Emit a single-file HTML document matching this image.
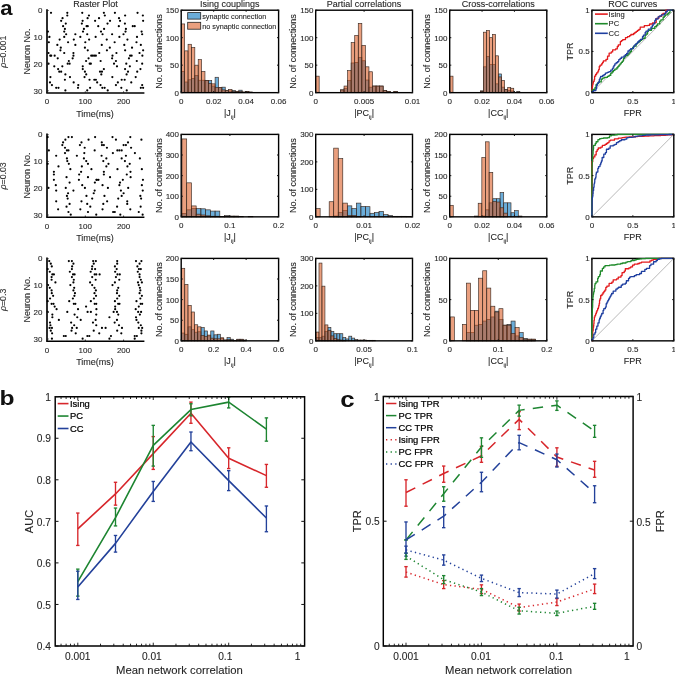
<!DOCTYPE html>
<html><head><meta charset="utf-8"><style>
html,body{margin:0;padding:0;background:#fff;width:675px;height:675px;overflow:hidden}
svg{display:block;filter:blur(0.3px)}
text{font-family:"Liberation Sans",sans-serif}
</style></head><body>
<svg width="675" height="675" viewBox="0 0 675 675">
<rect width="675" height="675" fill="#fff"/>
<text x="0" y="0" font-size="20.5" font-weight="bold" fill="#111" text-anchor="middle" transform="translate(6.5 14.9) scale(1.08 1)">a</text>
<text x="0" y="0" font-size="20.5" font-weight="bold" fill="#111" text-anchor="middle" transform="translate(7.0 405.3) scale(1.2 1)">b</text>
<text x="0" y="0" font-size="21.5" font-weight="bold" fill="#111" text-anchor="middle" transform="translate(347.3 406.6) scale(1.2 1)">c</text>
<text x="95.5" y="7" font-size="9.0" text-anchor="middle" fill="#262626" stroke="#262626" stroke-width="0.1">Raster Plot</text>
<text x="229.7" y="7" font-size="9.0" text-anchor="middle" fill="#262626" stroke="#262626" stroke-width="0.1">Ising couplings</text>
<text x="364" y="7" font-size="9.0" text-anchor="middle" fill="#262626" stroke="#262626" stroke-width="0.1">Partial correlations</text>
<text x="498.3" y="7" font-size="9.0" text-anchor="middle" fill="#262626" stroke="#262626" stroke-width="0.1">Cross-correlations</text>
<text x="632.8" y="7" font-size="9.0" text-anchor="middle" fill="#262626" stroke="#262626" stroke-width="0.1">ROC curves</text>
<circle cx="51.02" cy="12.83" r="1.1" fill="#000"/>
<circle cx="67.3" cy="12.83" r="1.1" fill="#000"/>
<circle cx="82.24" cy="12.83" r="1.1" fill="#000"/>
<circle cx="103.88" cy="12.83" r="1.1" fill="#000"/>
<circle cx="114.91" cy="12.83" r="1.1" fill="#000"/>
<circle cx="137.54" cy="12.83" r="1.1" fill="#000"/>
<circle cx="67.3" cy="15.5" r="1.1" fill="#000"/>
<circle cx="88.94" cy="15.5" r="1.1" fill="#000"/>
<circle cx="104.83" cy="15.5" r="1.1" fill="#000"/>
<circle cx="125.13" cy="15.5" r="1.1" fill="#000"/>
<circle cx="142.86" cy="15.5" r="1.1" fill="#000"/>
<circle cx="62.55" cy="18.18" r="1.1" fill="#000"/>
<circle cx="87.6" cy="18.18" r="1.1" fill="#000"/>
<circle cx="99.01" cy="18.18" r="1.1" fill="#000"/>
<circle cx="119" cy="18.18" r="1.1" fill="#000"/>
<circle cx="61.17" cy="20.86" r="1.1" fill="#000"/>
<circle cx="82.62" cy="20.86" r="1.1" fill="#000"/>
<circle cx="95.1" cy="20.86" r="1.1" fill="#000"/>
<circle cx="110.04" cy="20.86" r="1.1" fill="#000"/>
<circle cx="120.04" cy="20.86" r="1.1" fill="#000"/>
<circle cx="143.13" cy="20.86" r="1.1" fill="#000"/>
<circle cx="65.77" cy="23.53" r="1.1" fill="#000"/>
<circle cx="81.85" cy="23.53" r="1.1" fill="#000"/>
<circle cx="107.51" cy="23.53" r="1.1" fill="#000"/>
<circle cx="124.9" cy="23.53" r="1.1" fill="#000"/>
<circle cx="63.09" cy="26.21" r="1.1" fill="#000"/>
<circle cx="86.6" cy="26.21" r="1.1" fill="#000"/>
<circle cx="87.75" cy="26.21" r="1.1" fill="#000"/>
<circle cx="98.25" cy="26.21" r="1.1" fill="#000"/>
<circle cx="118.81" cy="26.21" r="1.1" fill="#000"/>
<circle cx="132.79" cy="26.21" r="1.1" fill="#000"/>
<circle cx="134.71" cy="26.21" r="1.1" fill="#000"/>
<circle cx="64.89" cy="28.89" r="1.1" fill="#000"/>
<circle cx="83.92" cy="28.89" r="1.1" fill="#000"/>
<circle cx="104.07" cy="28.89" r="1.1" fill="#000"/>
<circle cx="125.9" cy="28.89" r="1.1" fill="#000"/>
<circle cx="47.92" cy="31.57" r="1.1" fill="#000"/>
<circle cx="64.23" cy="31.57" r="1.1" fill="#000"/>
<circle cx="83" cy="31.57" r="1.1" fill="#000"/>
<circle cx="101" cy="31.57" r="1.1" fill="#000"/>
<circle cx="125.51" cy="31.57" r="1.1" fill="#000"/>
<circle cx="141.6" cy="31.57" r="1.1" fill="#000"/>
<circle cx="66.15" cy="34.24" r="1.1" fill="#000"/>
<circle cx="75.34" cy="34.24" r="1.1" fill="#000"/>
<circle cx="87.22" cy="34.24" r="1.1" fill="#000"/>
<circle cx="102.53" cy="34.24" r="1.1" fill="#000"/>
<circle cx="112.11" cy="34.24" r="1.1" fill="#000"/>
<circle cx="123.52" cy="34.24" r="1.1" fill="#000"/>
<circle cx="142.18" cy="34.24" r="1.1" fill="#000"/>
<circle cx="49.45" cy="36.92" r="1.1" fill="#000"/>
<circle cx="64.23" cy="36.92" r="1.1" fill="#000"/>
<circle cx="80.32" cy="36.92" r="1.1" fill="#000"/>
<circle cx="95.64" cy="36.92" r="1.1" fill="#000"/>
<circle cx="119.39" cy="36.92" r="1.1" fill="#000"/>
<circle cx="137" cy="36.92" r="1.1" fill="#000"/>
<circle cx="59.64" cy="39.6" r="1.1" fill="#000"/>
<circle cx="73.81" cy="39.6" r="1.1" fill="#000"/>
<circle cx="89.13" cy="39.6" r="1.1" fill="#000"/>
<circle cx="106.75" cy="39.6" r="1.1" fill="#000"/>
<circle cx="127.43" cy="39.6" r="1.1" fill="#000"/>
<circle cx="48.84" cy="42.27" r="1.1" fill="#000"/>
<circle cx="68.06" cy="42.27" r="1.1" fill="#000"/>
<circle cx="85.3" cy="42.27" r="1.1" fill="#000"/>
<circle cx="114.64" cy="42.27" r="1.1" fill="#000"/>
<circle cx="136.47" cy="42.27" r="1.1" fill="#000"/>
<circle cx="57.34" cy="44.95" r="1.1" fill="#000"/>
<circle cx="75.34" cy="44.95" r="1.1" fill="#000"/>
<circle cx="101.77" cy="44.95" r="1.1" fill="#000"/>
<circle cx="124.29" cy="44.95" r="1.1" fill="#000"/>
<circle cx="140.83" cy="44.95" r="1.1" fill="#000"/>
<circle cx="60.79" cy="47.63" r="1.1" fill="#000"/>
<circle cx="84.92" cy="47.63" r="1.1" fill="#000"/>
<circle cx="109.81" cy="47.63" r="1.1" fill="#000"/>
<circle cx="132.03" cy="47.63" r="1.1" fill="#000"/>
<circle cx="60.41" cy="50.3" r="1.1" fill="#000"/>
<circle cx="87.75" cy="50.3" r="1.1" fill="#000"/>
<circle cx="106.94" cy="50.3" r="1.1" fill="#000"/>
<circle cx="125.13" cy="50.3" r="1.1" fill="#000"/>
<circle cx="143.13" cy="50.3" r="1.1" fill="#000"/>
<circle cx="48.46" cy="52.98" r="1.1" fill="#000"/>
<circle cx="64.23" cy="52.98" r="1.1" fill="#000"/>
<circle cx="73.43" cy="52.98" r="1.1" fill="#000"/>
<circle cx="99.24" cy="52.98" r="1.1" fill="#000"/>
<circle cx="116.44" cy="52.98" r="1.1" fill="#000"/>
<circle cx="139.53" cy="52.98" r="1.1" fill="#000"/>
<circle cx="50.26" cy="55.66" r="1.1" fill="#000"/>
<circle cx="51.21" cy="55.66" r="1.1" fill="#000"/>
<circle cx="54.66" cy="55.66" r="1.1" fill="#000"/>
<circle cx="73.43" cy="55.66" r="1.1" fill="#000"/>
<circle cx="91.24" cy="55.66" r="1.1" fill="#000"/>
<circle cx="92.77" cy="55.66" r="1.1" fill="#000"/>
<circle cx="94.3" cy="55.66" r="1.1" fill="#000"/>
<circle cx="95.87" cy="55.66" r="1.1" fill="#000"/>
<circle cx="112.49" cy="55.66" r="1.1" fill="#000"/>
<circle cx="130.11" cy="55.66" r="1.1" fill="#000"/>
<circle cx="131.64" cy="55.66" r="1.1" fill="#000"/>
<circle cx="142.37" cy="55.66" r="1.1" fill="#000"/>
<circle cx="57.72" cy="58.34" r="1.1" fill="#000"/>
<circle cx="72.66" cy="58.34" r="1.1" fill="#000"/>
<circle cx="88.56" cy="58.34" r="1.1" fill="#000"/>
<circle cx="112.11" cy="58.34" r="1.1" fill="#000"/>
<circle cx="128.96" cy="58.34" r="1.1" fill="#000"/>
<circle cx="68.83" cy="61.01" r="1.1" fill="#000"/>
<circle cx="86.07" cy="61.01" r="1.1" fill="#000"/>
<circle cx="100.62" cy="61.01" r="1.1" fill="#000"/>
<circle cx="115.94" cy="61.01" r="1.1" fill="#000"/>
<circle cx="136.78" cy="61.01" r="1.1" fill="#000"/>
<circle cx="48.53" cy="63.69" r="1.1" fill="#000"/>
<circle cx="67.68" cy="63.69" r="1.1" fill="#000"/>
<circle cx="69.6" cy="63.69" r="1.1" fill="#000"/>
<circle cx="89.7" cy="63.69" r="1.1" fill="#000"/>
<circle cx="90.85" cy="63.69" r="1.1" fill="#000"/>
<circle cx="114.02" cy="63.69" r="1.1" fill="#000"/>
<circle cx="126.28" cy="63.69" r="1.1" fill="#000"/>
<circle cx="142.18" cy="63.69" r="1.1" fill="#000"/>
<circle cx="54.28" cy="66.37" r="1.1" fill="#000"/>
<circle cx="62.32" cy="66.37" r="1.1" fill="#000"/>
<circle cx="82.77" cy="66.37" r="1.1" fill="#000"/>
<circle cx="116.97" cy="66.37" r="1.1" fill="#000"/>
<circle cx="129.84" cy="66.37" r="1.1" fill="#000"/>
<circle cx="58.11" cy="69.04" r="1.1" fill="#000"/>
<circle cx="82.77" cy="69.04" r="1.1" fill="#000"/>
<circle cx="103.88" cy="69.04" r="1.1" fill="#000"/>
<circle cx="125.06" cy="69.04" r="1.1" fill="#000"/>
<circle cx="140.45" cy="69.04" r="1.1" fill="#000"/>
<circle cx="59.26" cy="71.72" r="1.1" fill="#000"/>
<circle cx="61.17" cy="71.72" r="1.1" fill="#000"/>
<circle cx="84.92" cy="71.72" r="1.1" fill="#000"/>
<circle cx="100.01" cy="71.72" r="1.1" fill="#000"/>
<circle cx="101.96" cy="71.72" r="1.1" fill="#000"/>
<circle cx="128" cy="71.72" r="1.1" fill="#000"/>
<circle cx="137.23" cy="71.72" r="1.1" fill="#000"/>
<circle cx="65.38" cy="74.4" r="1.1" fill="#000"/>
<circle cx="86.22" cy="74.4" r="1.1" fill="#000"/>
<circle cx="101.31" cy="74.4" r="1.1" fill="#000"/>
<circle cx="126.59" cy="74.4" r="1.1" fill="#000"/>
<circle cx="50.41" cy="77.08" r="1.1" fill="#000"/>
<circle cx="69.98" cy="77.08" r="1.1" fill="#000"/>
<circle cx="84.53" cy="77.08" r="1.1" fill="#000"/>
<circle cx="112.34" cy="77.08" r="1.1" fill="#000"/>
<circle cx="135.7" cy="77.08" r="1.1" fill="#000"/>
<circle cx="64.89" cy="79.75" r="1.1" fill="#000"/>
<circle cx="89.51" cy="79.75" r="1.1" fill="#000"/>
<circle cx="94.3" cy="79.75" r="1.1" fill="#000"/>
<circle cx="95.87" cy="79.75" r="1.1" fill="#000"/>
<circle cx="121.68" cy="79.75" r="1.1" fill="#000"/>
<circle cx="124.67" cy="79.75" r="1.1" fill="#000"/>
<circle cx="49.99" cy="82.43" r="1.1" fill="#000"/>
<circle cx="73.66" cy="82.43" r="1.1" fill="#000"/>
<circle cx="97.17" cy="82.43" r="1.1" fill="#000"/>
<circle cx="117.85" cy="82.43" r="1.1" fill="#000"/>
<circle cx="131.26" cy="82.43" r="1.1" fill="#000"/>
<circle cx="51.94" cy="85.11" r="1.1" fill="#000"/>
<circle cx="78.29" cy="85.11" r="1.1" fill="#000"/>
<circle cx="100.54" cy="85.11" r="1.1" fill="#000"/>
<circle cx="115.94" cy="85.11" r="1.1" fill="#000"/>
<circle cx="142.18" cy="85.11" r="1.1" fill="#000"/>
<circle cx="56.19" cy="87.78" r="1.1" fill="#000"/>
<circle cx="58.49" cy="87.78" r="1.1" fill="#000"/>
<circle cx="78.02" cy="87.78" r="1.1" fill="#000"/>
<circle cx="90.09" cy="87.78" r="1.1" fill="#000"/>
<circle cx="102.34" cy="87.78" r="1.1" fill="#000"/>
<circle cx="104.64" cy="87.78" r="1.1" fill="#000"/>
<circle cx="121.3" cy="87.78" r="1.1" fill="#000"/>
<circle cx="140.83" cy="87.78" r="1.1" fill="#000"/>
<circle cx="143.13" cy="87.78" r="1.1" fill="#000"/>
<circle cx="65.38" cy="90.46" r="1.1" fill="#000"/>
<circle cx="87.22" cy="90.46" r="1.1" fill="#000"/>
<circle cx="107.71" cy="90.46" r="1.1" fill="#000"/>
<circle cx="126.74" cy="90.46" r="1.1" fill="#000"/>
<line x1="47" y1="9.3" x2="47" y2="93" stroke="#000" stroke-width="1.65"/>
<line x1="46.2" y1="93" x2="144.4" y2="93" stroke="#000" stroke-width="1.65"/>
<line x1="47" y1="10.5" x2="48.6" y2="10.5" stroke="#222" stroke-width="1"/>
<text x="42.5" y="13.2" font-size="8.0" text-anchor="end" fill="#262626" stroke="#262626" stroke-width="0.1">0</text>
<line x1="47" y1="37.27" x2="48.6" y2="37.27" stroke="#222" stroke-width="1"/>
<text x="42.5" y="39.97" font-size="8.0" text-anchor="end" fill="#262626" stroke="#262626" stroke-width="0.1">10</text>
<line x1="47" y1="64.04" x2="48.6" y2="64.04" stroke="#222" stroke-width="1"/>
<text x="42.5" y="66.74" font-size="8.0" text-anchor="end" fill="#262626" stroke="#262626" stroke-width="0.1">20</text>
<line x1="47" y1="90.81" x2="48.6" y2="90.81" stroke="#222" stroke-width="1"/>
<text x="42.5" y="93.51" font-size="8.0" text-anchor="end" fill="#262626" stroke="#262626" stroke-width="0.1">30</text>
<line x1="47" y1="93" x2="47" y2="91.4" stroke="#222" stroke-width="1"/>
<text x="47" y="104.3" font-size="8.0" text-anchor="middle" fill="#262626" stroke="#262626" stroke-width="0.1">0</text>
<line x1="85.3" y1="93" x2="85.3" y2="91.4" stroke="#222" stroke-width="1"/>
<text x="85.3" y="104.3" font-size="8.0" text-anchor="middle" fill="#262626" stroke="#262626" stroke-width="0.1">100</text>
<line x1="123.6" y1="93" x2="123.6" y2="91.4" stroke="#222" stroke-width="1"/>
<text x="123.6" y="104.3" font-size="8.0" text-anchor="middle" fill="#262626" stroke="#262626" stroke-width="0.1">200</text>
<text x="95" y="117" font-size="9.0" text-anchor="middle" fill="#262626" stroke="#262626" stroke-width="0.1">Time(ms)</text>
<text x="30.5" y="51.4" font-size="9.0" text-anchor="middle" fill="#262626" stroke="#262626" stroke-width="0.1" transform="rotate(-90 30.5 51.4)">Neuron No.</text>
<circle cx="47.69" cy="137.03" r="1.1" fill="#000"/>
<circle cx="68.45" cy="137.03" r="1.1" fill="#000"/>
<circle cx="71.89" cy="137.03" r="1.1" fill="#000"/>
<circle cx="95.1" cy="137.03" r="1.1" fill="#000"/>
<circle cx="112.49" cy="137.03" r="1.1" fill="#000"/>
<circle cx="130.3" cy="137.03" r="1.1" fill="#000"/>
<circle cx="65.38" cy="139.7" r="1.1" fill="#000"/>
<circle cx="88.56" cy="139.7" r="1.1" fill="#000"/>
<circle cx="115.94" cy="139.7" r="1.1" fill="#000"/>
<circle cx="141.41" cy="139.7" r="1.1" fill="#000"/>
<circle cx="63.09" cy="142.38" r="1.1" fill="#000"/>
<circle cx="81.47" cy="142.38" r="1.1" fill="#000"/>
<circle cx="101.77" cy="142.38" r="1.1" fill="#000"/>
<circle cx="128" cy="142.38" r="1.1" fill="#000"/>
<circle cx="62.32" cy="145.06" r="1.1" fill="#000"/>
<circle cx="79.94" cy="145.06" r="1.1" fill="#000"/>
<circle cx="101.96" cy="145.06" r="1.1" fill="#000"/>
<circle cx="103.88" cy="145.06" r="1.1" fill="#000"/>
<circle cx="123.6" cy="145.06" r="1.1" fill="#000"/>
<circle cx="125.9" cy="145.06" r="1.1" fill="#000"/>
<circle cx="65" cy="147.74" r="1.1" fill="#000"/>
<circle cx="84.69" cy="147.74" r="1.1" fill="#000"/>
<circle cx="106.94" cy="147.74" r="1.1" fill="#000"/>
<circle cx="131.07" cy="147.74" r="1.1" fill="#000"/>
<circle cx="48.84" cy="150.41" r="1.1" fill="#000"/>
<circle cx="66.92" cy="150.41" r="1.1" fill="#000"/>
<circle cx="68.45" cy="150.41" r="1.1" fill="#000"/>
<circle cx="94.68" cy="150.41" r="1.1" fill="#000"/>
<circle cx="117.36" cy="150.41" r="1.1" fill="#000"/>
<circle cx="119.39" cy="150.41" r="1.1" fill="#000"/>
<circle cx="121.68" cy="150.41" r="1.1" fill="#000"/>
<circle cx="65" cy="153.09" r="1.1" fill="#000"/>
<circle cx="84.3" cy="153.09" r="1.1" fill="#000"/>
<circle cx="112.88" cy="153.09" r="1.1" fill="#000"/>
<circle cx="134.9" cy="153.09" r="1.1" fill="#000"/>
<circle cx="56.19" cy="155.77" r="1.1" fill="#000"/>
<circle cx="76.87" cy="155.77" r="1.1" fill="#000"/>
<circle cx="101.58" cy="155.77" r="1.1" fill="#000"/>
<circle cx="125.9" cy="155.77" r="1.1" fill="#000"/>
<circle cx="66.92" cy="158.44" r="1.1" fill="#000"/>
<circle cx="83.92" cy="158.44" r="1.1" fill="#000"/>
<circle cx="106.36" cy="158.44" r="1.1" fill="#000"/>
<circle cx="121.68" cy="158.44" r="1.1" fill="#000"/>
<circle cx="139.88" cy="158.44" r="1.1" fill="#000"/>
<circle cx="67.3" cy="161.12" r="1.1" fill="#000"/>
<circle cx="86.22" cy="161.12" r="1.1" fill="#000"/>
<circle cx="103.3" cy="161.12" r="1.1" fill="#000"/>
<circle cx="124.9" cy="161.12" r="1.1" fill="#000"/>
<circle cx="47.69" cy="163.8" r="1.1" fill="#000"/>
<circle cx="68.83" cy="163.8" r="1.1" fill="#000"/>
<circle cx="87.98" cy="163.8" r="1.1" fill="#000"/>
<circle cx="108.47" cy="163.8" r="1.1" fill="#000"/>
<circle cx="129.73" cy="163.8" r="1.1" fill="#000"/>
<circle cx="58.49" cy="166.47" r="1.1" fill="#000"/>
<circle cx="81.85" cy="166.47" r="1.1" fill="#000"/>
<circle cx="106.36" cy="166.47" r="1.1" fill="#000"/>
<circle cx="127.43" cy="166.47" r="1.1" fill="#000"/>
<circle cx="70.36" cy="169.15" r="1.1" fill="#000"/>
<circle cx="91.43" cy="169.15" r="1.1" fill="#000"/>
<circle cx="117.47" cy="169.15" r="1.1" fill="#000"/>
<circle cx="141.87" cy="169.15" r="1.1" fill="#000"/>
<circle cx="53.89" cy="171.83" r="1.1" fill="#000"/>
<circle cx="81.09" cy="171.83" r="1.1" fill="#000"/>
<circle cx="103.88" cy="171.83" r="1.1" fill="#000"/>
<circle cx="130.49" cy="171.83" r="1.1" fill="#000"/>
<circle cx="53.89" cy="174.51" r="1.1" fill="#000"/>
<circle cx="79.17" cy="174.51" r="1.1" fill="#000"/>
<circle cx="103.88" cy="174.51" r="1.1" fill="#000"/>
<circle cx="126.78" cy="174.51" r="1.1" fill="#000"/>
<circle cx="66.53" cy="177.18" r="1.1" fill="#000"/>
<circle cx="87.98" cy="177.18" r="1.1" fill="#000"/>
<circle cx="110.04" cy="177.18" r="1.1" fill="#000"/>
<circle cx="130.61" cy="177.18" r="1.1" fill="#000"/>
<circle cx="53.89" cy="179.86" r="1.1" fill="#000"/>
<circle cx="78.9" cy="179.86" r="1.1" fill="#000"/>
<circle cx="96.41" cy="179.86" r="1.1" fill="#000"/>
<circle cx="96.94" cy="179.86" r="1.1" fill="#000"/>
<circle cx="98.48" cy="179.86" r="1.1" fill="#000"/>
<circle cx="122.83" cy="179.86" r="1.1" fill="#000"/>
<circle cx="142.94" cy="179.86" r="1.1" fill="#000"/>
<circle cx="69.6" cy="182.54" r="1.1" fill="#000"/>
<circle cx="94.88" cy="182.54" r="1.1" fill="#000"/>
<circle cx="120.04" cy="182.54" r="1.1" fill="#000"/>
<circle cx="55.81" cy="185.21" r="1.1" fill="#000"/>
<circle cx="82.24" cy="185.21" r="1.1" fill="#000"/>
<circle cx="102.53" cy="185.21" r="1.1" fill="#000"/>
<circle cx="119.39" cy="185.21" r="1.1" fill="#000"/>
<circle cx="141.87" cy="185.21" r="1.1" fill="#000"/>
<circle cx="48.46" cy="187.89" r="1.1" fill="#000"/>
<circle cx="65.77" cy="187.89" r="1.1" fill="#000"/>
<circle cx="84.92" cy="187.89" r="1.1" fill="#000"/>
<circle cx="107.9" cy="187.89" r="1.1" fill="#000"/>
<circle cx="128.2" cy="187.89" r="1.1" fill="#000"/>
<circle cx="56.19" cy="190.57" r="1.1" fill="#000"/>
<circle cx="73.43" cy="190.57" r="1.1" fill="#000"/>
<circle cx="94.68" cy="190.57" r="1.1" fill="#000"/>
<circle cx="120.92" cy="190.57" r="1.1" fill="#000"/>
<circle cx="142.75" cy="190.57" r="1.1" fill="#000"/>
<circle cx="68.06" cy="193.24" r="1.1" fill="#000"/>
<circle cx="93.73" cy="193.24" r="1.1" fill="#000"/>
<circle cx="123.6" cy="193.24" r="1.1" fill="#000"/>
<circle cx="66.92" cy="195.92" r="1.1" fill="#000"/>
<circle cx="86.45" cy="195.92" r="1.1" fill="#000"/>
<circle cx="104.45" cy="195.92" r="1.1" fill="#000"/>
<circle cx="121.68" cy="195.92" r="1.1" fill="#000"/>
<circle cx="140.34" cy="195.92" r="1.1" fill="#000"/>
<circle cx="67.68" cy="198.6" r="1.1" fill="#000"/>
<circle cx="92.19" cy="198.6" r="1.1" fill="#000"/>
<circle cx="118.24" cy="198.6" r="1.1" fill="#000"/>
<circle cx="141.1" cy="198.6" r="1.1" fill="#000"/>
<circle cx="56.19" cy="201.28" r="1.1" fill="#000"/>
<circle cx="81.47" cy="201.28" r="1.1" fill="#000"/>
<circle cx="107.13" cy="201.28" r="1.1" fill="#000"/>
<circle cx="127.24" cy="201.28" r="1.1" fill="#000"/>
<circle cx="69.6" cy="203.95" r="1.1" fill="#000"/>
<circle cx="87.22" cy="203.95" r="1.1" fill="#000"/>
<circle cx="103.3" cy="203.95" r="1.1" fill="#000"/>
<circle cx="127.24" cy="203.95" r="1.1" fill="#000"/>
<circle cx="66.53" cy="206.63" r="1.1" fill="#000"/>
<circle cx="90.28" cy="206.63" r="1.1" fill="#000"/>
<circle cx="117.09" cy="206.63" r="1.1" fill="#000"/>
<circle cx="140.64" cy="206.63" r="1.1" fill="#000"/>
<circle cx="58.11" cy="209.31" r="1.1" fill="#000"/>
<circle cx="80.32" cy="209.31" r="1.1" fill="#000"/>
<circle cx="102.53" cy="209.31" r="1.1" fill="#000"/>
<circle cx="130.3" cy="209.31" r="1.1" fill="#000"/>
<circle cx="68.45" cy="211.98" r="1.1" fill="#000"/>
<circle cx="87.98" cy="211.98" r="1.1" fill="#000"/>
<circle cx="113.11" cy="211.98" r="1.1" fill="#000"/>
<circle cx="114.79" cy="211.98" r="1.1" fill="#000"/>
<circle cx="138.77" cy="211.98" r="1.1" fill="#000"/>
<circle cx="70.75" cy="214.66" r="1.1" fill="#000"/>
<circle cx="96.25" cy="214.66" r="1.1" fill="#000"/>
<circle cx="120.31" cy="214.66" r="1.1" fill="#000"/>
<circle cx="142.64" cy="214.66" r="1.1" fill="#000"/>
<line x1="47" y1="133.5" x2="47" y2="217.2" stroke="#000" stroke-width="1.65"/>
<line x1="46.2" y1="217.2" x2="144.4" y2="217.2" stroke="#000" stroke-width="1.65"/>
<line x1="47" y1="134.7" x2="48.6" y2="134.7" stroke="#222" stroke-width="1"/>
<text x="42.5" y="137.4" font-size="8.0" text-anchor="end" fill="#262626" stroke="#262626" stroke-width="0.1">0</text>
<line x1="47" y1="161.47" x2="48.6" y2="161.47" stroke="#222" stroke-width="1"/>
<text x="42.5" y="164.17" font-size="8.0" text-anchor="end" fill="#262626" stroke="#262626" stroke-width="0.1">10</text>
<line x1="47" y1="188.24" x2="48.6" y2="188.24" stroke="#222" stroke-width="1"/>
<text x="42.5" y="190.94" font-size="8.0" text-anchor="end" fill="#262626" stroke="#262626" stroke-width="0.1">20</text>
<line x1="47" y1="215.01" x2="48.6" y2="215.01" stroke="#222" stroke-width="1"/>
<text x="42.5" y="217.71" font-size="8.0" text-anchor="end" fill="#262626" stroke="#262626" stroke-width="0.1">30</text>
<line x1="47" y1="217.2" x2="47" y2="215.6" stroke="#222" stroke-width="1"/>
<text x="47" y="228.5" font-size="8.0" text-anchor="middle" fill="#262626" stroke="#262626" stroke-width="0.1">0</text>
<line x1="85.3" y1="217.2" x2="85.3" y2="215.6" stroke="#222" stroke-width="1"/>
<text x="85.3" y="228.5" font-size="8.0" text-anchor="middle" fill="#262626" stroke="#262626" stroke-width="0.1">100</text>
<line x1="123.6" y1="217.2" x2="123.6" y2="215.6" stroke="#222" stroke-width="1"/>
<text x="123.6" y="228.5" font-size="8.0" text-anchor="middle" fill="#262626" stroke="#262626" stroke-width="0.1">200</text>
<text x="95" y="241.2" font-size="9.0" text-anchor="middle" fill="#262626" stroke="#262626" stroke-width="0.1">Time(ms)</text>
<text x="30.5" y="175.6" font-size="9.0" text-anchor="middle" fill="#262626" stroke="#262626" stroke-width="0.1" transform="rotate(-90 30.5 175.6)">Neuron No.</text>
<circle cx="49.22" cy="261.03" r="1.1" fill="#000"/>
<circle cx="68.83" cy="261.03" r="1.1" fill="#000"/>
<circle cx="71.89" cy="261.03" r="1.1" fill="#000"/>
<circle cx="93.15" cy="261.03" r="1.1" fill="#000"/>
<circle cx="95.87" cy="261.03" r="1.1" fill="#000"/>
<circle cx="117.2" cy="261.03" r="1.1" fill="#000"/>
<circle cx="136.01" cy="261.03" r="1.1" fill="#000"/>
<circle cx="141.41" cy="261.03" r="1.1" fill="#000"/>
<circle cx="50.79" cy="263.7" r="1.1" fill="#000"/>
<circle cx="73.43" cy="263.7" r="1.1" fill="#000"/>
<circle cx="93.73" cy="263.7" r="1.1" fill="#000"/>
<circle cx="117.2" cy="263.7" r="1.1" fill="#000"/>
<circle cx="139.57" cy="263.7" r="1.1" fill="#000"/>
<circle cx="51.79" cy="266.38" r="1.1" fill="#000"/>
<circle cx="72.12" cy="266.38" r="1.1" fill="#000"/>
<circle cx="92.19" cy="266.38" r="1.1" fill="#000"/>
<circle cx="114.91" cy="266.38" r="1.1" fill="#000"/>
<circle cx="137.39" cy="266.38" r="1.1" fill="#000"/>
<circle cx="47.69" cy="269.06" r="1.1" fill="#000"/>
<circle cx="71.89" cy="269.06" r="1.1" fill="#000"/>
<circle cx="92" cy="269.06" r="1.1" fill="#000"/>
<circle cx="95.1" cy="269.06" r="1.1" fill="#000"/>
<circle cx="116.71" cy="269.06" r="1.1" fill="#000"/>
<circle cx="138.92" cy="269.06" r="1.1" fill="#000"/>
<circle cx="140.83" cy="269.06" r="1.1" fill="#000"/>
<circle cx="49.76" cy="271.73" r="1.1" fill="#000"/>
<circle cx="69.83" cy="271.73" r="1.1" fill="#000"/>
<circle cx="90.66" cy="271.73" r="1.1" fill="#000"/>
<circle cx="115.17" cy="271.73" r="1.1" fill="#000"/>
<circle cx="137.77" cy="271.73" r="1.1" fill="#000"/>
<circle cx="52.32" cy="274.41" r="1.1" fill="#000"/>
<circle cx="53.89" cy="274.41" r="1.1" fill="#000"/>
<circle cx="73.04" cy="274.41" r="1.1" fill="#000"/>
<circle cx="74.58" cy="274.41" r="1.1" fill="#000"/>
<circle cx="94.68" cy="274.41" r="1.1" fill="#000"/>
<circle cx="96.25" cy="274.41" r="1.1" fill="#000"/>
<circle cx="99.62" cy="274.41" r="1.1" fill="#000"/>
<circle cx="117.47" cy="274.41" r="1.1" fill="#000"/>
<circle cx="119.77" cy="274.41" r="1.1" fill="#000"/>
<circle cx="139.57" cy="274.41" r="1.1" fill="#000"/>
<circle cx="51.6" cy="277.09" r="1.1" fill="#000"/>
<circle cx="71.89" cy="277.09" r="1.1" fill="#000"/>
<circle cx="92.19" cy="277.09" r="1.1" fill="#000"/>
<circle cx="115.94" cy="277.09" r="1.1" fill="#000"/>
<circle cx="139.57" cy="277.09" r="1.1" fill="#000"/>
<circle cx="51.6" cy="279.77" r="1.1" fill="#000"/>
<circle cx="73.81" cy="279.77" r="1.1" fill="#000"/>
<circle cx="95.64" cy="279.77" r="1.1" fill="#000"/>
<circle cx="119.27" cy="279.77" r="1.1" fill="#000"/>
<circle cx="140.83" cy="279.77" r="1.1" fill="#000"/>
<circle cx="55.43" cy="282.44" r="1.1" fill="#000"/>
<circle cx="73.43" cy="282.44" r="1.1" fill="#000"/>
<circle cx="90.09" cy="282.44" r="1.1" fill="#000"/>
<circle cx="114.91" cy="282.44" r="1.1" fill="#000"/>
<circle cx="138" cy="282.44" r="1.1" fill="#000"/>
<circle cx="141.87" cy="282.44" r="1.1" fill="#000"/>
<circle cx="48.07" cy="285.12" r="1.1" fill="#000"/>
<circle cx="70.36" cy="285.12" r="1.1" fill="#000"/>
<circle cx="92.19" cy="285.12" r="1.1" fill="#000"/>
<circle cx="112.49" cy="285.12" r="1.1" fill="#000"/>
<circle cx="138.77" cy="285.12" r="1.1" fill="#000"/>
<circle cx="49.76" cy="287.8" r="1.1" fill="#000"/>
<circle cx="74.19" cy="287.8" r="1.1" fill="#000"/>
<circle cx="94.49" cy="287.8" r="1.1" fill="#000"/>
<circle cx="118.24" cy="287.8" r="1.1" fill="#000"/>
<circle cx="139.88" cy="287.8" r="1.1" fill="#000"/>
<circle cx="51.6" cy="290.47" r="1.1" fill="#000"/>
<circle cx="73.43" cy="290.47" r="1.1" fill="#000"/>
<circle cx="95.87" cy="290.47" r="1.1" fill="#000"/>
<circle cx="117.2" cy="290.47" r="1.1" fill="#000"/>
<circle cx="140.34" cy="290.47" r="1.1" fill="#000"/>
<circle cx="51.79" cy="293.15" r="1.1" fill="#000"/>
<circle cx="74.96" cy="293.15" r="1.1" fill="#000"/>
<circle cx="94.49" cy="293.15" r="1.1" fill="#000"/>
<circle cx="116.97" cy="293.15" r="1.1" fill="#000"/>
<circle cx="139.57" cy="293.15" r="1.1" fill="#000"/>
<circle cx="53.13" cy="295.83" r="1.1" fill="#000"/>
<circle cx="74.42" cy="295.83" r="1.1" fill="#000"/>
<circle cx="96.02" cy="295.83" r="1.1" fill="#000"/>
<circle cx="119.27" cy="295.83" r="1.1" fill="#000"/>
<circle cx="141.87" cy="295.83" r="1.1" fill="#000"/>
<circle cx="50.06" cy="298.5" r="1.1" fill="#000"/>
<circle cx="72.89" cy="298.5" r="1.1" fill="#000"/>
<circle cx="93.92" cy="298.5" r="1.1" fill="#000"/>
<circle cx="117.2" cy="298.5" r="1.1" fill="#000"/>
<circle cx="140.34" cy="298.5" r="1.1" fill="#000"/>
<circle cx="47.69" cy="301.18" r="1.1" fill="#000"/>
<circle cx="69.21" cy="301.18" r="1.1" fill="#000"/>
<circle cx="90.85" cy="301.18" r="1.1" fill="#000"/>
<circle cx="114.91" cy="301.18" r="1.1" fill="#000"/>
<circle cx="136.47" cy="301.18" r="1.1" fill="#000"/>
<circle cx="51.6" cy="303.86" r="1.1" fill="#000"/>
<circle cx="53.51" cy="303.86" r="1.1" fill="#000"/>
<circle cx="73.81" cy="303.86" r="1.1" fill="#000"/>
<circle cx="75.34" cy="303.86" r="1.1" fill="#000"/>
<circle cx="94.68" cy="303.86" r="1.1" fill="#000"/>
<circle cx="96.25" cy="303.86" r="1.1" fill="#000"/>
<circle cx="118.12" cy="303.86" r="1.1" fill="#000"/>
<circle cx="119.5" cy="303.86" r="1.1" fill="#000"/>
<circle cx="140.64" cy="303.86" r="1.1" fill="#000"/>
<circle cx="142.18" cy="303.86" r="1.1" fill="#000"/>
<circle cx="54.66" cy="306.54" r="1.1" fill="#000"/>
<circle cx="86.07" cy="306.54" r="1.1" fill="#000"/>
<circle cx="115.17" cy="306.54" r="1.1" fill="#000"/>
<circle cx="138.77" cy="306.54" r="1.1" fill="#000"/>
<circle cx="56.58" cy="309.21" r="1.1" fill="#000"/>
<circle cx="78.02" cy="309.21" r="1.1" fill="#000"/>
<circle cx="96.41" cy="309.21" r="1.1" fill="#000"/>
<circle cx="115.17" cy="309.21" r="1.1" fill="#000"/>
<circle cx="135.7" cy="309.21" r="1.1" fill="#000"/>
<circle cx="47.69" cy="311.89" r="1.1" fill="#000"/>
<circle cx="67.3" cy="311.89" r="1.1" fill="#000"/>
<circle cx="87.6" cy="311.89" r="1.1" fill="#000"/>
<circle cx="90.85" cy="311.89" r="1.1" fill="#000"/>
<circle cx="113.64" cy="311.89" r="1.1" fill="#000"/>
<circle cx="116.97" cy="311.89" r="1.1" fill="#000"/>
<circle cx="138.15" cy="311.89" r="1.1" fill="#000"/>
<circle cx="141.1" cy="311.89" r="1.1" fill="#000"/>
<circle cx="52.36" cy="314.57" r="1.1" fill="#000"/>
<circle cx="74.58" cy="314.57" r="1.1" fill="#000"/>
<circle cx="96.25" cy="314.57" r="1.1" fill="#000"/>
<circle cx="118.24" cy="314.57" r="1.1" fill="#000"/>
<circle cx="139.88" cy="314.57" r="1.1" fill="#000"/>
<circle cx="52.36" cy="317.24" r="1.1" fill="#000"/>
<circle cx="77.26" cy="317.24" r="1.1" fill="#000"/>
<circle cx="109.43" cy="317.24" r="1.1" fill="#000"/>
<circle cx="136.01" cy="317.24" r="1.1" fill="#000"/>
<circle cx="58.87" cy="319.92" r="1.1" fill="#000"/>
<circle cx="80.7" cy="319.92" r="1.1" fill="#000"/>
<circle cx="95.64" cy="319.92" r="1.1" fill="#000"/>
<circle cx="116.97" cy="319.92" r="1.1" fill="#000"/>
<circle cx="136.47" cy="319.92" r="1.1" fill="#000"/>
<circle cx="49.99" cy="322.6" r="1.1" fill="#000"/>
<circle cx="71.13" cy="322.6" r="1.1" fill="#000"/>
<circle cx="92.96" cy="322.6" r="1.1" fill="#000"/>
<circle cx="114.68" cy="322.6" r="1.1" fill="#000"/>
<circle cx="138.31" cy="322.6" r="1.1" fill="#000"/>
<circle cx="50.41" cy="325.27" r="1.1" fill="#000"/>
<circle cx="74.19" cy="325.27" r="1.1" fill="#000"/>
<circle cx="96.25" cy="325.27" r="1.1" fill="#000"/>
<circle cx="119" cy="325.27" r="1.1" fill="#000"/>
<circle cx="140.83" cy="325.27" r="1.1" fill="#000"/>
<circle cx="49.6" cy="327.95" r="1.1" fill="#000"/>
<circle cx="51.94" cy="327.95" r="1.1" fill="#000"/>
<circle cx="72.12" cy="327.95" r="1.1" fill="#000"/>
<circle cx="76.76" cy="327.95" r="1.1" fill="#000"/>
<circle cx="101.96" cy="327.95" r="1.1" fill="#000"/>
<circle cx="105.6" cy="327.95" r="1.1" fill="#000"/>
<circle cx="121.99" cy="327.95" r="1.1" fill="#000"/>
<circle cx="138.77" cy="327.95" r="1.1" fill="#000"/>
<circle cx="142.18" cy="327.95" r="1.1" fill="#000"/>
<circle cx="50.79" cy="330.63" r="1.1" fill="#000"/>
<circle cx="71.51" cy="330.63" r="1.1" fill="#000"/>
<circle cx="93.73" cy="330.63" r="1.1" fill="#000"/>
<circle cx="117.2" cy="330.63" r="1.1" fill="#000"/>
<circle cx="141.41" cy="330.63" r="1.1" fill="#000"/>
<circle cx="52.09" cy="333.31" r="1.1" fill="#000"/>
<circle cx="75.72" cy="333.31" r="1.1" fill="#000"/>
<circle cx="99.24" cy="333.31" r="1.1" fill="#000"/>
<circle cx="121.3" cy="333.31" r="1.1" fill="#000"/>
<circle cx="141.41" cy="333.31" r="1.1" fill="#000"/>
<circle cx="63.85" cy="335.98" r="1.1" fill="#000"/>
<circle cx="65.77" cy="335.98" r="1.1" fill="#000"/>
<circle cx="87.37" cy="335.98" r="1.1" fill="#000"/>
<circle cx="89.32" cy="335.98" r="1.1" fill="#000"/>
<circle cx="110.96" cy="335.98" r="1.1" fill="#000"/>
<circle cx="134.71" cy="335.98" r="1.1" fill="#000"/>
<circle cx="136.85" cy="335.98" r="1.1" fill="#000"/>
<circle cx="51.94" cy="338.66" r="1.1" fill="#000"/>
<circle cx="82.62" cy="338.66" r="1.1" fill="#000"/>
<circle cx="109.43" cy="338.66" r="1.1" fill="#000"/>
<circle cx="134.71" cy="338.66" r="1.1" fill="#000"/>
<line x1="47" y1="257.5" x2="47" y2="341.2" stroke="#000" stroke-width="1.65"/>
<line x1="46.2" y1="341.2" x2="144.4" y2="341.2" stroke="#000" stroke-width="1.65"/>
<line x1="47" y1="258.7" x2="48.6" y2="258.7" stroke="#222" stroke-width="1"/>
<text x="42.5" y="261.4" font-size="8.0" text-anchor="end" fill="#262626" stroke="#262626" stroke-width="0.1">0</text>
<line x1="47" y1="285.47" x2="48.6" y2="285.47" stroke="#222" stroke-width="1"/>
<text x="42.5" y="288.17" font-size="8.0" text-anchor="end" fill="#262626" stroke="#262626" stroke-width="0.1">10</text>
<line x1="47" y1="312.24" x2="48.6" y2="312.24" stroke="#222" stroke-width="1"/>
<text x="42.5" y="314.94" font-size="8.0" text-anchor="end" fill="#262626" stroke="#262626" stroke-width="0.1">20</text>
<line x1="47" y1="339.01" x2="48.6" y2="339.01" stroke="#222" stroke-width="1"/>
<text x="42.5" y="341.71" font-size="8.0" text-anchor="end" fill="#262626" stroke="#262626" stroke-width="0.1">30</text>
<line x1="47" y1="341.2" x2="47" y2="339.6" stroke="#222" stroke-width="1"/>
<text x="47" y="352.5" font-size="8.0" text-anchor="middle" fill="#262626" stroke="#262626" stroke-width="0.1">0</text>
<line x1="85.3" y1="341.2" x2="85.3" y2="339.6" stroke="#222" stroke-width="1"/>
<text x="85.3" y="352.5" font-size="8.0" text-anchor="middle" fill="#262626" stroke="#262626" stroke-width="0.1">100</text>
<line x1="123.6" y1="341.2" x2="123.6" y2="339.6" stroke="#222" stroke-width="1"/>
<text x="123.6" y="352.5" font-size="8.0" text-anchor="middle" fill="#262626" stroke="#262626" stroke-width="0.1">200</text>
<text x="95" y="365.2" font-size="9.0" text-anchor="middle" fill="#262626" stroke="#262626" stroke-width="0.1">Time(ms)</text>
<text x="30.5" y="299.6" font-size="9.0" text-anchor="middle" fill="#262626" stroke="#262626" stroke-width="0.1" transform="rotate(-90 30.5 299.6)">Neuron No.</text>
<text x="6.5" y="51.7" font-size="8.8" text-anchor="middle" fill="#333" stroke="#333" stroke-width="0.1" transform="rotate(-90 6.5 51.7)"><tspan font-style="italic">ρ</tspan>=0.001</text>
<text x="6.5" y="175.9" font-size="8.8" text-anchor="middle" fill="#333" stroke="#333" stroke-width="0.1" transform="rotate(-90 6.5 175.9)"><tspan font-style="italic">ρ</tspan>=0.03</text>
<text x="6.5" y="299.9" font-size="8.8" text-anchor="middle" fill="#333" stroke="#333" stroke-width="0.1" transform="rotate(-90 6.5 299.9)"><tspan font-style="italic">ρ</tspan>=0.3</text>
<rect x="181.3" y="71.32" width="3.38" height="21.33" fill="rgba(0,114,189,0.58)" stroke="#3a2a22" stroke-width="0.65"/>
<rect x="184.68" y="81.99" width="3.38" height="10.66" fill="rgba(0,114,189,0.58)" stroke="#3a2a22" stroke-width="0.65"/>
<rect x="188.06" y="79.79" width="3.38" height="12.86" fill="rgba(0,114,189,0.58)" stroke="#3a2a22" stroke-width="0.65"/>
<rect x="191.44" y="78.36" width="3.38" height="14.29" fill="rgba(0,114,189,0.58)" stroke="#3a2a22" stroke-width="0.65"/>
<rect x="194.82" y="75.61" width="3.38" height="17.04" fill="rgba(0,114,189,0.58)" stroke="#3a2a22" stroke-width="0.65"/>
<rect x="198.2" y="80.23" width="3.38" height="12.42" fill="rgba(0,114,189,0.58)" stroke="#3a2a22" stroke-width="0.65"/>
<rect x="201.58" y="80.23" width="3.38" height="12.42" fill="rgba(0,114,189,0.58)" stroke="#3a2a22" stroke-width="0.65"/>
<rect x="204.96" y="80.56" width="3.38" height="12.09" fill="rgba(0,114,189,0.58)" stroke="#3a2a22" stroke-width="0.65"/>
<rect x="208.34" y="80.56" width="3.38" height="12.09" fill="rgba(0,114,189,0.58)" stroke="#3a2a22" stroke-width="0.65"/>
<rect x="211.72" y="86.05" width="3.38" height="6.6" fill="rgba(0,114,189,0.58)" stroke="#3a2a22" stroke-width="0.65"/>
<rect x="215.1" y="77.26" width="3.38" height="15.39" fill="rgba(0,114,189,0.58)" stroke="#3a2a22" stroke-width="0.65"/>
<rect x="218.48" y="87.7" width="3.38" height="4.95" fill="rgba(0,114,189,0.58)" stroke="#3a2a22" stroke-width="0.65"/>
<rect x="221.86" y="87.15" width="3.38" height="5.5" fill="rgba(0,114,189,0.58)" stroke="#3a2a22" stroke-width="0.65"/>
<rect x="225.24" y="90.45" width="3.38" height="2.2" fill="rgba(0,114,189,0.58)" stroke="#3a2a22" stroke-width="0.65"/>
<rect x="228.62" y="91" width="3.38" height="1.65" fill="rgba(0,114,189,0.58)" stroke="#3a2a22" stroke-width="0.65"/>
<rect x="232" y="90.45" width="3.38" height="2.2" fill="rgba(0,114,189,0.58)" stroke="#3a2a22" stroke-width="0.65"/>
<rect x="235.38" y="91.55" width="3.38" height="1.1" fill="rgba(0,114,189,0.58)" stroke="#3a2a22" stroke-width="0.65"/>
<rect x="238.76" y="90.18" width="3.38" height="2.47" fill="rgba(0,114,189,0.58)" stroke="#3a2a22" stroke-width="0.65"/>
<rect x="242.14" y="92.1" width="3.38" height="0.55" fill="rgba(0,114,189,0.58)" stroke="#3a2a22" stroke-width="0.65"/>
<rect x="245.52" y="91.55" width="3.38" height="1.1" fill="rgba(0,114,189,0.58)" stroke="#3a2a22" stroke-width="0.65"/>
<rect x="248.9" y="92.1" width="3.38" height="0.55" fill="rgba(0,114,189,0.58)" stroke="#3a2a22" stroke-width="0.65"/>
<rect x="181.3" y="23.94" width="3.38" height="68.71" fill="rgba(217,83,25,0.56)" stroke="#3a2a22" stroke-width="0.65"/>
<rect x="184.68" y="50.88" width="3.38" height="41.77" fill="rgba(217,83,25,0.56)" stroke="#3a2a22" stroke-width="0.65"/>
<rect x="188.06" y="44.28" width="3.38" height="48.37" fill="rgba(217,83,25,0.56)" stroke="#3a2a22" stroke-width="0.65"/>
<rect x="191.44" y="47.58" width="3.38" height="45.07" fill="rgba(217,83,25,0.56)" stroke="#3a2a22" stroke-width="0.65"/>
<rect x="194.82" y="65.17" width="3.38" height="27.48" fill="rgba(217,83,25,0.56)" stroke="#3a2a22" stroke-width="0.65"/>
<rect x="198.2" y="59.67" width="3.38" height="32.98" fill="rgba(217,83,25,0.56)" stroke="#3a2a22" stroke-width="0.65"/>
<rect x="201.58" y="71.49" width="3.38" height="21.16" fill="rgba(217,83,25,0.56)" stroke="#3a2a22" stroke-width="0.65"/>
<rect x="204.96" y="80.56" width="3.38" height="12.09" fill="rgba(217,83,25,0.56)" stroke="#3a2a22" stroke-width="0.65"/>
<rect x="208.34" y="83.53" width="3.38" height="9.12" fill="rgba(217,83,25,0.56)" stroke="#3a2a22" stroke-width="0.65"/>
<rect x="211.72" y="83.86" width="3.38" height="8.79" fill="rgba(217,83,25,0.56)" stroke="#3a2a22" stroke-width="0.65"/>
<rect x="215.1" y="87.43" width="3.38" height="5.22" fill="rgba(217,83,25,0.56)" stroke="#3a2a22" stroke-width="0.65"/>
<rect x="218.48" y="87.43" width="3.38" height="5.22" fill="rgba(217,83,25,0.56)" stroke="#3a2a22" stroke-width="0.65"/>
<rect x="221.86" y="89.9" width="3.38" height="2.75" fill="rgba(217,83,25,0.56)" stroke="#3a2a22" stroke-width="0.65"/>
<rect x="225.24" y="90.45" width="3.38" height="2.2" fill="rgba(217,83,25,0.56)" stroke="#3a2a22" stroke-width="0.65"/>
<rect x="228.62" y="89.35" width="3.38" height="3.3" fill="rgba(217,83,25,0.56)" stroke="#3a2a22" stroke-width="0.65"/>
<rect x="232" y="91.55" width="3.38" height="1.1" fill="rgba(217,83,25,0.56)" stroke="#3a2a22" stroke-width="0.65"/>
<rect x="235.38" y="91.55" width="3.38" height="1.1" fill="rgba(217,83,25,0.56)" stroke="#3a2a22" stroke-width="0.65"/>
<rect x="238.76" y="91.55" width="3.38" height="1.1" fill="rgba(217,83,25,0.56)" stroke="#3a2a22" stroke-width="0.65"/>
<rect x="242.14" y="92.1" width="3.38" height="0.55" fill="rgba(217,83,25,0.56)" stroke="#3a2a22" stroke-width="0.65"/>
<rect x="245.52" y="91.55" width="3.38" height="1.1" fill="rgba(217,83,25,0.56)" stroke="#3a2a22" stroke-width="0.65"/>
<rect x="248.9" y="92.1" width="3.38" height="0.55" fill="rgba(217,83,25,0.56)" stroke="#3a2a22" stroke-width="0.65"/>
<rect x="181.2" y="10.2" width="97.4" height="82.45" fill="none" stroke="#000" stroke-width="1.4"/>
<line x1="181.2" y1="92.65" x2="182.8" y2="92.65" stroke="#111" stroke-width="1"/>
<line x1="278.6" y1="92.65" x2="277" y2="92.65" stroke="#111" stroke-width="1"/>
<text x="179" y="95.55" font-size="8.0" text-anchor="end" fill="#262626" stroke="#262626" stroke-width="0.1">0</text>
<line x1="181.2" y1="65.17" x2="182.8" y2="65.17" stroke="#111" stroke-width="1"/>
<line x1="278.6" y1="65.17" x2="277" y2="65.17" stroke="#111" stroke-width="1"/>
<text x="179" y="68.07" font-size="8.0" text-anchor="end" fill="#262626" stroke="#262626" stroke-width="0.1">50</text>
<line x1="181.2" y1="37.68" x2="182.8" y2="37.68" stroke="#111" stroke-width="1"/>
<line x1="278.6" y1="37.68" x2="277" y2="37.68" stroke="#111" stroke-width="1"/>
<text x="179" y="40.58" font-size="8.0" text-anchor="end" fill="#262626" stroke="#262626" stroke-width="0.1">100</text>
<line x1="181.2" y1="10.2" x2="182.8" y2="10.2" stroke="#111" stroke-width="1"/>
<line x1="278.6" y1="10.2" x2="277" y2="10.2" stroke="#111" stroke-width="1"/>
<text x="179" y="13.1" font-size="8.0" text-anchor="end" fill="#262626" stroke="#262626" stroke-width="0.1">150</text>
<line x1="181.2" y1="92.65" x2="181.2" y2="91.05" stroke="#111" stroke-width="1"/>
<line x1="181.2" y1="10.2" x2="181.2" y2="11.8" stroke="#111" stroke-width="1"/>
<text x="181.2" y="103.55" font-size="8.0" text-anchor="middle" fill="#262626" stroke="#262626" stroke-width="0.1">0</text>
<line x1="213.67" y1="92.65" x2="213.67" y2="91.05" stroke="#111" stroke-width="1"/>
<line x1="213.67" y1="10.2" x2="213.67" y2="11.8" stroke="#111" stroke-width="1"/>
<text x="213.67" y="103.55" font-size="8.0" text-anchor="middle" fill="#262626" stroke="#262626" stroke-width="0.1">0.02</text>
<line x1="246.13" y1="92.65" x2="246.13" y2="91.05" stroke="#111" stroke-width="1"/>
<line x1="246.13" y1="10.2" x2="246.13" y2="11.8" stroke="#111" stroke-width="1"/>
<text x="246.13" y="103.55" font-size="8.0" text-anchor="middle" fill="#262626" stroke="#262626" stroke-width="0.1">0.04</text>
<line x1="278.6" y1="92.65" x2="278.6" y2="91.05" stroke="#111" stroke-width="1"/>
<line x1="278.6" y1="10.2" x2="278.6" y2="11.8" stroke="#111" stroke-width="1"/>
<text x="278.6" y="103.55" font-size="8.0" text-anchor="middle" fill="#262626" stroke="#262626" stroke-width="0.1">0.06</text>
<text x="229.9" y="115.85" font-size="9.0" text-anchor="middle" fill="#262626" stroke="#262626" stroke-width="0.1">|J<tspan baseline-shift="sub" font-size="6">ij</tspan>|</text>
<text x="161.6" y="51.42" font-size="9.0" text-anchor="middle" fill="#262626" stroke="#262626" stroke-width="0.1" transform="rotate(-90 161.6 51.42)">No. of connections</text>
<rect x="340.49" y="89.9" width="3.56" height="2.75" fill="rgba(0,114,189,0.58)" stroke="#3a2a22" stroke-width="0.65"/>
<rect x="344.05" y="88.25" width="3.56" height="4.4" fill="rgba(0,114,189,0.58)" stroke="#3a2a22" stroke-width="0.65"/>
<rect x="347.6" y="80.56" width="3.56" height="12.09" fill="rgba(0,114,189,0.58)" stroke="#3a2a22" stroke-width="0.65"/>
<rect x="351.16" y="62.97" width="3.56" height="29.68" fill="rgba(0,114,189,0.58)" stroke="#3a2a22" stroke-width="0.65"/>
<rect x="354.72" y="62.42" width="3.56" height="30.23" fill="rgba(0,114,189,0.58)" stroke="#3a2a22" stroke-width="0.65"/>
<rect x="358.27" y="57.47" width="3.56" height="35.18" fill="rgba(0,114,189,0.58)" stroke="#3a2a22" stroke-width="0.65"/>
<rect x="361.83" y="60.77" width="3.56" height="31.88" fill="rgba(0,114,189,0.58)" stroke="#3a2a22" stroke-width="0.65"/>
<rect x="365.38" y="80.01" width="3.56" height="12.64" fill="rgba(0,114,189,0.58)" stroke="#3a2a22" stroke-width="0.65"/>
<rect x="368.94" y="87.15" width="3.56" height="5.5" fill="rgba(0,114,189,0.58)" stroke="#3a2a22" stroke-width="0.65"/>
<rect x="372.5" y="86.05" width="3.56" height="6.6" fill="rgba(0,114,189,0.58)" stroke="#3a2a22" stroke-width="0.65"/>
<rect x="376.05" y="86.05" width="3.56" height="6.6" fill="rgba(0,114,189,0.58)" stroke="#3a2a22" stroke-width="0.65"/>
<rect x="379.61" y="86.05" width="3.56" height="6.6" fill="rgba(0,114,189,0.58)" stroke="#3a2a22" stroke-width="0.65"/>
<rect x="383.16" y="90.45" width="3.56" height="2.2" fill="rgba(0,114,189,0.58)" stroke="#3a2a22" stroke-width="0.65"/>
<rect x="386.72" y="91.55" width="3.56" height="1.1" fill="rgba(0,114,189,0.58)" stroke="#3a2a22" stroke-width="0.65"/>
<rect x="393.83" y="91.55" width="3.56" height="1.1" fill="rgba(0,114,189,0.58)" stroke="#3a2a22" stroke-width="0.65"/>
<rect x="315.6" y="76.16" width="3.56" height="16.49" fill="rgba(217,83,25,0.56)" stroke="#3a2a22" stroke-width="0.65"/>
<rect x="340.49" y="89.9" width="3.56" height="2.75" fill="rgba(217,83,25,0.56)" stroke="#3a2a22" stroke-width="0.65"/>
<rect x="344.05" y="86.05" width="3.56" height="6.6" fill="rgba(217,83,25,0.56)" stroke="#3a2a22" stroke-width="0.65"/>
<rect x="347.6" y="70.66" width="3.56" height="21.99" fill="rgba(217,83,25,0.56)" stroke="#3a2a22" stroke-width="0.65"/>
<rect x="351.16" y="42.63" width="3.56" height="50.02" fill="rgba(217,83,25,0.56)" stroke="#3a2a22" stroke-width="0.65"/>
<rect x="354.72" y="35.48" width="3.56" height="57.17" fill="rgba(217,83,25,0.56)" stroke="#3a2a22" stroke-width="0.65"/>
<rect x="358.27" y="23.39" width="3.56" height="69.26" fill="rgba(217,83,25,0.56)" stroke="#3a2a22" stroke-width="0.65"/>
<rect x="361.83" y="45.38" width="3.56" height="47.27" fill="rgba(217,83,25,0.56)" stroke="#3a2a22" stroke-width="0.65"/>
<rect x="365.38" y="66.82" width="3.56" height="25.83" fill="rgba(217,83,25,0.56)" stroke="#3a2a22" stroke-width="0.65"/>
<rect x="368.94" y="71.76" width="3.56" height="20.89" fill="rgba(217,83,25,0.56)" stroke="#3a2a22" stroke-width="0.65"/>
<rect x="372.5" y="86.05" width="3.56" height="6.6" fill="rgba(217,83,25,0.56)" stroke="#3a2a22" stroke-width="0.65"/>
<rect x="376.05" y="86.05" width="3.56" height="6.6" fill="rgba(217,83,25,0.56)" stroke="#3a2a22" stroke-width="0.65"/>
<rect x="379.61" y="86.05" width="3.56" height="6.6" fill="rgba(217,83,25,0.56)" stroke="#3a2a22" stroke-width="0.65"/>
<rect x="383.16" y="90.45" width="3.56" height="2.2" fill="rgba(217,83,25,0.56)" stroke="#3a2a22" stroke-width="0.65"/>
<rect x="386.72" y="91.55" width="3.56" height="1.1" fill="rgba(217,83,25,0.56)" stroke="#3a2a22" stroke-width="0.65"/>
<rect x="393.83" y="91.55" width="3.56" height="1.1" fill="rgba(217,83,25,0.56)" stroke="#3a2a22" stroke-width="0.65"/>
<rect x="315.7" y="10.2" width="96.8" height="82.45" fill="none" stroke="#000" stroke-width="1.4"/>
<line x1="315.7" y1="92.65" x2="317.3" y2="92.65" stroke="#111" stroke-width="1"/>
<line x1="412.5" y1="92.65" x2="410.9" y2="92.65" stroke="#111" stroke-width="1"/>
<text x="313.5" y="95.55" font-size="8.0" text-anchor="end" fill="#262626" stroke="#262626" stroke-width="0.1">0</text>
<line x1="315.7" y1="65.17" x2="317.3" y2="65.17" stroke="#111" stroke-width="1"/>
<line x1="412.5" y1="65.17" x2="410.9" y2="65.17" stroke="#111" stroke-width="1"/>
<text x="313.5" y="68.07" font-size="8.0" text-anchor="end" fill="#262626" stroke="#262626" stroke-width="0.1">50</text>
<line x1="315.7" y1="37.68" x2="317.3" y2="37.68" stroke="#111" stroke-width="1"/>
<line x1="412.5" y1="37.68" x2="410.9" y2="37.68" stroke="#111" stroke-width="1"/>
<text x="313.5" y="40.58" font-size="8.0" text-anchor="end" fill="#262626" stroke="#262626" stroke-width="0.1">100</text>
<line x1="315.7" y1="10.2" x2="317.3" y2="10.2" stroke="#111" stroke-width="1"/>
<line x1="412.5" y1="10.2" x2="410.9" y2="10.2" stroke="#111" stroke-width="1"/>
<text x="313.5" y="13.1" font-size="8.0" text-anchor="end" fill="#262626" stroke="#262626" stroke-width="0.1">150</text>
<line x1="315.7" y1="92.65" x2="315.7" y2="91.05" stroke="#111" stroke-width="1"/>
<line x1="315.7" y1="10.2" x2="315.7" y2="11.8" stroke="#111" stroke-width="1"/>
<text x="315.7" y="103.55" font-size="8.0" text-anchor="middle" fill="#262626" stroke="#262626" stroke-width="0.1">0</text>
<line x1="364.1" y1="92.65" x2="364.1" y2="91.05" stroke="#111" stroke-width="1"/>
<line x1="364.1" y1="10.2" x2="364.1" y2="11.8" stroke="#111" stroke-width="1"/>
<text x="364.1" y="103.55" font-size="8.0" text-anchor="middle" fill="#262626" stroke="#262626" stroke-width="0.1">0.005</text>
<line x1="412.5" y1="92.65" x2="412.5" y2="91.05" stroke="#111" stroke-width="1"/>
<line x1="412.5" y1="10.2" x2="412.5" y2="11.8" stroke="#111" stroke-width="1"/>
<text x="412.5" y="103.55" font-size="8.0" text-anchor="middle" fill="#262626" stroke="#262626" stroke-width="0.1">0.01</text>
<text x="364.1" y="115.85" font-size="9.0" text-anchor="middle" fill="#262626" stroke="#262626" stroke-width="0.1">|PC<tspan baseline-shift="sub" font-size="6">ij</tspan>|</text>
<text x="296.1" y="51.42" font-size="9.0" text-anchor="middle" fill="#262626" stroke="#262626" stroke-width="0.1" transform="rotate(-90 296.1 51.42)">No. of connections</text>
<rect x="480.42" y="91" width="3.03" height="1.65" fill="rgba(0,114,189,0.58)" stroke="#3a2a22" stroke-width="0.65"/>
<rect x="483.45" y="66.82" width="3.03" height="25.83" fill="rgba(0,114,189,0.58)" stroke="#3a2a22" stroke-width="0.65"/>
<rect x="486.48" y="56.37" width="3.03" height="36.28" fill="rgba(0,114,189,0.58)" stroke="#3a2a22" stroke-width="0.65"/>
<rect x="489.51" y="64.62" width="3.03" height="28.03" fill="rgba(0,114,189,0.58)" stroke="#3a2a22" stroke-width="0.65"/>
<rect x="492.54" y="64.62" width="3.03" height="28.03" fill="rgba(0,114,189,0.58)" stroke="#3a2a22" stroke-width="0.65"/>
<rect x="495.57" y="83.86" width="3.03" height="8.79" fill="rgba(0,114,189,0.58)" stroke="#3a2a22" stroke-width="0.65"/>
<rect x="498.6" y="73.96" width="3.03" height="18.69" fill="rgba(0,114,189,0.58)" stroke="#3a2a22" stroke-width="0.65"/>
<rect x="501.63" y="87.15" width="3.03" height="5.5" fill="rgba(0,114,189,0.58)" stroke="#3a2a22" stroke-width="0.65"/>
<rect x="504.66" y="89.35" width="3.03" height="3.3" fill="rgba(0,114,189,0.58)" stroke="#3a2a22" stroke-width="0.65"/>
<rect x="507.69" y="90.45" width="3.03" height="2.2" fill="rgba(0,114,189,0.58)" stroke="#3a2a22" stroke-width="0.65"/>
<rect x="510.72" y="91" width="3.03" height="1.65" fill="rgba(0,114,189,0.58)" stroke="#3a2a22" stroke-width="0.65"/>
<rect x="516.78" y="91.55" width="3.03" height="1.1" fill="rgba(0,114,189,0.58)" stroke="#3a2a22" stroke-width="0.65"/>
<rect x="449.8" y="76.16" width="3.2" height="16.49" fill="rgba(217,83,25,0.56)" stroke="#3a2a22" stroke-width="0.65"/>
<rect x="480.42" y="91" width="3.03" height="1.65" fill="rgba(217,83,25,0.56)" stroke="#3a2a22" stroke-width="0.65"/>
<rect x="483.45" y="32.19" width="3.03" height="60.46" fill="rgba(217,83,25,0.56)" stroke="#3a2a22" stroke-width="0.65"/>
<rect x="486.48" y="30.54" width="3.03" height="62.11" fill="rgba(217,83,25,0.56)" stroke="#3a2a22" stroke-width="0.65"/>
<rect x="489.51" y="37.68" width="3.03" height="54.97" fill="rgba(217,83,25,0.56)" stroke="#3a2a22" stroke-width="0.65"/>
<rect x="492.54" y="34.39" width="3.03" height="58.26" fill="rgba(217,83,25,0.56)" stroke="#3a2a22" stroke-width="0.65"/>
<rect x="495.57" y="55.82" width="3.03" height="36.83" fill="rgba(217,83,25,0.56)" stroke="#3a2a22" stroke-width="0.65"/>
<rect x="498.6" y="76.93" width="3.03" height="15.72" fill="rgba(217,83,25,0.56)" stroke="#3a2a22" stroke-width="0.65"/>
<rect x="501.63" y="80.39" width="3.03" height="12.26" fill="rgba(217,83,25,0.56)" stroke="#3a2a22" stroke-width="0.65"/>
<rect x="504.66" y="89.35" width="3.03" height="3.3" fill="rgba(217,83,25,0.56)" stroke="#3a2a22" stroke-width="0.65"/>
<rect x="507.69" y="87.32" width="3.03" height="5.33" fill="rgba(217,83,25,0.56)" stroke="#3a2a22" stroke-width="0.65"/>
<rect x="510.72" y="88.25" width="3.03" height="4.4" fill="rgba(217,83,25,0.56)" stroke="#3a2a22" stroke-width="0.65"/>
<rect x="516.78" y="92.1" width="3.03" height="0.55" fill="rgba(217,83,25,0.56)" stroke="#3a2a22" stroke-width="0.65"/>
<rect x="449.7" y="10.2" width="97.1" height="82.45" fill="none" stroke="#000" stroke-width="1.4"/>
<line x1="449.7" y1="92.65" x2="451.3" y2="92.65" stroke="#111" stroke-width="1"/>
<line x1="546.8" y1="92.65" x2="545.2" y2="92.65" stroke="#111" stroke-width="1"/>
<text x="447.5" y="95.55" font-size="8.0" text-anchor="end" fill="#262626" stroke="#262626" stroke-width="0.1">0</text>
<line x1="449.7" y1="65.17" x2="451.3" y2="65.17" stroke="#111" stroke-width="1"/>
<line x1="546.8" y1="65.17" x2="545.2" y2="65.17" stroke="#111" stroke-width="1"/>
<text x="447.5" y="68.07" font-size="8.0" text-anchor="end" fill="#262626" stroke="#262626" stroke-width="0.1">50</text>
<line x1="449.7" y1="37.68" x2="451.3" y2="37.68" stroke="#111" stroke-width="1"/>
<line x1="546.8" y1="37.68" x2="545.2" y2="37.68" stroke="#111" stroke-width="1"/>
<text x="447.5" y="40.58" font-size="8.0" text-anchor="end" fill="#262626" stroke="#262626" stroke-width="0.1">100</text>
<line x1="449.7" y1="10.2" x2="451.3" y2="10.2" stroke="#111" stroke-width="1"/>
<line x1="546.8" y1="10.2" x2="545.2" y2="10.2" stroke="#111" stroke-width="1"/>
<text x="447.5" y="13.1" font-size="8.0" text-anchor="end" fill="#262626" stroke="#262626" stroke-width="0.1">150</text>
<line x1="449.7" y1="92.65" x2="449.7" y2="91.05" stroke="#111" stroke-width="1"/>
<line x1="449.7" y1="10.2" x2="449.7" y2="11.8" stroke="#111" stroke-width="1"/>
<text x="449.7" y="103.55" font-size="8.0" text-anchor="middle" fill="#262626" stroke="#262626" stroke-width="0.1">0</text>
<line x1="482.07" y1="92.65" x2="482.07" y2="91.05" stroke="#111" stroke-width="1"/>
<line x1="482.07" y1="10.2" x2="482.07" y2="11.8" stroke="#111" stroke-width="1"/>
<text x="482.07" y="103.55" font-size="8.0" text-anchor="middle" fill="#262626" stroke="#262626" stroke-width="0.1">0.02</text>
<line x1="514.43" y1="92.65" x2="514.43" y2="91.05" stroke="#111" stroke-width="1"/>
<line x1="514.43" y1="10.2" x2="514.43" y2="11.8" stroke="#111" stroke-width="1"/>
<text x="514.43" y="103.55" font-size="8.0" text-anchor="middle" fill="#262626" stroke="#262626" stroke-width="0.1">0.04</text>
<line x1="546.8" y1="92.65" x2="546.8" y2="91.05" stroke="#111" stroke-width="1"/>
<line x1="546.8" y1="10.2" x2="546.8" y2="11.8" stroke="#111" stroke-width="1"/>
<text x="546.8" y="103.55" font-size="8.0" text-anchor="middle" fill="#262626" stroke="#262626" stroke-width="0.1">0.06</text>
<text x="498.25" y="115.85" font-size="9.0" text-anchor="middle" fill="#262626" stroke="#262626" stroke-width="0.1">|CC<tspan baseline-shift="sub" font-size="6">ij</tspan>|</text>
<text x="430.1" y="51.42" font-size="9.0" text-anchor="middle" fill="#262626" stroke="#262626" stroke-width="0.1" transform="rotate(-90 430.1 51.42)">No. of connections</text>
<rect x="181.97" y="213.35" width="4.73" height="3.5" fill="rgba(0,114,189,0.58)" stroke="#3a2a22" stroke-width="0.65"/>
<rect x="186.7" y="209.84" width="4.73" height="7.01" fill="rgba(0,114,189,0.58)" stroke="#3a2a22" stroke-width="0.65"/>
<rect x="191.43" y="208.4" width="4.73" height="8.45" fill="rgba(0,114,189,0.58)" stroke="#3a2a22" stroke-width="0.65"/>
<rect x="196.16" y="208.61" width="4.73" height="8.25" fill="rgba(0,114,189,0.58)" stroke="#3a2a22" stroke-width="0.65"/>
<rect x="200.89" y="208.81" width="4.73" height="8.04" fill="rgba(0,114,189,0.58)" stroke="#3a2a22" stroke-width="0.65"/>
<rect x="205.62" y="209.84" width="4.73" height="7.01" fill="rgba(0,114,189,0.58)" stroke="#3a2a22" stroke-width="0.65"/>
<rect x="210.35" y="211.08" width="4.73" height="5.77" fill="rgba(0,114,189,0.58)" stroke="#3a2a22" stroke-width="0.65"/>
<rect x="215.08" y="211.08" width="4.73" height="5.77" fill="rgba(0,114,189,0.58)" stroke="#3a2a22" stroke-width="0.65"/>
<rect x="219.81" y="216.44" width="4.73" height="0.41" fill="rgba(0,114,189,0.58)" stroke="#3a2a22" stroke-width="0.65"/>
<rect x="224.54" y="215.61" width="4.73" height="1.24" fill="rgba(0,114,189,0.58)" stroke="#3a2a22" stroke-width="0.65"/>
<rect x="229.27" y="216.03" width="4.73" height="0.82" fill="rgba(0,114,189,0.58)" stroke="#3a2a22" stroke-width="0.65"/>
<rect x="234" y="216.03" width="4.73" height="0.82" fill="rgba(0,114,189,0.58)" stroke="#3a2a22" stroke-width="0.65"/>
<rect x="238.73" y="216.64" width="4.73" height="0.21" fill="rgba(0,114,189,0.58)" stroke="#3a2a22" stroke-width="0.65"/>
<rect x="248.19" y="216.44" width="4.73" height="0.41" fill="rgba(0,114,189,0.58)" stroke="#3a2a22" stroke-width="0.65"/>
<rect x="181.97" y="138.93" width="4.73" height="77.92" fill="rgba(217,83,25,0.56)" stroke="#3a2a22" stroke-width="0.65"/>
<rect x="186.7" y="182.84" width="4.73" height="34.01" fill="rgba(217,83,25,0.56)" stroke="#3a2a22" stroke-width="0.65"/>
<rect x="191.43" y="205.93" width="4.73" height="10.92" fill="rgba(217,83,25,0.56)" stroke="#3a2a22" stroke-width="0.65"/>
<rect x="196.16" y="214.17" width="4.73" height="2.68" fill="rgba(217,83,25,0.56)" stroke="#3a2a22" stroke-width="0.65"/>
<rect x="200.89" y="214.99" width="4.73" height="1.86" fill="rgba(217,83,25,0.56)" stroke="#3a2a22" stroke-width="0.65"/>
<rect x="205.62" y="215.82" width="4.73" height="1.03" fill="rgba(217,83,25,0.56)" stroke="#3a2a22" stroke-width="0.65"/>
<rect x="210.35" y="216.23" width="4.73" height="0.62" fill="rgba(217,83,25,0.56)" stroke="#3a2a22" stroke-width="0.65"/>
<rect x="215.08" y="216.23" width="4.73" height="0.62" fill="rgba(217,83,25,0.56)" stroke="#3a2a22" stroke-width="0.65"/>
<rect x="219.81" y="216.64" width="4.73" height="0.21" fill="rgba(217,83,25,0.56)" stroke="#3a2a22" stroke-width="0.65"/>
<rect x="224.54" y="216.64" width="4.73" height="0.21" fill="rgba(217,83,25,0.56)" stroke="#3a2a22" stroke-width="0.65"/>
<rect x="229.27" y="216.64" width="4.73" height="0.21" fill="rgba(217,83,25,0.56)" stroke="#3a2a22" stroke-width="0.65"/>
<rect x="234" y="216.64" width="4.73" height="0.21" fill="rgba(217,83,25,0.56)" stroke="#3a2a22" stroke-width="0.65"/>
<rect x="181.2" y="134.4" width="97.4" height="82.45" fill="none" stroke="#000" stroke-width="1.4"/>
<line x1="181.2" y1="216.85" x2="182.8" y2="216.85" stroke="#111" stroke-width="1"/>
<line x1="278.6" y1="216.85" x2="277" y2="216.85" stroke="#111" stroke-width="1"/>
<text x="179" y="219.75" font-size="8.0" text-anchor="end" fill="#262626" stroke="#262626" stroke-width="0.1">0</text>
<line x1="181.2" y1="196.24" x2="182.8" y2="196.24" stroke="#111" stroke-width="1"/>
<line x1="278.6" y1="196.24" x2="277" y2="196.24" stroke="#111" stroke-width="1"/>
<text x="179" y="199.14" font-size="8.0" text-anchor="end" fill="#262626" stroke="#262626" stroke-width="0.1">100</text>
<line x1="181.2" y1="175.63" x2="182.8" y2="175.63" stroke="#111" stroke-width="1"/>
<line x1="278.6" y1="175.63" x2="277" y2="175.63" stroke="#111" stroke-width="1"/>
<text x="179" y="178.53" font-size="8.0" text-anchor="end" fill="#262626" stroke="#262626" stroke-width="0.1">200</text>
<line x1="181.2" y1="155.01" x2="182.8" y2="155.01" stroke="#111" stroke-width="1"/>
<line x1="278.6" y1="155.01" x2="277" y2="155.01" stroke="#111" stroke-width="1"/>
<text x="179" y="157.91" font-size="8.0" text-anchor="end" fill="#262626" stroke="#262626" stroke-width="0.1">300</text>
<line x1="181.2" y1="134.4" x2="182.8" y2="134.4" stroke="#111" stroke-width="1"/>
<line x1="278.6" y1="134.4" x2="277" y2="134.4" stroke="#111" stroke-width="1"/>
<text x="179" y="137.3" font-size="8.0" text-anchor="end" fill="#262626" stroke="#262626" stroke-width="0.1">400</text>
<line x1="181.2" y1="216.85" x2="181.2" y2="215.25" stroke="#111" stroke-width="1"/>
<line x1="181.2" y1="134.4" x2="181.2" y2="136" stroke="#111" stroke-width="1"/>
<text x="181.2" y="227.75" font-size="8.0" text-anchor="middle" fill="#262626" stroke="#262626" stroke-width="0.1">0</text>
<line x1="229.9" y1="216.85" x2="229.9" y2="215.25" stroke="#111" stroke-width="1"/>
<line x1="229.9" y1="134.4" x2="229.9" y2="136" stroke="#111" stroke-width="1"/>
<text x="229.9" y="227.75" font-size="8.0" text-anchor="middle" fill="#262626" stroke="#262626" stroke-width="0.1">0.1</text>
<line x1="278.6" y1="216.85" x2="278.6" y2="215.25" stroke="#111" stroke-width="1"/>
<line x1="278.6" y1="134.4" x2="278.6" y2="136" stroke="#111" stroke-width="1"/>
<text x="278.6" y="227.75" font-size="8.0" text-anchor="middle" fill="#262626" stroke="#262626" stroke-width="0.1">0.2</text>
<text x="229.9" y="240.05" font-size="9.0" text-anchor="middle" fill="#262626" stroke="#262626" stroke-width="0.1">|J<tspan baseline-shift="sub" font-size="6">ij</tspan>|</text>
<text x="161.6" y="175.62" font-size="9.0" text-anchor="middle" fill="#262626" stroke="#262626" stroke-width="0.1" transform="rotate(-90 161.6 175.62)">No. of connections</text>
<rect x="333.72" y="216.03" width="4.53" height="0.82" fill="rgba(0,114,189,0.58)" stroke="#3a2a22" stroke-width="0.65"/>
<rect x="338.25" y="212.45" width="4.53" height="4.4" fill="rgba(0,114,189,0.58)" stroke="#3a2a22" stroke-width="0.65"/>
<rect x="342.78" y="210.53" width="4.53" height="6.32" fill="rgba(0,114,189,0.58)" stroke="#3a2a22" stroke-width="0.65"/>
<rect x="347.31" y="205.86" width="4.53" height="10.99" fill="rgba(0,114,189,0.58)" stroke="#3a2a22" stroke-width="0.65"/>
<rect x="351.84" y="208.61" width="4.53" height="8.24" fill="rgba(0,114,189,0.58)" stroke="#3a2a22" stroke-width="0.65"/>
<rect x="356.37" y="203.11" width="4.53" height="13.74" fill="rgba(0,114,189,0.58)" stroke="#3a2a22" stroke-width="0.65"/>
<rect x="360.9" y="206.41" width="4.53" height="10.44" fill="rgba(0,114,189,0.58)" stroke="#3a2a22" stroke-width="0.65"/>
<rect x="365.43" y="206.68" width="4.53" height="10.17" fill="rgba(0,114,189,0.58)" stroke="#3a2a22" stroke-width="0.65"/>
<rect x="369.96" y="213.28" width="4.53" height="3.57" fill="rgba(0,114,189,0.58)" stroke="#3a2a22" stroke-width="0.65"/>
<rect x="374.49" y="212.45" width="4.53" height="4.4" fill="rgba(0,114,189,0.58)" stroke="#3a2a22" stroke-width="0.65"/>
<rect x="379.02" y="211.35" width="4.53" height="5.5" fill="rgba(0,114,189,0.58)" stroke="#3a2a22" stroke-width="0.65"/>
<rect x="383.55" y="214.65" width="4.53" height="2.2" fill="rgba(0,114,189,0.58)" stroke="#3a2a22" stroke-width="0.65"/>
<rect x="388.08" y="215.48" width="4.53" height="1.37" fill="rgba(0,114,189,0.58)" stroke="#3a2a22" stroke-width="0.65"/>
<rect x="392.61" y="216.3" width="4.53" height="0.55" fill="rgba(0,114,189,0.58)" stroke="#3a2a22" stroke-width="0.65"/>
<rect x="397.14" y="216.3" width="4.53" height="0.55" fill="rgba(0,114,189,0.58)" stroke="#3a2a22" stroke-width="0.65"/>
<rect x="401.67" y="216.3" width="4.53" height="0.55" fill="rgba(0,114,189,0.58)" stroke="#3a2a22" stroke-width="0.65"/>
<rect x="406.2" y="216.58" width="4.53" height="0.27" fill="rgba(0,114,189,0.58)" stroke="#3a2a22" stroke-width="0.65"/>
<rect x="315.6" y="208.61" width="4.53" height="8.24" fill="rgba(217,83,25,0.56)" stroke="#3a2a22" stroke-width="0.65"/>
<rect x="329.19" y="201.73" width="4.53" height="15.12" fill="rgba(217,83,25,0.56)" stroke="#3a2a22" stroke-width="0.65"/>
<rect x="333.72" y="148.14" width="4.53" height="68.71" fill="rgba(217,83,25,0.56)" stroke="#3a2a22" stroke-width="0.65"/>
<rect x="338.25" y="158.59" width="4.53" height="58.26" fill="rgba(217,83,25,0.56)" stroke="#3a2a22" stroke-width="0.65"/>
<rect x="342.78" y="203.11" width="4.53" height="13.74" fill="rgba(217,83,25,0.56)" stroke="#3a2a22" stroke-width="0.65"/>
<rect x="347.31" y="215.48" width="4.53" height="1.37" fill="rgba(217,83,25,0.56)" stroke="#3a2a22" stroke-width="0.65"/>
<rect x="351.84" y="215.48" width="4.53" height="1.37" fill="rgba(217,83,25,0.56)" stroke="#3a2a22" stroke-width="0.65"/>
<rect x="356.37" y="216.3" width="4.53" height="0.55" fill="rgba(217,83,25,0.56)" stroke="#3a2a22" stroke-width="0.65"/>
<rect x="315.7" y="134.4" width="96.8" height="82.45" fill="none" stroke="#000" stroke-width="1.4"/>
<line x1="315.7" y1="216.85" x2="317.3" y2="216.85" stroke="#111" stroke-width="1"/>
<line x1="412.5" y1="216.85" x2="410.9" y2="216.85" stroke="#111" stroke-width="1"/>
<text x="313.5" y="219.75" font-size="8.0" text-anchor="end" fill="#262626" stroke="#262626" stroke-width="0.1">0</text>
<line x1="315.7" y1="189.37" x2="317.3" y2="189.37" stroke="#111" stroke-width="1"/>
<line x1="412.5" y1="189.37" x2="410.9" y2="189.37" stroke="#111" stroke-width="1"/>
<text x="313.5" y="192.27" font-size="8.0" text-anchor="end" fill="#262626" stroke="#262626" stroke-width="0.1">100</text>
<line x1="315.7" y1="161.88" x2="317.3" y2="161.88" stroke="#111" stroke-width="1"/>
<line x1="412.5" y1="161.88" x2="410.9" y2="161.88" stroke="#111" stroke-width="1"/>
<text x="313.5" y="164.78" font-size="8.0" text-anchor="end" fill="#262626" stroke="#262626" stroke-width="0.1">200</text>
<line x1="315.7" y1="134.4" x2="317.3" y2="134.4" stroke="#111" stroke-width="1"/>
<line x1="412.5" y1="134.4" x2="410.9" y2="134.4" stroke="#111" stroke-width="1"/>
<text x="313.5" y="137.3" font-size="8.0" text-anchor="end" fill="#262626" stroke="#262626" stroke-width="0.1">300</text>
<line x1="315.7" y1="216.85" x2="315.7" y2="215.25" stroke="#111" stroke-width="1"/>
<line x1="315.7" y1="134.4" x2="315.7" y2="136" stroke="#111" stroke-width="1"/>
<text x="315.7" y="227.75" font-size="8.0" text-anchor="middle" fill="#262626" stroke="#262626" stroke-width="0.1">0</text>
<line x1="364.1" y1="216.85" x2="364.1" y2="215.25" stroke="#111" stroke-width="1"/>
<line x1="364.1" y1="134.4" x2="364.1" y2="136" stroke="#111" stroke-width="1"/>
<text x="364.1" y="227.75" font-size="8.0" text-anchor="middle" fill="#262626" stroke="#262626" stroke-width="0.1">0.01</text>
<line x1="412.5" y1="216.85" x2="412.5" y2="215.25" stroke="#111" stroke-width="1"/>
<line x1="412.5" y1="134.4" x2="412.5" y2="136" stroke="#111" stroke-width="1"/>
<text x="412.5" y="227.75" font-size="8.0" text-anchor="middle" fill="#262626" stroke="#262626" stroke-width="0.1">0.02</text>
<text x="364.1" y="240.05" font-size="9.0" text-anchor="middle" fill="#262626" stroke="#262626" stroke-width="0.1">|PC<tspan baseline-shift="sub" font-size="6">ij</tspan>|</text>
<text x="296.1" y="175.62" font-size="9.0" text-anchor="middle" fill="#262626" stroke="#262626" stroke-width="0.1" transform="rotate(-90 296.1 175.62)">No. of connections</text>
<rect x="481.84" y="216.03" width="3.64" height="0.82" fill="rgba(0,114,189,0.58)" stroke="#3a2a22" stroke-width="0.65"/>
<rect x="485.49" y="209.84" width="3.64" height="7.01" fill="rgba(0,114,189,0.58)" stroke="#3a2a22" stroke-width="0.65"/>
<rect x="489.13" y="202.83" width="3.64" height="14.02" fill="rgba(0,114,189,0.58)" stroke="#3a2a22" stroke-width="0.65"/>
<rect x="492.78" y="198.71" width="3.64" height="18.14" fill="rgba(0,114,189,0.58)" stroke="#3a2a22" stroke-width="0.65"/>
<rect x="496.42" y="198.71" width="3.64" height="18.14" fill="rgba(0,114,189,0.58)" stroke="#3a2a22" stroke-width="0.65"/>
<rect x="500.06" y="192.53" width="3.64" height="24.32" fill="rgba(0,114,189,0.58)" stroke="#3a2a22" stroke-width="0.65"/>
<rect x="503.71" y="202.83" width="3.64" height="14.02" fill="rgba(0,114,189,0.58)" stroke="#3a2a22" stroke-width="0.65"/>
<rect x="507.35" y="202.83" width="3.64" height="14.02" fill="rgba(0,114,189,0.58)" stroke="#3a2a22" stroke-width="0.65"/>
<rect x="511" y="212.73" width="3.64" height="4.12" fill="rgba(0,114,189,0.58)" stroke="#3a2a22" stroke-width="0.65"/>
<rect x="514.64" y="210.67" width="3.64" height="6.18" fill="rgba(0,114,189,0.58)" stroke="#3a2a22" stroke-width="0.65"/>
<rect x="518.28" y="216.03" width="3.64" height="0.82" fill="rgba(0,114,189,0.58)" stroke="#3a2a22" stroke-width="0.65"/>
<rect x="474.56" y="216.03" width="3.64" height="0.82" fill="rgba(0,114,189,0.58)" stroke="#3a2a22" stroke-width="0.65"/>
<rect x="449.6" y="205.31" width="3.64" height="11.54" fill="rgba(217,83,25,0.56)" stroke="#3a2a22" stroke-width="0.65"/>
<rect x="478.2" y="203.25" width="3.64" height="13.6" fill="rgba(217,83,25,0.56)" stroke="#3a2a22" stroke-width="0.65"/>
<rect x="481.84" y="157.49" width="3.64" height="59.36" fill="rgba(217,83,25,0.56)" stroke="#3a2a22" stroke-width="0.65"/>
<rect x="485.49" y="141.82" width="3.64" height="75.03" fill="rgba(217,83,25,0.56)" stroke="#3a2a22" stroke-width="0.65"/>
<rect x="489.13" y="172.33" width="3.64" height="44.52" fill="rgba(217,83,25,0.56)" stroke="#3a2a22" stroke-width="0.65"/>
<rect x="492.78" y="201.6" width="3.64" height="15.25" fill="rgba(217,83,25,0.56)" stroke="#3a2a22" stroke-width="0.65"/>
<rect x="496.42" y="202.01" width="3.64" height="14.84" fill="rgba(217,83,25,0.56)" stroke="#3a2a22" stroke-width="0.65"/>
<rect x="500.06" y="207.78" width="3.64" height="9.07" fill="rgba(217,83,25,0.56)" stroke="#3a2a22" stroke-width="0.65"/>
<rect x="503.71" y="213.14" width="3.64" height="3.71" fill="rgba(217,83,25,0.56)" stroke="#3a2a22" stroke-width="0.65"/>
<rect x="449.7" y="134.4" width="97.1" height="82.45" fill="none" stroke="#000" stroke-width="1.4"/>
<line x1="449.7" y1="216.85" x2="451.3" y2="216.85" stroke="#111" stroke-width="1"/>
<line x1="546.8" y1="216.85" x2="545.2" y2="216.85" stroke="#111" stroke-width="1"/>
<text x="447.5" y="219.75" font-size="8.0" text-anchor="end" fill="#262626" stroke="#262626" stroke-width="0.1">0</text>
<line x1="449.7" y1="196.24" x2="451.3" y2="196.24" stroke="#111" stroke-width="1"/>
<line x1="546.8" y1="196.24" x2="545.2" y2="196.24" stroke="#111" stroke-width="1"/>
<text x="447.5" y="199.14" font-size="8.0" text-anchor="end" fill="#262626" stroke="#262626" stroke-width="0.1">50</text>
<line x1="449.7" y1="175.63" x2="451.3" y2="175.63" stroke="#111" stroke-width="1"/>
<line x1="546.8" y1="175.63" x2="545.2" y2="175.63" stroke="#111" stroke-width="1"/>
<text x="447.5" y="178.53" font-size="8.0" text-anchor="end" fill="#262626" stroke="#262626" stroke-width="0.1">100</text>
<line x1="449.7" y1="155.01" x2="451.3" y2="155.01" stroke="#111" stroke-width="1"/>
<line x1="546.8" y1="155.01" x2="545.2" y2="155.01" stroke="#111" stroke-width="1"/>
<text x="447.5" y="157.91" font-size="8.0" text-anchor="end" fill="#262626" stroke="#262626" stroke-width="0.1">150</text>
<line x1="449.7" y1="134.4" x2="451.3" y2="134.4" stroke="#111" stroke-width="1"/>
<line x1="546.8" y1="134.4" x2="545.2" y2="134.4" stroke="#111" stroke-width="1"/>
<text x="447.5" y="137.3" font-size="8.0" text-anchor="end" fill="#262626" stroke="#262626" stroke-width="0.1">200</text>
<line x1="449.7" y1="216.85" x2="449.7" y2="215.25" stroke="#111" stroke-width="1"/>
<line x1="449.7" y1="134.4" x2="449.7" y2="136" stroke="#111" stroke-width="1"/>
<text x="449.7" y="227.75" font-size="8.0" text-anchor="middle" fill="#262626" stroke="#262626" stroke-width="0.1">0</text>
<line x1="482.07" y1="216.85" x2="482.07" y2="215.25" stroke="#111" stroke-width="1"/>
<line x1="482.07" y1="134.4" x2="482.07" y2="136" stroke="#111" stroke-width="1"/>
<text x="482.07" y="227.75" font-size="8.0" text-anchor="middle" fill="#262626" stroke="#262626" stroke-width="0.1">0.02</text>
<line x1="514.43" y1="216.85" x2="514.43" y2="215.25" stroke="#111" stroke-width="1"/>
<line x1="514.43" y1="134.4" x2="514.43" y2="136" stroke="#111" stroke-width="1"/>
<text x="514.43" y="227.75" font-size="8.0" text-anchor="middle" fill="#262626" stroke="#262626" stroke-width="0.1">0.04</text>
<line x1="546.8" y1="216.85" x2="546.8" y2="215.25" stroke="#111" stroke-width="1"/>
<line x1="546.8" y1="134.4" x2="546.8" y2="136" stroke="#111" stroke-width="1"/>
<text x="546.8" y="227.75" font-size="8.0" text-anchor="middle" fill="#262626" stroke="#262626" stroke-width="0.1">0.06</text>
<text x="498.25" y="240.05" font-size="9.0" text-anchor="middle" fill="#262626" stroke="#262626" stroke-width="0.1">|CC<tspan baseline-shift="sub" font-size="6">ij</tspan>|</text>
<text x="430.1" y="175.62" font-size="9.0" text-anchor="middle" fill="#262626" stroke="#262626" stroke-width="0.1" transform="rotate(-90 430.1 175.62)">No. of connections</text>
<rect x="181.5" y="333.02" width="3.25" height="7.83" fill="rgba(0,114,189,0.58)" stroke="#3a2a22" stroke-width="0.65"/>
<rect x="184.75" y="334.25" width="3.25" height="6.6" fill="rgba(0,114,189,0.58)" stroke="#3a2a22" stroke-width="0.65"/>
<rect x="188" y="326.83" width="3.25" height="14.02" fill="rgba(0,114,189,0.58)" stroke="#3a2a22" stroke-width="0.65"/>
<rect x="191.25" y="329.72" width="3.25" height="11.13" fill="rgba(0,114,189,0.58)" stroke="#3a2a22" stroke-width="0.65"/>
<rect x="194.5" y="332.19" width="3.25" height="8.66" fill="rgba(0,114,189,0.58)" stroke="#3a2a22" stroke-width="0.65"/>
<rect x="197.75" y="331.78" width="3.25" height="9.07" fill="rgba(0,114,189,0.58)" stroke="#3a2a22" stroke-width="0.65"/>
<rect x="201" y="327.66" width="3.25" height="13.19" fill="rgba(0,114,189,0.58)" stroke="#3a2a22" stroke-width="0.65"/>
<rect x="204.25" y="330.96" width="3.25" height="9.89" fill="rgba(0,114,189,0.58)" stroke="#3a2a22" stroke-width="0.65"/>
<rect x="207.5" y="335.9" width="3.25" height="4.95" fill="rgba(0,114,189,0.58)" stroke="#3a2a22" stroke-width="0.65"/>
<rect x="210.75" y="330.96" width="3.25" height="9.89" fill="rgba(0,114,189,0.58)" stroke="#3a2a22" stroke-width="0.65"/>
<rect x="214" y="334.83" width="3.25" height="6.02" fill="rgba(0,114,189,0.58)" stroke="#3a2a22" stroke-width="0.65"/>
<rect x="217.25" y="334.25" width="3.25" height="6.6" fill="rgba(0,114,189,0.58)" stroke="#3a2a22" stroke-width="0.65"/>
<rect x="220.5" y="338.38" width="3.25" height="2.47" fill="rgba(0,114,189,0.58)" stroke="#3a2a22" stroke-width="0.65"/>
<rect x="223.75" y="340.03" width="3.25" height="0.82" fill="rgba(0,114,189,0.58)" stroke="#3a2a22" stroke-width="0.65"/>
<rect x="227" y="337.55" width="3.25" height="3.3" fill="rgba(0,114,189,0.58)" stroke="#3a2a22" stroke-width="0.65"/>
<rect x="230.25" y="339.2" width="3.25" height="1.65" fill="rgba(0,114,189,0.58)" stroke="#3a2a22" stroke-width="0.65"/>
<rect x="233.5" y="340.44" width="3.25" height="0.41" fill="rgba(0,114,189,0.58)" stroke="#3a2a22" stroke-width="0.65"/>
<rect x="236.75" y="339.2" width="3.25" height="1.65" fill="rgba(0,114,189,0.58)" stroke="#3a2a22" stroke-width="0.65"/>
<rect x="240" y="339.2" width="3.25" height="1.65" fill="rgba(0,114,189,0.58)" stroke="#3a2a22" stroke-width="0.65"/>
<rect x="243.25" y="340.03" width="3.25" height="0.82" fill="rgba(0,114,189,0.58)" stroke="#3a2a22" stroke-width="0.65"/>
<rect x="181.5" y="268.29" width="3.25" height="72.56" fill="rgba(217,83,25,0.56)" stroke="#3a2a22" stroke-width="0.65"/>
<rect x="184.75" y="284.37" width="3.25" height="56.48" fill="rgba(217,83,25,0.56)" stroke="#3a2a22" stroke-width="0.65"/>
<rect x="188" y="305.4" width="3.25" height="35.45" fill="rgba(217,83,25,0.56)" stroke="#3a2a22" stroke-width="0.65"/>
<rect x="191.25" y="311.99" width="3.25" height="28.86" fill="rgba(217,83,25,0.56)" stroke="#3a2a22" stroke-width="0.65"/>
<rect x="194.5" y="324.77" width="3.25" height="16.08" fill="rgba(217,83,25,0.56)" stroke="#3a2a22" stroke-width="0.65"/>
<rect x="197.75" y="326.83" width="3.25" height="14.02" fill="rgba(217,83,25,0.56)" stroke="#3a2a22" stroke-width="0.65"/>
<rect x="201" y="335.49" width="3.25" height="5.36" fill="rgba(217,83,25,0.56)" stroke="#3a2a22" stroke-width="0.65"/>
<rect x="204.25" y="336.32" width="3.25" height="4.53" fill="rgba(217,83,25,0.56)" stroke="#3a2a22" stroke-width="0.65"/>
<rect x="207.5" y="335.08" width="3.25" height="5.77" fill="rgba(217,83,25,0.56)" stroke="#3a2a22" stroke-width="0.65"/>
<rect x="210.75" y="338.17" width="3.25" height="2.68" fill="rgba(217,83,25,0.56)" stroke="#3a2a22" stroke-width="0.65"/>
<rect x="214" y="338.79" width="3.25" height="2.06" fill="rgba(217,83,25,0.56)" stroke="#3a2a22" stroke-width="0.65"/>
<rect x="217.25" y="338.79" width="3.25" height="2.06" fill="rgba(217,83,25,0.56)" stroke="#3a2a22" stroke-width="0.65"/>
<rect x="220.5" y="337.76" width="3.25" height="3.09" fill="rgba(217,83,25,0.56)" stroke="#3a2a22" stroke-width="0.65"/>
<rect x="223.75" y="340.03" width="3.25" height="0.82" fill="rgba(217,83,25,0.56)" stroke="#3a2a22" stroke-width="0.65"/>
<rect x="227" y="339.61" width="3.25" height="1.24" fill="rgba(217,83,25,0.56)" stroke="#3a2a22" stroke-width="0.65"/>
<rect x="230.25" y="340.03" width="3.25" height="0.82" fill="rgba(217,83,25,0.56)" stroke="#3a2a22" stroke-width="0.65"/>
<rect x="233.5" y="340.44" width="3.25" height="0.41" fill="rgba(217,83,25,0.56)" stroke="#3a2a22" stroke-width="0.65"/>
<rect x="236.75" y="339.61" width="3.25" height="1.24" fill="rgba(217,83,25,0.56)" stroke="#3a2a22" stroke-width="0.65"/>
<rect x="240" y="339.61" width="3.25" height="1.24" fill="rgba(217,83,25,0.56)" stroke="#3a2a22" stroke-width="0.65"/>
<rect x="243.25" y="340.44" width="3.25" height="0.41" fill="rgba(217,83,25,0.56)" stroke="#3a2a22" stroke-width="0.65"/>
<rect x="181.2" y="258.4" width="97.4" height="82.45" fill="none" stroke="#000" stroke-width="1.4"/>
<line x1="181.2" y1="340.85" x2="182.8" y2="340.85" stroke="#111" stroke-width="1"/>
<line x1="278.6" y1="340.85" x2="277" y2="340.85" stroke="#111" stroke-width="1"/>
<text x="179" y="343.75" font-size="8.0" text-anchor="end" fill="#262626" stroke="#262626" stroke-width="0.1">0</text>
<line x1="181.2" y1="320.24" x2="182.8" y2="320.24" stroke="#111" stroke-width="1"/>
<line x1="278.6" y1="320.24" x2="277" y2="320.24" stroke="#111" stroke-width="1"/>
<text x="179" y="323.14" font-size="8.0" text-anchor="end" fill="#262626" stroke="#262626" stroke-width="0.1">50</text>
<line x1="181.2" y1="299.62" x2="182.8" y2="299.62" stroke="#111" stroke-width="1"/>
<line x1="278.6" y1="299.62" x2="277" y2="299.62" stroke="#111" stroke-width="1"/>
<text x="179" y="302.52" font-size="8.0" text-anchor="end" fill="#262626" stroke="#262626" stroke-width="0.1">100</text>
<line x1="181.2" y1="279.01" x2="182.8" y2="279.01" stroke="#111" stroke-width="1"/>
<line x1="278.6" y1="279.01" x2="277" y2="279.01" stroke="#111" stroke-width="1"/>
<text x="179" y="281.91" font-size="8.0" text-anchor="end" fill="#262626" stroke="#262626" stroke-width="0.1">150</text>
<line x1="181.2" y1="258.4" x2="182.8" y2="258.4" stroke="#111" stroke-width="1"/>
<line x1="278.6" y1="258.4" x2="277" y2="258.4" stroke="#111" stroke-width="1"/>
<text x="179" y="261.3" font-size="8.0" text-anchor="end" fill="#262626" stroke="#262626" stroke-width="0.1">200</text>
<line x1="181.2" y1="340.85" x2="181.2" y2="339.25" stroke="#111" stroke-width="1"/>
<line x1="181.2" y1="258.4" x2="181.2" y2="260" stroke="#111" stroke-width="1"/>
<text x="181.2" y="351.75" font-size="8.0" text-anchor="middle" fill="#262626" stroke="#262626" stroke-width="0.1">0</text>
<line x1="213.67" y1="340.85" x2="213.67" y2="339.25" stroke="#111" stroke-width="1"/>
<line x1="213.67" y1="258.4" x2="213.67" y2="260" stroke="#111" stroke-width="1"/>
<text x="213.67" y="351.75" font-size="8.0" text-anchor="middle" fill="#262626" stroke="#262626" stroke-width="0.1">0.2</text>
<line x1="246.13" y1="340.85" x2="246.13" y2="339.25" stroke="#111" stroke-width="1"/>
<line x1="246.13" y1="258.4" x2="246.13" y2="260" stroke="#111" stroke-width="1"/>
<text x="246.13" y="351.75" font-size="8.0" text-anchor="middle" fill="#262626" stroke="#262626" stroke-width="0.1">0.4</text>
<line x1="278.6" y1="340.85" x2="278.6" y2="339.25" stroke="#111" stroke-width="1"/>
<line x1="278.6" y1="258.4" x2="278.6" y2="260" stroke="#111" stroke-width="1"/>
<text x="278.6" y="351.75" font-size="8.0" text-anchor="middle" fill="#262626" stroke="#262626" stroke-width="0.1">0.6</text>
<text x="229.9" y="364.05" font-size="9.0" text-anchor="middle" fill="#262626" stroke="#262626" stroke-width="0.1">|J<tspan baseline-shift="sub" font-size="6">ij</tspan>|</text>
<text x="161.6" y="299.62" font-size="9.0" text-anchor="middle" fill="#262626" stroke="#262626" stroke-width="0.1" transform="rotate(-90 161.6 299.62)">No. of connections</text>
<rect x="316" y="337.55" width="2.98" height="3.3" fill="rgba(0,114,189,0.58)" stroke="#3a2a22" stroke-width="0.65"/>
<rect x="318.98" y="337.55" width="2.98" height="3.3" fill="rgba(0,114,189,0.58)" stroke="#3a2a22" stroke-width="0.65"/>
<rect x="321.96" y="336.18" width="2.98" height="4.67" fill="rgba(0,114,189,0.58)" stroke="#3a2a22" stroke-width="0.65"/>
<rect x="324.94" y="331.51" width="2.98" height="9.34" fill="rgba(0,114,189,0.58)" stroke="#3a2a22" stroke-width="0.65"/>
<rect x="327.92" y="327.38" width="2.98" height="13.47" fill="rgba(0,114,189,0.58)" stroke="#3a2a22" stroke-width="0.65"/>
<rect x="330.9" y="331.51" width="2.98" height="9.34" fill="rgba(0,114,189,0.58)" stroke="#3a2a22" stroke-width="0.65"/>
<rect x="333.88" y="333.7" width="2.98" height="7.15" fill="rgba(0,114,189,0.58)" stroke="#3a2a22" stroke-width="0.65"/>
<rect x="336.86" y="333.7" width="2.98" height="7.15" fill="rgba(0,114,189,0.58)" stroke="#3a2a22" stroke-width="0.65"/>
<rect x="339.84" y="333.7" width="2.98" height="7.15" fill="rgba(0,114,189,0.58)" stroke="#3a2a22" stroke-width="0.65"/>
<rect x="342.82" y="337.55" width="2.98" height="3.3" fill="rgba(0,114,189,0.58)" stroke="#3a2a22" stroke-width="0.65"/>
<rect x="345.8" y="338.93" width="2.98" height="1.92" fill="rgba(0,114,189,0.58)" stroke="#3a2a22" stroke-width="0.65"/>
<rect x="348.78" y="336.18" width="2.98" height="4.67" fill="rgba(0,114,189,0.58)" stroke="#3a2a22" stroke-width="0.65"/>
<rect x="351.76" y="338.1" width="2.98" height="2.75" fill="rgba(0,114,189,0.58)" stroke="#3a2a22" stroke-width="0.65"/>
<rect x="354.74" y="339.48" width="2.98" height="1.37" fill="rgba(0,114,189,0.58)" stroke="#3a2a22" stroke-width="0.65"/>
<rect x="357.72" y="340.03" width="2.98" height="0.82" fill="rgba(0,114,189,0.58)" stroke="#3a2a22" stroke-width="0.65"/>
<rect x="360.7" y="340.03" width="2.98" height="0.82" fill="rgba(0,114,189,0.58)" stroke="#3a2a22" stroke-width="0.65"/>
<rect x="363.68" y="340.03" width="2.98" height="0.82" fill="rgba(0,114,189,0.58)" stroke="#3a2a22" stroke-width="0.65"/>
<rect x="366.66" y="340.3" width="2.98" height="0.55" fill="rgba(0,114,189,0.58)" stroke="#3a2a22" stroke-width="0.65"/>
<rect x="369.64" y="340.3" width="2.98" height="0.55" fill="rgba(0,114,189,0.58)" stroke="#3a2a22" stroke-width="0.65"/>
<rect x="372.62" y="340.3" width="2.98" height="0.55" fill="rgba(0,114,189,0.58)" stroke="#3a2a22" stroke-width="0.65"/>
<rect x="316" y="332.06" width="2.98" height="8.79" fill="rgba(217,83,25,0.56)" stroke="#3a2a22" stroke-width="0.65"/>
<rect x="318.98" y="263.07" width="2.98" height="77.78" fill="rgba(217,83,25,0.56)" stroke="#3a2a22" stroke-width="0.65"/>
<rect x="321.96" y="286.16" width="2.98" height="54.69" fill="rgba(217,83,25,0.56)" stroke="#3a2a22" stroke-width="0.65"/>
<rect x="324.94" y="324.91" width="2.98" height="15.94" fill="rgba(217,83,25,0.56)" stroke="#3a2a22" stroke-width="0.65"/>
<rect x="327.92" y="330.41" width="2.98" height="10.44" fill="rgba(217,83,25,0.56)" stroke="#3a2a22" stroke-width="0.65"/>
<rect x="330.9" y="335.9" width="2.98" height="4.95" fill="rgba(217,83,25,0.56)" stroke="#3a2a22" stroke-width="0.65"/>
<rect x="333.88" y="338.65" width="2.98" height="2.2" fill="rgba(217,83,25,0.56)" stroke="#3a2a22" stroke-width="0.65"/>
<rect x="336.86" y="339.48" width="2.98" height="1.37" fill="rgba(217,83,25,0.56)" stroke="#3a2a22" stroke-width="0.65"/>
<rect x="339.84" y="340.03" width="2.98" height="0.82" fill="rgba(217,83,25,0.56)" stroke="#3a2a22" stroke-width="0.65"/>
<rect x="342.82" y="340.3" width="2.98" height="0.55" fill="rgba(217,83,25,0.56)" stroke="#3a2a22" stroke-width="0.65"/>
<rect x="315.7" y="258.4" width="96.8" height="82.45" fill="none" stroke="#000" stroke-width="1.4"/>
<line x1="315.7" y1="340.85" x2="317.3" y2="340.85" stroke="#111" stroke-width="1"/>
<line x1="412.5" y1="340.85" x2="410.9" y2="340.85" stroke="#111" stroke-width="1"/>
<text x="313.5" y="343.75" font-size="8.0" text-anchor="end" fill="#262626" stroke="#262626" stroke-width="0.1">0</text>
<line x1="315.7" y1="313.37" x2="317.3" y2="313.37" stroke="#111" stroke-width="1"/>
<line x1="412.5" y1="313.37" x2="410.9" y2="313.37" stroke="#111" stroke-width="1"/>
<text x="313.5" y="316.27" font-size="8.0" text-anchor="end" fill="#262626" stroke="#262626" stroke-width="0.1">100</text>
<line x1="315.7" y1="285.88" x2="317.3" y2="285.88" stroke="#111" stroke-width="1"/>
<line x1="412.5" y1="285.88" x2="410.9" y2="285.88" stroke="#111" stroke-width="1"/>
<text x="313.5" y="288.78" font-size="8.0" text-anchor="end" fill="#262626" stroke="#262626" stroke-width="0.1">200</text>
<line x1="315.7" y1="258.4" x2="317.3" y2="258.4" stroke="#111" stroke-width="1"/>
<line x1="412.5" y1="258.4" x2="410.9" y2="258.4" stroke="#111" stroke-width="1"/>
<text x="313.5" y="261.3" font-size="8.0" text-anchor="end" fill="#262626" stroke="#262626" stroke-width="0.1">300</text>
<line x1="315.7" y1="340.85" x2="315.7" y2="339.25" stroke="#111" stroke-width="1"/>
<line x1="315.7" y1="258.4" x2="315.7" y2="260" stroke="#111" stroke-width="1"/>
<text x="315.7" y="351.75" font-size="8.0" text-anchor="middle" fill="#262626" stroke="#262626" stroke-width="0.1">0</text>
<line x1="364.1" y1="340.85" x2="364.1" y2="339.25" stroke="#111" stroke-width="1"/>
<line x1="364.1" y1="258.4" x2="364.1" y2="260" stroke="#111" stroke-width="1"/>
<text x="364.1" y="351.75" font-size="8.0" text-anchor="middle" fill="#262626" stroke="#262626" stroke-width="0.1">0.05</text>
<line x1="412.5" y1="340.85" x2="412.5" y2="339.25" stroke="#111" stroke-width="1"/>
<line x1="412.5" y1="258.4" x2="412.5" y2="260" stroke="#111" stroke-width="1"/>
<text x="412.5" y="351.75" font-size="8.0" text-anchor="middle" fill="#262626" stroke="#262626" stroke-width="0.1">0.1</text>
<text x="364.1" y="364.05" font-size="9.0" text-anchor="middle" fill="#262626" stroke="#262626" stroke-width="0.1">|PC<tspan baseline-shift="sub" font-size="6">ij</tspan>|</text>
<text x="296.1" y="299.62" font-size="9.0" text-anchor="middle" fill="#262626" stroke="#262626" stroke-width="0.1" transform="rotate(-90 296.1 299.62)">No. of connections</text>
<rect x="466.5" y="332.6" width="4.05" height="8.25" fill="rgba(0,114,189,0.58)" stroke="#3a2a22" stroke-width="0.65"/>
<rect x="470.55" y="332.6" width="4.05" height="8.25" fill="rgba(0,114,189,0.58)" stroke="#3a2a22" stroke-width="0.65"/>
<rect x="474.6" y="325.18" width="4.05" height="15.67" fill="rgba(0,114,189,0.58)" stroke="#3a2a22" stroke-width="0.65"/>
<rect x="478.65" y="324.36" width="4.05" height="16.49" fill="rgba(0,114,189,0.58)" stroke="#3a2a22" stroke-width="0.65"/>
<rect x="482.7" y="321.06" width="4.05" height="19.79" fill="rgba(0,114,189,0.58)" stroke="#3a2a22" stroke-width="0.65"/>
<rect x="486.75" y="319.41" width="4.05" height="21.44" fill="rgba(0,114,189,0.58)" stroke="#3a2a22" stroke-width="0.65"/>
<rect x="490.8" y="316.94" width="4.05" height="23.91" fill="rgba(0,114,189,0.58)" stroke="#3a2a22" stroke-width="0.65"/>
<rect x="494.85" y="311.17" width="4.05" height="29.68" fill="rgba(0,114,189,0.58)" stroke="#3a2a22" stroke-width="0.65"/>
<rect x="498.9" y="319.41" width="4.05" height="21.44" fill="rgba(0,114,189,0.58)" stroke="#3a2a22" stroke-width="0.65"/>
<rect x="502.95" y="325.18" width="4.05" height="15.67" fill="rgba(0,114,189,0.58)" stroke="#3a2a22" stroke-width="0.65"/>
<rect x="507" y="324.36" width="4.05" height="16.49" fill="rgba(0,114,189,0.58)" stroke="#3a2a22" stroke-width="0.65"/>
<rect x="511.05" y="321.06" width="4.05" height="19.79" fill="rgba(0,114,189,0.58)" stroke="#3a2a22" stroke-width="0.65"/>
<rect x="515.1" y="335.9" width="4.05" height="4.95" fill="rgba(0,114,189,0.58)" stroke="#3a2a22" stroke-width="0.65"/>
<rect x="519.15" y="332.6" width="4.05" height="8.25" fill="rgba(0,114,189,0.58)" stroke="#3a2a22" stroke-width="0.65"/>
<rect x="523.2" y="338.38" width="4.05" height="2.47" fill="rgba(0,114,189,0.58)" stroke="#3a2a22" stroke-width="0.65"/>
<rect x="527.25" y="339.2" width="4.05" height="1.65" fill="rgba(0,114,189,0.58)" stroke="#3a2a22" stroke-width="0.65"/>
<rect x="531.3" y="339.2" width="4.05" height="1.65" fill="rgba(0,114,189,0.58)" stroke="#3a2a22" stroke-width="0.65"/>
<rect x="450.3" y="316.94" width="4.05" height="23.91" fill="rgba(217,83,25,0.56)" stroke="#3a2a22" stroke-width="0.65"/>
<rect x="462.45" y="324.36" width="4.05" height="16.49" fill="rgba(217,83,25,0.56)" stroke="#3a2a22" stroke-width="0.65"/>
<rect x="466.5" y="283.13" width="4.05" height="57.72" fill="rgba(217,83,25,0.56)" stroke="#3a2a22" stroke-width="0.65"/>
<rect x="470.55" y="310.34" width="4.05" height="30.51" fill="rgba(217,83,25,0.56)" stroke="#3a2a22" stroke-width="0.65"/>
<rect x="474.6" y="310.34" width="4.05" height="30.51" fill="rgba(217,83,25,0.56)" stroke="#3a2a22" stroke-width="0.65"/>
<rect x="478.65" y="278.19" width="4.05" height="62.66" fill="rgba(217,83,25,0.56)" stroke="#3a2a22" stroke-width="0.65"/>
<rect x="482.7" y="270.77" width="4.05" height="70.08" fill="rgba(217,83,25,0.56)" stroke="#3a2a22" stroke-width="0.65"/>
<rect x="486.75" y="288.08" width="4.05" height="52.77" fill="rgba(217,83,25,0.56)" stroke="#3a2a22" stroke-width="0.65"/>
<rect x="490.8" y="306.22" width="4.05" height="34.63" fill="rgba(217,83,25,0.56)" stroke="#3a2a22" stroke-width="0.65"/>
<rect x="494.85" y="311.99" width="4.05" height="28.86" fill="rgba(217,83,25,0.56)" stroke="#3a2a22" stroke-width="0.65"/>
<rect x="498.9" y="308.69" width="4.05" height="32.16" fill="rgba(217,83,25,0.56)" stroke="#3a2a22" stroke-width="0.65"/>
<rect x="502.95" y="325.18" width="4.05" height="15.67" fill="rgba(217,83,25,0.56)" stroke="#3a2a22" stroke-width="0.65"/>
<rect x="507" y="325.18" width="4.05" height="15.67" fill="rgba(217,83,25,0.56)" stroke="#3a2a22" stroke-width="0.65"/>
<rect x="511.05" y="333.43" width="4.05" height="7.42" fill="rgba(217,83,25,0.56)" stroke="#3a2a22" stroke-width="0.65"/>
<rect x="515.1" y="327.66" width="4.05" height="13.19" fill="rgba(217,83,25,0.56)" stroke="#3a2a22" stroke-width="0.65"/>
<rect x="519.15" y="337.55" width="4.05" height="3.3" fill="rgba(217,83,25,0.56)" stroke="#3a2a22" stroke-width="0.65"/>
<rect x="523.2" y="339.2" width="4.05" height="1.65" fill="rgba(217,83,25,0.56)" stroke="#3a2a22" stroke-width="0.65"/>
<rect x="527.25" y="339.2" width="4.05" height="1.65" fill="rgba(217,83,25,0.56)" stroke="#3a2a22" stroke-width="0.65"/>
<rect x="531.3" y="339.2" width="4.05" height="1.65" fill="rgba(217,83,25,0.56)" stroke="#3a2a22" stroke-width="0.65"/>
<rect x="449.7" y="258.4" width="97.1" height="82.45" fill="none" stroke="#000" stroke-width="1.4"/>
<line x1="449.7" y1="340.85" x2="451.3" y2="340.85" stroke="#111" stroke-width="1"/>
<line x1="546.8" y1="340.85" x2="545.2" y2="340.85" stroke="#111" stroke-width="1"/>
<text x="447.5" y="343.75" font-size="8.0" text-anchor="end" fill="#262626" stroke="#262626" stroke-width="0.1">0</text>
<line x1="449.7" y1="299.62" x2="451.3" y2="299.62" stroke="#111" stroke-width="1"/>
<line x1="546.8" y1="299.62" x2="545.2" y2="299.62" stroke="#111" stroke-width="1"/>
<text x="447.5" y="302.52" font-size="8.0" text-anchor="end" fill="#262626" stroke="#262626" stroke-width="0.1">50</text>
<line x1="449.7" y1="258.4" x2="451.3" y2="258.4" stroke="#111" stroke-width="1"/>
<line x1="546.8" y1="258.4" x2="545.2" y2="258.4" stroke="#111" stroke-width="1"/>
<text x="447.5" y="261.3" font-size="8.0" text-anchor="end" fill="#262626" stroke="#262626" stroke-width="0.1">100</text>
<line x1="449.7" y1="340.85" x2="449.7" y2="339.25" stroke="#111" stroke-width="1"/>
<line x1="449.7" y1="258.4" x2="449.7" y2="260" stroke="#111" stroke-width="1"/>
<text x="449.7" y="351.75" font-size="8.0" text-anchor="middle" fill="#262626" stroke="#262626" stroke-width="0.1">0</text>
<line x1="498.25" y1="340.85" x2="498.25" y2="339.25" stroke="#111" stroke-width="1"/>
<line x1="498.25" y1="258.4" x2="498.25" y2="260" stroke="#111" stroke-width="1"/>
<text x="498.25" y="351.75" font-size="8.0" text-anchor="middle" fill="#262626" stroke="#262626" stroke-width="0.1">0.1</text>
<line x1="546.8" y1="340.85" x2="546.8" y2="339.25" stroke="#111" stroke-width="1"/>
<line x1="546.8" y1="258.4" x2="546.8" y2="260" stroke="#111" stroke-width="1"/>
<text x="546.8" y="351.75" font-size="8.0" text-anchor="middle" fill="#262626" stroke="#262626" stroke-width="0.1">0.2</text>
<text x="498.25" y="364.05" font-size="9.0" text-anchor="middle" fill="#262626" stroke="#262626" stroke-width="0.1">|CC<tspan baseline-shift="sub" font-size="6">ij</tspan>|</text>
<text x="430.1" y="299.62" font-size="9.0" text-anchor="middle" fill="#262626" stroke="#262626" stroke-width="0.1" transform="rotate(-90 430.1 299.62)">No. of connections</text>
<rect x="187.7" y="12.6" width="13" height="6.5" fill="rgba(0,114,189,0.58)" stroke="#222" stroke-width="0.8"/>
<rect x="187.7" y="22.3" width="13" height="6.9" fill="rgba(217,83,25,0.56)" stroke="#222" stroke-width="0.8"/>
<text x="202.2" y="19" font-size="7.3" text-anchor="start" fill="#262626" stroke="#262626" stroke-width="0.1">synaptic connection</text>
<text x="202.2" y="28.8" font-size="7.3" text-anchor="start" fill="#262626" stroke="#262626" stroke-width="0.1">no synaptic connection</text>
<line x1="591.9" y1="92.65" x2="673.8" y2="10.2" stroke="#8a8a8a" stroke-width="0.6"/>
<rect x="591.9" y="10.2" width="81.9" height="82.45" fill="none" stroke="#000" stroke-width="1.4"/>
<polyline points="591.9,92.65 591.9,90.62 592.12,90.62 592.12,88.58 592.34,88.58 592.34,86.55 592.56,86.55 592.56,84.8 592.96,84.8 592.96,83.05 593.37,83.05 593.37,81.3 593.78,81.3 594.19,81.3 594.19,79.56 594.6,79.56 594.6,77.81 594.6,76.16 595.59,76.16 595.59,74.51 596.57,74.51 596.57,72.86 597.24,72.86 597.92,72.86 597.92,71.21 598.6,71.21 598.6,69.56 599.27,69.56 599.27,67.92 599.27,66.51 600.09,66.51 600.09,65.11 600.91,65.11 601.73,65.11 601.73,63.71 602.55,63.71 602.55,62.31 603.37,62.31 603.37,60.91 603.37,60.91 605.99,60.91 605.99,59.34 606.77,59.34 607.56,59.34 607.56,57.77 607.56,56.21 608.35,56.21 609.13,56.21 609.13,54.64 609.13,53.07 609.92,53.07 611.28,53.07 611.28,51.97 612.65,51.97 612.65,50.88 612.65,49.78 614.01,49.78 615.65,49.78 615.65,48.95 617.29,48.95 617.29,48.13 617.29,46.48 618.31,46.48 618.31,44.83 619.34,44.83 620.36,44.83 620.36,43.18 620.36,41.53 621.38,41.53 621.38,40.54 622.75,40.54 622.75,39.55 624.11,39.55 625.48,39.55 625.48,38.56 625.48,37.57 627.53,37.57 627.53,36.58 629.57,36.58 629.57,35.55 630.9,35.55 630.9,34.52 632.24,34.52 633.57,34.52 633.57,33.49 634.9,33.49 634.9,32.46 636.23,32.46 636.23,31.43 637.56,31.43 637.56,30.4 638.89,30.4 638.89,29.37 640.22,29.37 640.22,28.34 640.22,27.1 642.27,27.1 644.32,27.1 644.32,25.87 644.32,25.59 646.09,25.59 647.87,25.59 647.87,25.32 649.64,25.32 649.64,25.04 649.64,24.01 651.07,24.01 652.51,24.01 652.51,22.98 654.96,22.98 654.96,22.57 656.19,22.57 656.19,20.51 656.19,18.45 657.42,18.45 658.81,18.45 658.81,17.46 658.81,16.47 660.2,16.47 661.6,16.47 661.6,15.48 661.6,14.49 662.99,14.49 662.99,13.5 664.38,13.5 665.81,13.5 665.81,11.85 665.81,10.2 667.25,10.2 668.89,10.2 668.89,10.2 668.89,10.2 670.52,10.2 672.16,10.2 672.16,10.2 673.8,10.2 673.8,10.2" fill="none" stroke="#e31a1c" stroke-width="1.3" stroke-linejoin="round"/>
<polyline points="591.9,92.65 591.9,91 592.92,91 592.92,89.35 593.95,89.35 594.97,89.35 594.97,87.7 596,87.7 596,86.05 596,84.67 597.31,84.67 597.31,83.28 598.62,83.28 598.62,81.9 599.93,81.9 601.24,81.9 601.24,80.51 601.24,79.13 602.55,79.13 602.55,78.2 604.19,78.2 604.19,77.28 605.82,77.28 607.46,77.28 607.46,76.36 609.1,76.36 609.1,75.43 610.74,75.43 610.74,74.51 610.74,73.14 612.1,73.14 612.1,71.76 613.47,71.76 613.47,70.39 614.83,70.39 614.83,69.07 615.88,69.07 616.93,69.07 616.93,67.75 617.98,67.75 617.98,66.43 619.03,66.43 619.03,65.11 620.07,65.11 620.07,63.79 621.2,63.79 621.2,62.41 622.32,62.41 622.32,61.04 623.44,61.04 623.44,59.66 623.44,58.28 624.57,58.28 624.57,56.9 625.69,56.9 625.69,55.52 626.81,55.52 627.94,55.52 627.94,54.15 629.11,54.15 629.11,52.81 630.28,52.81 630.28,51.48 631.45,51.48 631.45,50.15 631.45,48.82 632.62,48.82 632.62,47.49 633.79,47.49 633.79,46.16 634.96,46.16 636.13,46.16 636.13,44.83 636.13,43.73 637.49,43.73 637.49,42.63 638.86,42.63 638.86,41.53 640.22,41.53 640.22,40.43 641.59,40.43 641.59,39.33 642.95,39.33 642.95,38.23 644.32,38.23 645.13,38.23 645.13,36.81 645.13,35.4 645.95,35.4 645.95,33.98 646.77,33.98 647.59,33.98 647.59,32.56 647.59,31.14 648.41,31.14 648.41,30.25 650,30.25 651.59,30.25 651.59,29.36 651.59,28.47 653.18,28.47 654.77,28.47 654.77,27.58 654.77,26.69 656.36,26.69 656.36,25.32 657.49,25.32 657.49,23.94 658.62,23.94 659.75,23.94 659.75,22.57 659.75,21.19 660.89,21.19 660.89,19.82 662.02,19.82 663.15,19.82 663.15,18.45 663.15,17.27 664.29,17.27 664.29,16.09 665.42,16.09 665.42,14.91 666.56,14.91 667.69,14.91 667.69,13.73 668.83,13.73 668.83,12.56 669.96,12.56 669.96,11.38 669.96,10.2 671.1,10.2 673.8,10.2 673.8,10.2" fill="none" stroke="#1f8a2a" stroke-width="1.3" stroke-linejoin="round"/>
<polyline points="591.9,92.65 591.9,91.62 593.54,91.62 593.54,90.59 595.18,90.59 595.89,90.59 595.89,88.8 596.6,88.8 596.6,87.02 596.6,85.23 597.31,85.23 597.31,83.76 597.97,83.76 597.97,82.29 598.64,82.29 599.31,82.29 599.31,80.82 599.31,79.35 599.98,79.35 599.98,77.88 600.65,77.88 600.65,76.41 601.32,76.41 602.66,76.41 602.66,75.5 603.99,75.5 603.99,74.59 605.33,74.59 605.33,73.69 605.33,73.03 607.13,73.03 607.13,72.37 608.94,72.37 608.94,71.71 610.74,71.71 610.74,70.12 611.56,70.12 612.38,70.12 612.38,68.54 613.19,68.54 613.19,66.96 614.01,66.96 614.01,65.38 614.83,65.38 614.83,63.79 616.14,63.79 616.14,62.76 617.45,62.76 617.45,61.73 618.76,61.73 618.76,60.7 618.76,59.67 620.07,59.67 620.07,58.43 621.38,58.43 621.38,57.2 622.69,57.2 624,57.2 624,55.96 625.32,55.96 625.32,54.72 626.63,54.72 626.63,53.49 627.94,53.49 627.94,52.25 627.94,51.01 629.33,51.01 629.33,49.78 630.72,49.78 630.72,48.54 632.11,48.54 633.51,48.54 633.51,47.3 633.51,46.07 634.9,46.07 634.9,44.71 636.24,44.71 636.24,43.36 637.58,43.36 637.58,42.01 638.93,42.01 638.93,40.66 640.27,40.66 640.27,39.3 641.61,39.3 642.5,39.3 642.5,37.94 642.5,36.58 643.39,36.58 643.39,35.22 644.28,35.22 645.16,35.22 645.16,33.86 645.16,32.5 646.05,32.5 646.05,31.14 646.94,31.14 648.29,31.14 648.29,30.13 648.29,29.12 649.64,29.12 650.99,29.12 650.99,28.11 650.99,27.1 652.34,27.1 652.34,25.49 653.14,25.49 653.14,23.87 653.95,23.87 654.75,23.87 654.75,22.25 654.75,20.64 655.55,20.64 655.55,19.02 656.36,19.02 658.05,19.02 658.05,17.99 658.05,16.96 659.75,16.96 659.75,15.93 661.45,15.93 661.45,14.9 663.15,14.9 664.52,14.9 664.52,13.33 665.88,13.33 665.88,11.77 667.25,11.77 667.25,10.2 667.25,10.2 668.89,10.2 670.52,10.2 670.52,10.2 670.52,10.2 672.16,10.2 673.8,10.2 673.8,10.2" fill="none" stroke="#1f3fa0" stroke-width="1.3" stroke-linejoin="round"/>
<line x1="591.9" y1="92.65" x2="593.5" y2="92.65" stroke="#111" stroke-width="1"/>
<line x1="673.8" y1="92.65" x2="672.2" y2="92.65" stroke="#111" stroke-width="1"/>
<text x="589.7" y="95.55" font-size="8.0" text-anchor="end" fill="#262626" stroke="#262626" stroke-width="0.1">0</text>
<line x1="591.9" y1="92.65" x2="591.9" y2="91.05" stroke="#111" stroke-width="1"/>
<line x1="591.9" y1="10.2" x2="591.9" y2="11.8" stroke="#111" stroke-width="1"/>
<text x="591.9" y="103.55" font-size="8.0" text-anchor="middle" fill="#262626" stroke="#262626" stroke-width="0.1">0</text>
<line x1="591.9" y1="51.43" x2="593.5" y2="51.43" stroke="#111" stroke-width="1"/>
<line x1="673.8" y1="51.43" x2="672.2" y2="51.43" stroke="#111" stroke-width="1"/>
<text x="589.7" y="54.33" font-size="8.0" text-anchor="end" fill="#262626" stroke="#262626" stroke-width="0.1">0.5</text>
<line x1="632.85" y1="92.65" x2="632.85" y2="91.05" stroke="#111" stroke-width="1"/>
<line x1="632.85" y1="10.2" x2="632.85" y2="11.8" stroke="#111" stroke-width="1"/>
<text x="632.85" y="103.55" font-size="8.0" text-anchor="middle" fill="#262626" stroke="#262626" stroke-width="0.1">0.5</text>
<line x1="591.9" y1="10.2" x2="593.5" y2="10.2" stroke="#111" stroke-width="1"/>
<line x1="673.8" y1="10.2" x2="672.2" y2="10.2" stroke="#111" stroke-width="1"/>
<text x="589.7" y="13.1" font-size="8.0" text-anchor="end" fill="#262626" stroke="#262626" stroke-width="0.1">1</text>
<line x1="673.8" y1="92.65" x2="673.8" y2="91.05" stroke="#111" stroke-width="1"/>
<line x1="673.8" y1="10.2" x2="673.8" y2="11.8" stroke="#111" stroke-width="1"/>
<text x="673.8" y="103.55" font-size="8.0" text-anchor="middle" fill="#262626" stroke="#262626" stroke-width="0.1">1</text>
<text x="632.85" y="115.85" font-size="9.0" text-anchor="middle" fill="#262626" stroke="#262626" stroke-width="0.1">FPR</text>
<text x="572.7" y="51.42" font-size="9.0" text-anchor="middle" fill="#262626" stroke="#262626" stroke-width="0.1" transform="rotate(-90 572.7 51.42)">TPR</text>
<line x1="591.9" y1="216.85" x2="673.8" y2="134.4" stroke="#8a8a8a" stroke-width="0.6"/>
<rect x="591.9" y="134.4" width="81.9" height="82.45" fill="none" stroke="#000" stroke-width="1.4"/>
<polyline points="591.9,216.85 591.9,215.23 591.9,215.23 591.9,215.23 591.9,213.6 591.9,211.98 591.9,211.98 591.9,211.98 591.9,210.35 591.9,208.73 591.9,208.73 591.9,208.73 591.9,207.11 591.9,205.48 591.9,205.48 591.9,203.86 591.9,203.86 591.9,202.23 591.9,202.23 591.9,200.61 591.9,200.61 591.9,200.61 591.9,198.99 591.9,198.99 591.9,197.36 591.9,195.74 591.9,195.74 591.9,195.74 591.9,194.11 591.9,194.11 591.9,192.49 591.9,192.49 591.9,190.87 591.9,189.24 591.9,189.24 591.9,187.62 591.9,187.62 591.9,185.99 591.9,185.99 591.9,185.99 591.9,184.37 591.9,182.75 591.9,182.75 591.9,181.12 591.9,181.12 591.9,181.12 591.9,179.5 591.9,179.5 591.9,177.87 591.9,177.87 591.9,176.25 591.9,176.25 591.9,174.63 591.9,173 591.9,173 591.9,173 591.9,171.38 591.9,169.75 591.9,169.75 591.9,168.13 591.9,168.13 591.9,166.51 591.9,166.51 591.9,166.51 591.9,164.88 591.9,163.26 591.9,163.26 591.9,161.67 592.31,161.67 592.72,161.67 592.72,160.08 592.72,158.5 593.13,158.5 593.54,158.5 593.54,156.91 594.85,156.91 594.85,154.93 596.16,154.93 596.16,152.95 596.16,151.3 597.2,151.3 597.2,149.65 598.23,149.65 598.23,148 599.27,148 600.83,148 600.83,147.1 602.38,147.1 602.38,146.19 602.38,145.3 603.72,145.3 605.06,145.3 605.06,144.4 606.4,144.4 606.4,143.51 607.73,143.51 607.73,142.62 609.07,142.62 609.07,141.72 609.07,140.83 610.41,140.83 610.41,140.17 612.43,140.17 614.45,140.17 614.45,139.51 614.45,138.85 616.47,138.85 618.31,138.85 618.31,138.46 618.31,138.07 620.16,138.07 622,138.07 622,137.68 623.84,137.68 623.84,137.29 625.56,137.29 625.56,137.2 625.56,137.1 627.28,137.1 629,137.1 629,137.01 629,136.92 630.72,136.92 632.44,136.92 632.44,136.83 634.16,136.83 634.16,136.74 635.88,136.74 635.88,136.65 635.88,136.56 637.6,136.56 637.6,136.47 639.32,136.47 641.04,136.47 641.04,136.38 642.68,136.38 642.68,136.3 644.32,136.3 644.32,136.22 645.95,136.22 645.95,136.15 645.95,136.07 647.59,136.07 647.59,135.99 649.23,135.99 649.23,135.92 650.87,135.92 652.51,135.92 652.51,135.84 654.14,135.84 654.14,135.76 654.14,135.69 655.78,135.69 655.78,135.61 657.42,135.61 659.06,135.61 659.06,135.53 660.7,135.53 660.7,135.46 662.33,135.46 662.33,135.38 662.33,135.3 663.97,135.3 665.61,135.3 665.61,135.22 667.25,135.22 667.25,135.06 667.25,134.89 668.89,134.89 668.89,134.73 670.52,134.73 672.16,134.73 672.16,134.56 672.16,134.4 673.8,134.4" fill="none" stroke="#e31a1c" stroke-width="1.3" stroke-linejoin="round"/>
<polyline points="591.9,216.85 591.9,216.85 591.9,215.2 591.9,213.55 591.9,213.55 591.9,211.9 591.9,211.9 591.9,211.9 591.9,210.25 591.9,210.25 591.9,208.61 591.9,208.61 591.9,206.96 591.9,206.96 591.9,205.31 591.9,203.66 591.9,203.66 591.9,202.01 591.9,202.01 591.9,200.36 591.9,200.36 591.9,198.71 591.9,198.71 591.9,197.06 591.9,197.06 591.9,197.06 591.9,195.41 591.9,195.41 591.9,193.76 591.9,193.76 591.9,192.12 591.9,190.47 591.9,190.47 591.9,190.47 591.9,188.82 591.9,187.17 591.9,187.17 591.9,187.17 591.9,185.52 591.9,183.87 591.9,183.87 591.9,183.87 591.9,182.22 591.9,182.22 591.9,180.57 591.9,178.92 591.9,178.92 591.9,178.92 591.9,177.27 591.9,177.27 591.9,175.63 591.9,173.98 591.9,173.98 591.9,172.33 591.9,172.33 591.9,172.33 591.9,170.68 591.9,169.03 591.9,169.03 591.9,167.38 591.9,167.38 592.02,167.38 592.02,165.63 592.15,165.63 592.15,163.89 592.27,163.89 592.27,162.14 592.39,162.14 592.39,160.4 592.39,158.65 592.51,158.65 592.64,158.65 592.64,156.91 592.64,155.27 592.79,155.27 592.94,155.27 592.94,153.64 593.09,153.64 593.09,152 593.09,150.37 593.24,150.37 593.39,150.37 593.39,148.73 593.54,148.73 593.54,147.1 593.54,145.31 594.41,145.31 595.29,145.31 595.29,143.52 596.16,143.52 596.16,141.74 597.93,141.74 597.93,140.69 597.93,139.65 599.71,139.65 599.71,138.6 601.48,138.6 601.48,138.3 603.56,138.3 603.56,138 605.63,138 607.71,138 607.71,137.7 609.48,137.7 609.48,136.82 609.48,135.94 611.26,135.94 611.26,135.06 613.03,135.06 615.16,135.06 615.16,134.73 617.29,134.73 617.29,134.4 618.9,134.4 618.9,134.4 618.9,134.4 620.52,134.4 620.52,134.4 622.13,134.4 622.13,134.4 623.75,134.4 625.36,134.4 625.36,134.4 625.36,134.4 626.98,134.4 628.59,134.4 628.59,134.4 628.59,134.4 630.21,134.4 631.82,134.4 631.82,134.4 633.43,134.4 633.43,134.4 635.05,134.4 635.05,134.4 635.05,134.4 636.66,134.4 638.28,134.4 638.28,134.4 638.28,134.4 639.89,134.4 641.51,134.4 641.51,134.4 641.51,134.4 643.12,134.4 644.74,134.4 644.74,134.4 646.35,134.4 646.35,134.4 647.97,134.4 647.97,134.4 647.97,134.4 649.58,134.4 651.2,134.4 651.2,134.4 652.81,134.4 652.81,134.4 654.42,134.4 654.42,134.4 656.04,134.4 656.04,134.4 657.65,134.4 657.65,134.4 657.65,134.4 659.27,134.4 660.88,134.4 660.88,134.4 660.88,134.4 662.5,134.4 664.11,134.4 664.11,134.4 664.11,134.4 665.73,134.4 667.34,134.4 667.34,134.4 668.96,134.4 668.96,134.4 668.96,134.4 670.57,134.4 670.57,134.4 672.19,134.4 673.8,134.4 673.8,134.4" fill="none" stroke="#1f8a2a" stroke-width="1.3" stroke-linejoin="round"/>
<polyline points="591.9,216.85 591.92,216.85 591.92,215.2 591.92,213.55 591.95,213.55 591.95,211.9 591.97,211.9 592,211.9 592,210.25 592.02,210.25 592.02,208.61 592.05,208.61 592.05,206.96 592.07,206.96 592.07,205.31 592.07,203.66 592.1,203.66 592.1,202.01 592.12,202.01 592.12,200.36 592.15,200.36 592.15,198.71 592.34,198.71 592.34,197.06 592.54,197.06 592.74,197.06 592.74,195.41 592.93,195.41 592.93,193.76 593.13,193.76 593.13,192.12 593.13,190.47 593.36,190.47 593.6,190.47 593.6,188.82 593.6,187.17 593.83,187.17 594.06,187.17 594.06,185.52 594.06,183.87 594.3,183.87 594.53,183.87 594.53,182.22 594.77,182.22 594.77,180.57 594.77,178.92 595.18,178.92 595.59,178.92 595.59,177.27 596,177.27 596,175.63 596,173.98 596.4,173.98 596.4,172.12 597.12,172.12 597.84,172.12 597.84,170.27 597.84,168.41 598.55,168.41 598.55,166.56 599.27,166.56 599.99,166.56 599.99,164.7 600.7,164.7 600.7,162.85 601.42,162.85 601.42,160.99 602.14,160.99 602.14,159.14 602.14,157.49 602.96,157.49 603.78,157.49 603.78,155.84 603.78,154.19 604.59,154.19 605.41,154.19 605.41,152.54 606.44,152.54 606.44,150.89 606.44,149.24 607.46,149.24 608.83,149.24 608.83,148.14 610.19,148.14 610.19,147.04 610.19,145.94 611.56,145.94 613.19,145.94 613.19,145.12 614.83,145.12 614.83,144.29 616.47,144.29 616.47,143.47 616.47,142.65 618.11,142.65 618.11,141.68 619.75,141.68 619.75,140.72 621.38,140.72 621.38,139.76 623.02,139.76 624.93,139.76 624.93,139.07 626.84,139.07 626.84,138.39 626.84,137.7 628.75,137.7 628.75,137.43 630.39,137.43 632.03,137.43 632.03,137.17 633.67,137.17 633.67,136.91 635.31,136.91 635.31,136.64 635.31,136.38 636.94,136.38 636.94,136.11 638.75,136.11 638.75,135.85 640.55,135.85 642.35,135.85 642.35,135.59 642.35,135.32 644.15,135.32 645.95,135.32 645.95,135.06 645.95,135.02 647.59,135.02 649.23,135.02 649.23,134.98 650.87,134.98 650.87,134.94 652.51,134.94 652.51,134.9 652.51,134.87 654.14,134.87 655.78,134.87 655.78,134.83 655.78,134.79 657.42,134.79 659.06,134.79 659.06,134.75 659.06,134.71 660.7,134.71 662.33,134.71 662.33,134.67 663.97,134.67 663.97,134.63 665.61,134.63 665.61,134.59 665.61,134.56 667.25,134.56 668.89,134.56 668.89,134.52 670.52,134.52 670.52,134.48 672.16,134.48 672.16,134.44 673.8,134.44 673.8,134.4" fill="none" stroke="#1f3fa0" stroke-width="1.3" stroke-linejoin="round"/>
<line x1="591.9" y1="216.85" x2="593.5" y2="216.85" stroke="#111" stroke-width="1"/>
<line x1="673.8" y1="216.85" x2="672.2" y2="216.85" stroke="#111" stroke-width="1"/>
<text x="589.7" y="219.75" font-size="8.0" text-anchor="end" fill="#262626" stroke="#262626" stroke-width="0.1">0</text>
<line x1="591.9" y1="216.85" x2="591.9" y2="215.25" stroke="#111" stroke-width="1"/>
<line x1="591.9" y1="134.4" x2="591.9" y2="136" stroke="#111" stroke-width="1"/>
<text x="591.9" y="227.75" font-size="8.0" text-anchor="middle" fill="#262626" stroke="#262626" stroke-width="0.1">0</text>
<line x1="591.9" y1="175.63" x2="593.5" y2="175.63" stroke="#111" stroke-width="1"/>
<line x1="673.8" y1="175.63" x2="672.2" y2="175.63" stroke="#111" stroke-width="1"/>
<text x="589.7" y="178.53" font-size="8.0" text-anchor="end" fill="#262626" stroke="#262626" stroke-width="0.1">0.5</text>
<line x1="632.85" y1="216.85" x2="632.85" y2="215.25" stroke="#111" stroke-width="1"/>
<line x1="632.85" y1="134.4" x2="632.85" y2="136" stroke="#111" stroke-width="1"/>
<text x="632.85" y="227.75" font-size="8.0" text-anchor="middle" fill="#262626" stroke="#262626" stroke-width="0.1">0.5</text>
<line x1="591.9" y1="134.4" x2="593.5" y2="134.4" stroke="#111" stroke-width="1"/>
<line x1="673.8" y1="134.4" x2="672.2" y2="134.4" stroke="#111" stroke-width="1"/>
<text x="589.7" y="137.3" font-size="8.0" text-anchor="end" fill="#262626" stroke="#262626" stroke-width="0.1">1</text>
<line x1="673.8" y1="216.85" x2="673.8" y2="215.25" stroke="#111" stroke-width="1"/>
<line x1="673.8" y1="134.4" x2="673.8" y2="136" stroke="#111" stroke-width="1"/>
<text x="673.8" y="227.75" font-size="8.0" text-anchor="middle" fill="#262626" stroke="#262626" stroke-width="0.1">1</text>
<text x="632.85" y="240.05" font-size="9.0" text-anchor="middle" fill="#262626" stroke="#262626" stroke-width="0.1">FPR</text>
<text x="572.7" y="175.62" font-size="9.0" text-anchor="middle" fill="#262626" stroke="#262626" stroke-width="0.1" transform="rotate(-90 572.7 175.62)">TPR</text>
<line x1="591.9" y1="340.85" x2="673.8" y2="258.4" stroke="#8a8a8a" stroke-width="0.6"/>
<rect x="591.9" y="258.4" width="81.9" height="82.45" fill="none" stroke="#000" stroke-width="1.4"/>
<polyline points="591.9,340.85 592.09,340.85 592.09,339.14 592.09,337.43 592.28,337.43 592.28,335.71 592.47,335.71 592.66,335.71 592.66,334 592.66,332.29 592.85,332.29 592.85,330.58 593.03,330.58 593.22,330.58 593.22,328.86 593.22,327.15 593.41,327.15 593.6,327.15 593.6,325.44 593.79,325.44 593.79,323.73 593.98,323.73 593.98,322.01 593.98,320.3 594.17,320.3 594.36,320.3 594.36,318.59 594.36,316.94 595.01,316.94 595.01,315.29 595.67,315.29 595.67,313.64 596.32,313.64 596.32,311.99 596.98,311.99 596.98,310.34 597.63,310.34 597.63,308.69 598.02,308.69 598.4,308.69 598.4,307.05 598.78,307.05 598.78,305.4 599.16,305.4 599.16,303.75 599.54,303.75 599.54,302.1 599.54,300.45 599.93,300.45 599.93,298.8 600.31,298.8 600.69,298.8 600.69,297.15 600.69,295.5 601.07,295.5 602.02,295.5 602.02,294.13 602.97,294.13 602.97,292.77 603.92,292.77 603.92,291.4 604.87,291.4 604.87,290.03 605.82,290.03 605.82,288.66 605.82,287.37 606.91,287.37 606.91,286.08 608.01,286.08 609.1,286.08 609.1,284.78 609.1,283.41 610.46,283.41 611.83,283.41 611.83,282.04 613.19,282.04 613.19,280.66 613.19,279.78 614.87,279.78 616.55,279.78 616.55,278.89 618.23,278.89 618.23,278 618.23,277.12 619.91,277.12 620.99,277.12 620.99,275.62 622.07,275.62 622.07,274.11 622.07,272.61 623.15,272.61 624.23,272.61 624.23,271.11 625.32,271.11 625.32,269.61 625.32,268.73 627.12,268.73 628.92,268.73 628.92,267.85 630.72,267.85 630.72,266.97 632.52,266.97 632.52,266.04 632.52,265.11 634.32,265.11 634.32,264.17 636.13,264.17 637.9,264.17 637.9,263.51 639.67,263.51 639.67,262.85 641.45,262.85 641.45,262.19 641.45,262.19 643.15,262.19 644.85,262.19 644.85,262.19 646.55,262.19 646.55,262.19 648.25,262.19 648.25,262.19 649.93,262.19 649.93,261.51 649.93,260.83 651.61,260.83 651.61,260.15 653.28,260.15 653.28,259.47 654.96,259.47 656.76,259.47 656.76,259.11 658.57,259.11 658.57,258.76 658.57,258.4 660.37,258.4 662.05,258.4 662.05,258.4 663.73,258.4 663.73,258.4 663.73,258.4 665.41,258.4 665.41,258.4 667.08,258.4 667.08,258.4 668.76,258.4 670.44,258.4 670.44,258.4 672.12,258.4 672.12,258.4 673.8,258.4 673.8,258.4" fill="none" stroke="#e31a1c" stroke-width="1.3" stroke-linejoin="round"/>
<polyline points="591.9,340.85 591.9,339.23 591.9,339.23 591.9,339.23 591.9,337.62 591.9,337.62 591.9,336 591.9,334.38 591.9,334.38 591.9,334.38 591.9,332.76 591.9,332.76 591.9,331.15 591.9,329.53 591.9,329.53 591.9,329.53 591.9,327.91 591.9,326.29 591.9,326.29 591.9,326.29 591.9,324.68 591.9,323.06 591.9,323.06 591.9,323.06 591.9,321.44 591.9,319.83 591.9,319.83 591.9,318.14 591.98,318.14 591.98,316.46 592.06,316.46 592.06,314.78 592.15,314.78 592.15,313.1 592.23,313.1 592.31,313.1 592.31,311.42 592.31,309.74 592.39,309.74 592.39,308.06 592.47,308.06 592.56,308.06 592.56,306.38 592.64,306.38 592.64,304.7 592.64,303.02 592.72,303.02 592.72,301.34 592.8,301.34 592.8,299.66 592.88,299.66 592.88,297.98 592.96,297.98 592.96,296.39 593.22,296.39 593.22,294.8 593.48,294.8 593.48,293.21 593.73,293.21 593.73,291.63 593.99,291.63 594.24,291.63 594.24,290.04 594.24,288.45 594.5,288.45 594.76,288.45 594.76,286.87 594.76,285.28 595.01,285.28 595.01,283.59 596.02,283.59 596.02,281.9 597.02,281.9 597.69,281.9 597.69,280.11 597.69,278.33 598.36,278.33 598.36,276.54 599.03,276.54 599.71,276.54 599.71,274.7 600.39,274.7 600.39,272.86 600.39,271.01 601.07,271.01 602.38,271.01 602.38,269.67 602.38,268.32 603.69,268.32 603.69,266.97 605,266.97 605,265.57 607.79,265.57 609.59,265.57 609.59,265.38 609.59,265.19 611.39,265.19 611.39,265 613.19,265 615.08,265 615.08,264.7 616.96,264.7 616.96,264.4 616.96,264.11 618.85,264.11 620.73,264.11 620.73,263.81 620.73,263.51 622.61,263.51 622.61,263.02 624.29,263.02 625.97,263.02 625.97,262.52 625.97,262.03 627.65,262.03 627.65,261.53 629.33,261.53 631.03,261.53 631.03,261.02 631.03,260.5 632.73,260.5 634.43,260.5 634.43,259.99 636.13,259.99 636.13,259.47 638.01,259.47 638.01,259.26 638.01,259.04 639.89,259.04 639.89,258.83 641.78,258.83 641.78,258.61 643.66,258.61 645.54,258.61 645.54,258.4 647.21,258.4 647.21,258.4 647.21,258.4 648.87,258.4 650.53,258.4 650.53,258.4 650.53,258.4 652.19,258.4 653.85,258.4 653.85,258.4 655.52,258.4 655.52,258.4 657.18,258.4 657.18,258.4 658.84,258.4 658.84,258.4 660.5,258.4 660.5,258.4 660.5,258.4 662.17,258.4 662.17,258.4 663.83,258.4 663.83,258.4 665.49,258.4 667.15,258.4 667.15,258.4 667.15,258.4 668.81,258.4 670.48,258.4 670.48,258.4 672.14,258.4 672.14,258.4 672.14,258.4 673.8,258.4" fill="none" stroke="#1f8a2a" stroke-width="1.3" stroke-linejoin="round"/>
<polyline points="591.9,340.85 591.9,339.16 592.53,339.16 593.16,339.16 593.16,337.47 593.78,337.47 593.78,335.78 593.78,334.09 594.41,334.09 595.04,334.09 595.04,332.4 595.67,332.4 595.67,330.71 595.67,329.15 596.24,329.15 596.81,329.15 596.81,327.6 596.81,326.04 597.39,326.04 597.96,326.04 597.96,324.49 597.96,322.93 598.53,322.93 599.11,322.93 599.11,321.38 599.11,319.83 599.68,319.83 599.68,318.24 600.36,318.24 600.36,316.66 601.05,316.66 601.05,315.08 601.73,315.08 601.73,313.5 602.41,313.5 603.09,313.5 603.09,311.92 603.09,310.34 603.78,310.34 603.78,308.69 604.58,308.69 605.38,308.69 605.38,307.05 606.18,307.05 606.18,305.4 606.18,303.75 606.99,303.75 606.99,302.1 607.79,302.1 607.79,300.66 608.56,300.66 608.56,299.22 609.33,299.22 609.33,297.79 610.11,297.79 610.11,296.35 610.88,296.35 610.88,294.91 611.65,294.91 611.65,293.48 612.42,293.48 613.19,293.48 613.19,292.04 613.19,291.08 614.54,291.08 615.88,291.08 615.88,290.13 615.88,289.17 617.22,289.17 617.22,288.21 618.57,288.21 618.57,287.26 619.91,287.26 621.26,287.26 621.26,286.23 621.26,285.2 622.61,285.2 622.61,284.17 623.96,284.17 625.32,284.17 625.32,283.13 626.4,283.13 626.4,281.93 626.4,280.73 627.48,280.73 628.56,280.73 628.56,279.52 628.56,278.32 629.64,278.32 629.64,277.12 630.72,277.12 630.72,276.65 632.52,276.65 634.32,276.65 634.32,276.18 634.32,275.71 636.13,275.71 636.13,274.62 637.9,274.62 639.67,274.62 639.67,273.52 641.45,273.52 641.45,272.42 641.45,271.39 643.15,271.39 644.85,271.39 644.85,270.36 644.85,269.32 646.55,269.32 646.55,268.29 648.25,268.29 649.58,268.29 649.58,266.93 649.58,265.57 650.91,265.57 650.91,264.21 652.24,264.21 653.57,264.21 653.57,262.85 653.57,261.73 654.85,261.73 656.14,261.73 656.14,260.6 657.42,260.6 657.42,259.47 659.28,259.47 659.28,259.11 659.28,258.76 661.13,258.76 661.13,258.4 662.99,258.4 662.99,258.4 664.79,258.4 666.59,258.4 666.59,258.4 668.39,258.4 668.39,258.4 668.39,258.4 670.2,258.4 672,258.4 672,258.4 672,258.4 673.8,258.4" fill="none" stroke="#1f3fa0" stroke-width="1.3" stroke-linejoin="round"/>
<line x1="591.9" y1="340.85" x2="593.5" y2="340.85" stroke="#111" stroke-width="1"/>
<line x1="673.8" y1="340.85" x2="672.2" y2="340.85" stroke="#111" stroke-width="1"/>
<text x="589.7" y="343.75" font-size="8.0" text-anchor="end" fill="#262626" stroke="#262626" stroke-width="0.1">0</text>
<line x1="591.9" y1="340.85" x2="591.9" y2="339.25" stroke="#111" stroke-width="1"/>
<line x1="591.9" y1="258.4" x2="591.9" y2="260" stroke="#111" stroke-width="1"/>
<text x="591.9" y="351.75" font-size="8.0" text-anchor="middle" fill="#262626" stroke="#262626" stroke-width="0.1">0</text>
<line x1="591.9" y1="299.62" x2="593.5" y2="299.62" stroke="#111" stroke-width="1"/>
<line x1="673.8" y1="299.62" x2="672.2" y2="299.62" stroke="#111" stroke-width="1"/>
<text x="589.7" y="302.52" font-size="8.0" text-anchor="end" fill="#262626" stroke="#262626" stroke-width="0.1">0.5</text>
<line x1="632.85" y1="340.85" x2="632.85" y2="339.25" stroke="#111" stroke-width="1"/>
<line x1="632.85" y1="258.4" x2="632.85" y2="260" stroke="#111" stroke-width="1"/>
<text x="632.85" y="351.75" font-size="8.0" text-anchor="middle" fill="#262626" stroke="#262626" stroke-width="0.1">0.5</text>
<line x1="591.9" y1="258.4" x2="593.5" y2="258.4" stroke="#111" stroke-width="1"/>
<line x1="673.8" y1="258.4" x2="672.2" y2="258.4" stroke="#111" stroke-width="1"/>
<text x="589.7" y="261.3" font-size="8.0" text-anchor="end" fill="#262626" stroke="#262626" stroke-width="0.1">1</text>
<line x1="673.8" y1="340.85" x2="673.8" y2="339.25" stroke="#111" stroke-width="1"/>
<line x1="673.8" y1="258.4" x2="673.8" y2="260" stroke="#111" stroke-width="1"/>
<text x="673.8" y="351.75" font-size="8.0" text-anchor="middle" fill="#262626" stroke="#262626" stroke-width="0.1">1</text>
<text x="632.85" y="364.05" font-size="9.0" text-anchor="middle" fill="#262626" stroke="#262626" stroke-width="0.1">FPR</text>
<text x="572.7" y="299.62" font-size="9.0" text-anchor="middle" fill="#262626" stroke="#262626" stroke-width="0.1" transform="rotate(-90 572.7 299.62)">TPR</text>
<line x1="595" y1="14.1" x2="607.8" y2="14.1" stroke="#e31a1c" stroke-width="1.6"/>
<text x="608.6" y="16.8" font-size="7.6" text-anchor="start" fill="#262626" stroke="#262626" stroke-width="0.1">Ising</text>
<line x1="595" y1="23.7" x2="607.8" y2="23.7" stroke="#1f8a2a" stroke-width="1.6"/>
<text x="608.6" y="26.4" font-size="7.6" text-anchor="start" fill="#262626" stroke="#262626" stroke-width="0.1">PC</text>
<line x1="595" y1="33.3" x2="607.8" y2="33.3" stroke="#1f3fa0" stroke-width="1.6"/>
<text x="608.6" y="36" font-size="7.6" text-anchor="start" fill="#262626" stroke="#262626" stroke-width="0.1">CC</text>
<polyline points="77.8,528.83 115.5,493.93 153.25,453.62 190.95,413.32 228.7,458.19 266.4,475.64" fill="none" stroke="#d7262b" stroke-width="1.6" stroke-linejoin="round"/>
<line x1="77.8" y1="545.45" x2="77.8" y2="513.04" stroke="#d7262b" stroke-width="1.35"/>
<line x1="76.1" y1="545.45" x2="79.5" y2="545.45" stroke="#d7262b" stroke-width="1.35"/>
<line x1="76.1" y1="513.04" x2="79.5" y2="513.04" stroke="#d7262b" stroke-width="1.35"/>
<line x1="115.5" y1="505.15" x2="115.5" y2="482.29" stroke="#d7262b" stroke-width="1.35"/>
<line x1="113.8" y1="505.15" x2="117.2" y2="505.15" stroke="#d7262b" stroke-width="1.35"/>
<line x1="113.8" y1="482.29" x2="117.2" y2="482.29" stroke="#d7262b" stroke-width="1.35"/>
<line x1="153.25" y1="469.41" x2="153.25" y2="436.59" stroke="#d7262b" stroke-width="1.35"/>
<line x1="151.55" y1="469.41" x2="154.95" y2="469.41" stroke="#d7262b" stroke-width="1.35"/>
<line x1="151.55" y1="436.59" x2="154.95" y2="436.59" stroke="#d7262b" stroke-width="1.35"/>
<line x1="190.95" y1="423.29" x2="190.95" y2="402.1" stroke="#d7262b" stroke-width="1.35"/>
<line x1="189.25" y1="423.29" x2="192.65" y2="423.29" stroke="#d7262b" stroke-width="1.35"/>
<line x1="189.25" y1="402.1" x2="192.65" y2="402.1" stroke="#d7262b" stroke-width="1.35"/>
<line x1="228.7" y1="468.58" x2="228.7" y2="447.81" stroke="#d7262b" stroke-width="1.35"/>
<line x1="227" y1="468.58" x2="230.4" y2="468.58" stroke="#d7262b" stroke-width="1.35"/>
<line x1="227" y1="447.81" x2="230.4" y2="447.81" stroke="#d7262b" stroke-width="1.35"/>
<line x1="266.4" y1="487.28" x2="266.4" y2="464.43" stroke="#d7262b" stroke-width="1.35"/>
<line x1="264.7" y1="487.28" x2="268.1" y2="487.28" stroke="#d7262b" stroke-width="1.35"/>
<line x1="264.7" y1="464.43" x2="268.1" y2="464.43" stroke="#d7262b" stroke-width="1.35"/>
<polyline points="77.8,581.6 115.5,517.61 153.25,445.31 190.95,409.58 228.7,402.1 266.4,429.11" fill="none" stroke="#1d8531" stroke-width="1.6" stroke-linejoin="round"/>
<line x1="77.8" y1="596.14" x2="77.8" y2="569.13" stroke="#1d8531" stroke-width="1.35"/>
<line x1="76.1" y1="596.14" x2="79.5" y2="596.14" stroke="#1d8531" stroke-width="1.35"/>
<line x1="76.1" y1="569.13" x2="79.5" y2="569.13" stroke="#1d8531" stroke-width="1.35"/>
<line x1="115.5" y1="525.92" x2="115.5" y2="508.05" stroke="#1d8531" stroke-width="1.35"/>
<line x1="113.8" y1="525.92" x2="117.2" y2="525.92" stroke="#1d8531" stroke-width="1.35"/>
<line x1="113.8" y1="508.05" x2="117.2" y2="508.05" stroke="#1d8531" stroke-width="1.35"/>
<line x1="153.25" y1="466.09" x2="153.25" y2="425.37" stroke="#1d8531" stroke-width="1.35"/>
<line x1="151.55" y1="466.09" x2="154.95" y2="466.09" stroke="#1d8531" stroke-width="1.35"/>
<line x1="151.55" y1="425.37" x2="154.95" y2="425.37" stroke="#1d8531" stroke-width="1.35"/>
<line x1="190.95" y1="415.81" x2="190.95" y2="403.76" stroke="#1d8531" stroke-width="1.35"/>
<line x1="189.25" y1="415.81" x2="192.65" y2="415.81" stroke="#1d8531" stroke-width="1.35"/>
<line x1="189.25" y1="403.76" x2="192.65" y2="403.76" stroke="#1d8531" stroke-width="1.35"/>
<line x1="228.7" y1="407.92" x2="228.7" y2="397.12" stroke="#1d8531" stroke-width="1.35"/>
<line x1="227" y1="407.92" x2="230.4" y2="407.92" stroke="#1d8531" stroke-width="1.35"/>
<line x1="227" y1="397.12" x2="230.4" y2="397.12" stroke="#1d8531" stroke-width="1.35"/>
<line x1="266.4" y1="441.16" x2="266.4" y2="417.89" stroke="#1d8531" stroke-width="1.35"/>
<line x1="264.7" y1="441.16" x2="268.1" y2="441.16" stroke="#1d8531" stroke-width="1.35"/>
<line x1="264.7" y1="417.89" x2="268.1" y2="417.89" stroke="#1d8531" stroke-width="1.35"/>
<polyline points="77.8,587 115.5,543.37 153.25,491.43 190.95,441.99 228.7,480.63 266.4,518.03" fill="none" stroke="#23419a" stroke-width="1.6" stroke-linejoin="round"/>
<line x1="77.8" y1="599.46" x2="77.8" y2="571.21" stroke="#23419a" stroke-width="1.35"/>
<line x1="76.1" y1="599.46" x2="79.5" y2="599.46" stroke="#23419a" stroke-width="1.35"/>
<line x1="76.1" y1="571.21" x2="79.5" y2="571.21" stroke="#23419a" stroke-width="1.35"/>
<line x1="115.5" y1="552.1" x2="115.5" y2="535.48" stroke="#23419a" stroke-width="1.35"/>
<line x1="113.8" y1="552.1" x2="117.2" y2="552.1" stroke="#23419a" stroke-width="1.35"/>
<line x1="113.8" y1="535.48" x2="117.2" y2="535.48" stroke="#23419a" stroke-width="1.35"/>
<line x1="153.25" y1="501.41" x2="153.25" y2="481.46" stroke="#23419a" stroke-width="1.35"/>
<line x1="151.55" y1="501.41" x2="154.95" y2="501.41" stroke="#23419a" stroke-width="1.35"/>
<line x1="151.55" y1="481.46" x2="154.95" y2="481.46" stroke="#23419a" stroke-width="1.35"/>
<line x1="190.95" y1="450.71" x2="190.95" y2="432.02" stroke="#23419a" stroke-width="1.35"/>
<line x1="189.25" y1="450.71" x2="192.65" y2="450.71" stroke="#23419a" stroke-width="1.35"/>
<line x1="189.25" y1="432.02" x2="192.65" y2="432.02" stroke="#23419a" stroke-width="1.35"/>
<line x1="228.7" y1="490.6" x2="228.7" y2="470.66" stroke="#23419a" stroke-width="1.35"/>
<line x1="227" y1="490.6" x2="230.4" y2="490.6" stroke="#23419a" stroke-width="1.35"/>
<line x1="227" y1="470.66" x2="230.4" y2="470.66" stroke="#23419a" stroke-width="1.35"/>
<line x1="266.4" y1="531.74" x2="266.4" y2="505.98" stroke="#23419a" stroke-width="1.35"/>
<line x1="264.7" y1="531.74" x2="268.1" y2="531.74" stroke="#23419a" stroke-width="1.35"/>
<line x1="264.7" y1="505.98" x2="268.1" y2="505.98" stroke="#23419a" stroke-width="1.35"/>
<path d="M55.2,396.7 H304.6 V646.0 H55.2 Z" fill="none" stroke="#000" stroke-width="1.45"/>
<line x1="61.06" y1="646" x2="61.06" y2="643.7" stroke="#111" stroke-width="0.9"/>
<line x1="61.06" y1="396.7" x2="61.06" y2="399" stroke="#111" stroke-width="0.9"/>
<line x1="66.11" y1="646" x2="66.11" y2="643.7" stroke="#111" stroke-width="0.9"/>
<line x1="66.11" y1="396.7" x2="66.11" y2="399" stroke="#111" stroke-width="0.9"/>
<line x1="70.49" y1="646" x2="70.49" y2="643.7" stroke="#111" stroke-width="0.9"/>
<line x1="70.49" y1="396.7" x2="70.49" y2="399" stroke="#111" stroke-width="0.9"/>
<line x1="74.35" y1="646" x2="74.35" y2="643.7" stroke="#111" stroke-width="0.9"/>
<line x1="74.35" y1="396.7" x2="74.35" y2="399" stroke="#111" stroke-width="0.9"/>
<line x1="77.8" y1="646" x2="77.8" y2="642.7" stroke="#111" stroke-width="0.9"/>
<line x1="77.8" y1="396.7" x2="77.8" y2="400" stroke="#111" stroke-width="0.9"/>
<line x1="100.51" y1="646" x2="100.51" y2="643.7" stroke="#111" stroke-width="0.9"/>
<line x1="100.51" y1="396.7" x2="100.51" y2="399" stroke="#111" stroke-width="0.9"/>
<line x1="113.8" y1="646" x2="113.8" y2="643.7" stroke="#111" stroke-width="0.9"/>
<line x1="113.8" y1="396.7" x2="113.8" y2="399" stroke="#111" stroke-width="0.9"/>
<line x1="123.23" y1="646" x2="123.23" y2="643.7" stroke="#111" stroke-width="0.9"/>
<line x1="123.23" y1="396.7" x2="123.23" y2="399" stroke="#111" stroke-width="0.9"/>
<line x1="130.54" y1="646" x2="130.54" y2="643.7" stroke="#111" stroke-width="0.9"/>
<line x1="130.54" y1="396.7" x2="130.54" y2="399" stroke="#111" stroke-width="0.9"/>
<line x1="136.51" y1="646" x2="136.51" y2="643.7" stroke="#111" stroke-width="0.9"/>
<line x1="136.51" y1="396.7" x2="136.51" y2="399" stroke="#111" stroke-width="0.9"/>
<line x1="141.56" y1="646" x2="141.56" y2="643.7" stroke="#111" stroke-width="0.9"/>
<line x1="141.56" y1="396.7" x2="141.56" y2="399" stroke="#111" stroke-width="0.9"/>
<line x1="145.94" y1="646" x2="145.94" y2="643.7" stroke="#111" stroke-width="0.9"/>
<line x1="145.94" y1="396.7" x2="145.94" y2="399" stroke="#111" stroke-width="0.9"/>
<line x1="149.8" y1="646" x2="149.8" y2="643.7" stroke="#111" stroke-width="0.9"/>
<line x1="149.8" y1="396.7" x2="149.8" y2="399" stroke="#111" stroke-width="0.9"/>
<line x1="153.25" y1="646" x2="153.25" y2="642.7" stroke="#111" stroke-width="0.9"/>
<line x1="153.25" y1="396.7" x2="153.25" y2="400" stroke="#111" stroke-width="0.9"/>
<line x1="175.96" y1="646" x2="175.96" y2="643.7" stroke="#111" stroke-width="0.9"/>
<line x1="175.96" y1="396.7" x2="175.96" y2="399" stroke="#111" stroke-width="0.9"/>
<line x1="189.25" y1="646" x2="189.25" y2="643.7" stroke="#111" stroke-width="0.9"/>
<line x1="189.25" y1="396.7" x2="189.25" y2="399" stroke="#111" stroke-width="0.9"/>
<line x1="198.68" y1="646" x2="198.68" y2="643.7" stroke="#111" stroke-width="0.9"/>
<line x1="198.68" y1="396.7" x2="198.68" y2="399" stroke="#111" stroke-width="0.9"/>
<line x1="205.99" y1="646" x2="205.99" y2="643.7" stroke="#111" stroke-width="0.9"/>
<line x1="205.99" y1="396.7" x2="205.99" y2="399" stroke="#111" stroke-width="0.9"/>
<line x1="211.96" y1="646" x2="211.96" y2="643.7" stroke="#111" stroke-width="0.9"/>
<line x1="211.96" y1="396.7" x2="211.96" y2="399" stroke="#111" stroke-width="0.9"/>
<line x1="217.01" y1="646" x2="217.01" y2="643.7" stroke="#111" stroke-width="0.9"/>
<line x1="217.01" y1="396.7" x2="217.01" y2="399" stroke="#111" stroke-width="0.9"/>
<line x1="221.39" y1="646" x2="221.39" y2="643.7" stroke="#111" stroke-width="0.9"/>
<line x1="221.39" y1="396.7" x2="221.39" y2="399" stroke="#111" stroke-width="0.9"/>
<line x1="225.25" y1="646" x2="225.25" y2="643.7" stroke="#111" stroke-width="0.9"/>
<line x1="225.25" y1="396.7" x2="225.25" y2="399" stroke="#111" stroke-width="0.9"/>
<line x1="228.7" y1="646" x2="228.7" y2="642.7" stroke="#111" stroke-width="0.9"/>
<line x1="228.7" y1="396.7" x2="228.7" y2="400" stroke="#111" stroke-width="0.9"/>
<line x1="251.41" y1="646" x2="251.41" y2="643.7" stroke="#111" stroke-width="0.9"/>
<line x1="251.41" y1="396.7" x2="251.41" y2="399" stroke="#111" stroke-width="0.9"/>
<line x1="264.7" y1="646" x2="264.7" y2="643.7" stroke="#111" stroke-width="0.9"/>
<line x1="264.7" y1="396.7" x2="264.7" y2="399" stroke="#111" stroke-width="0.9"/>
<line x1="274.13" y1="646" x2="274.13" y2="643.7" stroke="#111" stroke-width="0.9"/>
<line x1="274.13" y1="396.7" x2="274.13" y2="399" stroke="#111" stroke-width="0.9"/>
<line x1="281.44" y1="646" x2="281.44" y2="643.7" stroke="#111" stroke-width="0.9"/>
<line x1="281.44" y1="396.7" x2="281.44" y2="399" stroke="#111" stroke-width="0.9"/>
<line x1="287.41" y1="646" x2="287.41" y2="643.7" stroke="#111" stroke-width="0.9"/>
<line x1="287.41" y1="396.7" x2="287.41" y2="399" stroke="#111" stroke-width="0.9"/>
<line x1="292.46" y1="646" x2="292.46" y2="643.7" stroke="#111" stroke-width="0.9"/>
<line x1="292.46" y1="396.7" x2="292.46" y2="399" stroke="#111" stroke-width="0.9"/>
<line x1="296.84" y1="646" x2="296.84" y2="643.7" stroke="#111" stroke-width="0.9"/>
<line x1="296.84" y1="396.7" x2="296.84" y2="399" stroke="#111" stroke-width="0.9"/>
<line x1="300.7" y1="646" x2="300.7" y2="643.7" stroke="#111" stroke-width="0.9"/>
<line x1="300.7" y1="396.7" x2="300.7" y2="399" stroke="#111" stroke-width="0.9"/>
<line x1="55.2" y1="646" x2="58.5" y2="646" stroke="#111" stroke-width="1"/>
<line x1="304.6" y1="646" x2="301.3" y2="646" stroke="#111" stroke-width="1"/>
<text x="51" y="650.2" font-size="10.2" text-anchor="end" fill="#262626" stroke="#262626" stroke-width="0.1">0.4</text>
<line x1="55.2" y1="604.45" x2="58.5" y2="604.45" stroke="#111" stroke-width="1"/>
<line x1="304.6" y1="604.45" x2="301.3" y2="604.45" stroke="#111" stroke-width="1"/>
<text x="51" y="608.65" font-size="10.2" text-anchor="end" fill="#262626" stroke="#262626" stroke-width="0.1">0.5</text>
<line x1="55.2" y1="562.9" x2="58.5" y2="562.9" stroke="#111" stroke-width="1"/>
<line x1="304.6" y1="562.9" x2="301.3" y2="562.9" stroke="#111" stroke-width="1"/>
<text x="51" y="567.1" font-size="10.2" text-anchor="end" fill="#262626" stroke="#262626" stroke-width="0.1">0.6</text>
<line x1="55.2" y1="521.35" x2="58.5" y2="521.35" stroke="#111" stroke-width="1"/>
<line x1="304.6" y1="521.35" x2="301.3" y2="521.35" stroke="#111" stroke-width="1"/>
<text x="51" y="525.55" font-size="10.2" text-anchor="end" fill="#262626" stroke="#262626" stroke-width="0.1">0.7</text>
<line x1="55.2" y1="479.8" x2="58.5" y2="479.8" stroke="#111" stroke-width="1"/>
<line x1="304.6" y1="479.8" x2="301.3" y2="479.8" stroke="#111" stroke-width="1"/>
<text x="51" y="484" font-size="10.2" text-anchor="end" fill="#262626" stroke="#262626" stroke-width="0.1">0.8</text>
<line x1="55.2" y1="438.25" x2="58.5" y2="438.25" stroke="#111" stroke-width="1"/>
<line x1="304.6" y1="438.25" x2="301.3" y2="438.25" stroke="#111" stroke-width="1"/>
<text x="51" y="442.45" font-size="10.2" text-anchor="end" fill="#262626" stroke="#262626" stroke-width="0.1">0.9</text>
<line x1="55.2" y1="396.7" x2="58.5" y2="396.7" stroke="#111" stroke-width="1"/>
<line x1="304.6" y1="396.7" x2="301.3" y2="396.7" stroke="#111" stroke-width="1"/>
<text x="51" y="400.9" font-size="10.2" text-anchor="end" fill="#262626" stroke="#262626" stroke-width="0.1">1</text>
<text x="77.8" y="660.3" font-size="10.2" text-anchor="middle" fill="#262626" stroke="#262626" stroke-width="0.1">0.001</text>
<text x="151.85" y="660.3" font-size="10.2" text-anchor="middle" fill="#262626" stroke="#262626" stroke-width="0.1">0.01</text>
<text x="225.3" y="660.3" font-size="10.2" text-anchor="middle" fill="#262626" stroke="#262626" stroke-width="0.1">0.1</text>
<text x="297.65" y="660.3" font-size="10.2" text-anchor="middle" fill="#262626" stroke="#262626" stroke-width="0.1">1</text>
<text x="179.4" y="673.6" font-size="11.3" text-anchor="middle" fill="#262626" stroke="#262626" stroke-width="0.1">Mean network correlation</text>
<text x="32.8" y="521.5" font-size="11" text-anchor="middle" fill="#262626" stroke="#262626" stroke-width="0.1" transform="rotate(-90 32.8 521.5)">AUC</text>
<line x1="57.7" y1="403.6" x2="68.5" y2="403.6" stroke="#d7262b" stroke-width="1.6"/>
<text x="70" y="406.9" font-size="9.4" text-anchor="start" fill="#000" stroke="#000" stroke-width="0.22">Ising</text>
<line x1="57.7" y1="416.05" x2="68.5" y2="416.05" stroke="#1d8531" stroke-width="1.6"/>
<text x="70" y="419.35" font-size="9.4" text-anchor="start" fill="#000" stroke="#000" stroke-width="0.22">PC</text>
<line x1="57.7" y1="428.5" x2="68.5" y2="428.5" stroke="#23419a" stroke-width="1.6"/>
<text x="70" y="431.8" font-size="9.4" text-anchor="start" fill="#000" stroke="#000" stroke-width="0.22">CC</text>
<polyline points="406,492.5 443.7,473.53 481.45,455.8 519.15,419.36 556.9,457.05 594.6,470.03" fill="none" stroke="#d7262b" stroke-width="1.5" stroke-linejoin="round" stroke-dasharray="10.4,8.2"/>
<line x1="406" y1="506.22" x2="406" y2="479.77" stroke="#d7262b" stroke-width="1.35"/>
<line x1="404.3" y1="506.22" x2="407.7" y2="506.22" stroke="#d7262b" stroke-width="1.35"/>
<line x1="404.3" y1="479.77" x2="407.7" y2="479.77" stroke="#d7262b" stroke-width="1.35"/>
<line x1="443.7" y1="482.26" x2="443.7" y2="466.04" stroke="#d7262b" stroke-width="1.35"/>
<line x1="442" y1="482.26" x2="445.4" y2="482.26" stroke="#d7262b" stroke-width="1.35"/>
<line x1="442" y1="466.04" x2="445.4" y2="466.04" stroke="#d7262b" stroke-width="1.35"/>
<line x1="481.45" y1="462.29" x2="481.45" y2="446.32" stroke="#d7262b" stroke-width="1.35"/>
<line x1="479.75" y1="462.29" x2="483.15" y2="462.29" stroke="#d7262b" stroke-width="1.35"/>
<line x1="479.75" y1="446.32" x2="483.15" y2="446.32" stroke="#d7262b" stroke-width="1.35"/>
<line x1="519.15" y1="429.6" x2="519.15" y2="411.63" stroke="#d7262b" stroke-width="1.35"/>
<line x1="517.45" y1="429.6" x2="520.85" y2="429.6" stroke="#d7262b" stroke-width="1.35"/>
<line x1="517.45" y1="411.63" x2="520.85" y2="411.63" stroke="#d7262b" stroke-width="1.35"/>
<line x1="556.9" y1="466.29" x2="556.9" y2="447.82" stroke="#d7262b" stroke-width="1.35"/>
<line x1="555.2" y1="466.29" x2="558.6" y2="466.29" stroke="#d7262b" stroke-width="1.35"/>
<line x1="555.2" y1="447.82" x2="558.6" y2="447.82" stroke="#d7262b" stroke-width="1.35"/>
<line x1="594.6" y1="477.27" x2="594.6" y2="461.3" stroke="#d7262b" stroke-width="1.35"/>
<line x1="592.9" y1="477.27" x2="596.3" y2="477.27" stroke="#d7262b" stroke-width="1.35"/>
<line x1="592.9" y1="461.3" x2="596.3" y2="461.3" stroke="#d7262b" stroke-width="1.35"/>
<polyline points="406,539.92 443.7,493.74 481.45,447.07 519.15,410.38 556.9,405.14 594.6,431.09" fill="none" stroke="#1d8531" stroke-width="1.5" stroke-linejoin="round" stroke-dasharray="10.4,8.2"/>
<line x1="406" y1="539.92" x2="406" y2="539.92" stroke="#1d8531" stroke-width="1.35"/>
<line x1="404.3" y1="539.92" x2="407.7" y2="539.92" stroke="#1d8531" stroke-width="1.35"/>
<line x1="404.3" y1="539.92" x2="407.7" y2="539.92" stroke="#1d8531" stroke-width="1.35"/>
<line x1="443.7" y1="501.23" x2="443.7" y2="486.76" stroke="#1d8531" stroke-width="1.35"/>
<line x1="442" y1="501.23" x2="445.4" y2="501.23" stroke="#1d8531" stroke-width="1.35"/>
<line x1="442" y1="486.76" x2="445.4" y2="486.76" stroke="#1d8531" stroke-width="1.35"/>
<line x1="481.45" y1="457.3" x2="481.45" y2="437.83" stroke="#1d8531" stroke-width="1.35"/>
<line x1="479.75" y1="457.3" x2="483.15" y2="457.3" stroke="#1d8531" stroke-width="1.35"/>
<line x1="479.75" y1="437.83" x2="483.15" y2="437.83" stroke="#1d8531" stroke-width="1.35"/>
<line x1="519.15" y1="416.12" x2="519.15" y2="405.14" stroke="#1d8531" stroke-width="1.35"/>
<line x1="517.45" y1="416.12" x2="520.85" y2="416.12" stroke="#1d8531" stroke-width="1.35"/>
<line x1="517.45" y1="405.14" x2="520.85" y2="405.14" stroke="#1d8531" stroke-width="1.35"/>
<line x1="556.9" y1="410.38" x2="556.9" y2="400.89" stroke="#1d8531" stroke-width="1.35"/>
<line x1="555.2" y1="410.38" x2="558.6" y2="410.38" stroke="#1d8531" stroke-width="1.35"/>
<line x1="555.2" y1="400.89" x2="558.6" y2="400.89" stroke="#1d8531" stroke-width="1.35"/>
<line x1="594.6" y1="437.33" x2="594.6" y2="425.35" stroke="#1d8531" stroke-width="1.35"/>
<line x1="592.9" y1="437.33" x2="596.3" y2="437.33" stroke="#1d8531" stroke-width="1.35"/>
<line x1="592.9" y1="425.35" x2="596.3" y2="425.35" stroke="#1d8531" stroke-width="1.35"/>
<polyline points="406,539.92 443.7,516.21 481.45,482.26 519.15,442.58 556.9,459.8 594.6,493" fill="none" stroke="#23419a" stroke-width="1.5" stroke-linejoin="round" stroke-dasharray="10.4,8.2"/>
<line x1="406" y1="556.14" x2="406" y2="521.95" stroke="#23419a" stroke-width="1.35"/>
<line x1="404.3" y1="556.14" x2="407.7" y2="556.14" stroke="#23419a" stroke-width="1.35"/>
<line x1="404.3" y1="521.95" x2="407.7" y2="521.95" stroke="#23419a" stroke-width="1.35"/>
<line x1="443.7" y1="527.69" x2="443.7" y2="506.72" stroke="#23419a" stroke-width="1.35"/>
<line x1="442" y1="527.69" x2="445.4" y2="527.69" stroke="#23419a" stroke-width="1.35"/>
<line x1="442" y1="506.72" x2="445.4" y2="506.72" stroke="#23419a" stroke-width="1.35"/>
<line x1="481.45" y1="491.75" x2="481.45" y2="472.28" stroke="#23419a" stroke-width="1.35"/>
<line x1="479.75" y1="491.75" x2="483.15" y2="491.75" stroke="#23419a" stroke-width="1.35"/>
<line x1="479.75" y1="472.28" x2="483.15" y2="472.28" stroke="#23419a" stroke-width="1.35"/>
<line x1="519.15" y1="449.81" x2="519.15" y2="435.34" stroke="#23419a" stroke-width="1.35"/>
<line x1="517.45" y1="449.81" x2="520.85" y2="449.81" stroke="#23419a" stroke-width="1.35"/>
<line x1="517.45" y1="435.34" x2="520.85" y2="435.34" stroke="#23419a" stroke-width="1.35"/>
<line x1="556.9" y1="467.04" x2="556.9" y2="454.06" stroke="#23419a" stroke-width="1.35"/>
<line x1="555.2" y1="467.04" x2="558.6" y2="467.04" stroke="#23419a" stroke-width="1.35"/>
<line x1="555.2" y1="454.06" x2="558.6" y2="454.06" stroke="#23419a" stroke-width="1.35"/>
<line x1="594.6" y1="502.73" x2="594.6" y2="485.76" stroke="#23419a" stroke-width="1.35"/>
<line x1="592.9" y1="502.73" x2="596.3" y2="502.73" stroke="#23419a" stroke-width="1.35"/>
<line x1="592.9" y1="485.76" x2="596.3" y2="485.76" stroke="#23419a" stroke-width="1.35"/>
<polyline points="406,572.12 443.7,584.6 481.45,589.34 519.15,607.56 556.9,602.07 594.6,588.84" fill="none" stroke="#d7262b" stroke-width="1.5" stroke-linejoin="round" stroke-dasharray="1.3,3.3"/>
<line x1="406" y1="577.11" x2="406" y2="566.63" stroke="#d7262b" stroke-width="1.35"/>
<line x1="404.3" y1="577.11" x2="407.7" y2="577.11" stroke="#d7262b" stroke-width="1.35"/>
<line x1="404.3" y1="566.63" x2="407.7" y2="566.63" stroke="#d7262b" stroke-width="1.35"/>
<line x1="443.7" y1="588.59" x2="443.7" y2="580.6" stroke="#d7262b" stroke-width="1.35"/>
<line x1="442" y1="588.59" x2="445.4" y2="588.59" stroke="#d7262b" stroke-width="1.35"/>
<line x1="442" y1="580.6" x2="445.4" y2="580.6" stroke="#d7262b" stroke-width="1.35"/>
<line x1="481.45" y1="593.58" x2="481.45" y2="584.85" stroke="#d7262b" stroke-width="1.35"/>
<line x1="479.75" y1="593.58" x2="483.15" y2="593.58" stroke="#d7262b" stroke-width="1.35"/>
<line x1="479.75" y1="584.85" x2="483.15" y2="584.85" stroke="#d7262b" stroke-width="1.35"/>
<line x1="519.15" y1="611.06" x2="519.15" y2="604.07" stroke="#d7262b" stroke-width="1.35"/>
<line x1="517.45" y1="611.06" x2="520.85" y2="611.06" stroke="#d7262b" stroke-width="1.35"/>
<line x1="517.45" y1="604.07" x2="520.85" y2="604.07" stroke="#d7262b" stroke-width="1.35"/>
<line x1="556.9" y1="605.56" x2="556.9" y2="598.58" stroke="#d7262b" stroke-width="1.35"/>
<line x1="555.2" y1="605.56" x2="558.6" y2="605.56" stroke="#d7262b" stroke-width="1.35"/>
<line x1="555.2" y1="598.58" x2="558.6" y2="598.58" stroke="#d7262b" stroke-width="1.35"/>
<line x1="594.6" y1="593.58" x2="594.6" y2="584.1" stroke="#d7262b" stroke-width="1.35"/>
<line x1="592.9" y1="593.58" x2="596.3" y2="593.58" stroke="#d7262b" stroke-width="1.35"/>
<line x1="592.9" y1="584.1" x2="596.3" y2="584.1" stroke="#d7262b" stroke-width="1.35"/>
<polyline points="406,556.14 443.7,579.61 481.45,592.09 519.15,610.81 556.9,613.3 594.6,606.31" fill="none" stroke="#1d8531" stroke-width="1.5" stroke-linejoin="round" stroke-dasharray="1.3,3.3"/>
<line x1="406" y1="559.39" x2="406" y2="553.15" stroke="#1d8531" stroke-width="1.35"/>
<line x1="404.3" y1="559.39" x2="407.7" y2="559.39" stroke="#1d8531" stroke-width="1.35"/>
<line x1="404.3" y1="553.15" x2="407.7" y2="553.15" stroke="#1d8531" stroke-width="1.35"/>
<line x1="443.7" y1="583.6" x2="443.7" y2="575.61" stroke="#1d8531" stroke-width="1.35"/>
<line x1="442" y1="583.6" x2="445.4" y2="583.6" stroke="#1d8531" stroke-width="1.35"/>
<line x1="442" y1="575.61" x2="445.4" y2="575.61" stroke="#1d8531" stroke-width="1.35"/>
<line x1="481.45" y1="595.58" x2="481.45" y2="588.59" stroke="#1d8531" stroke-width="1.35"/>
<line x1="479.75" y1="595.58" x2="483.15" y2="595.58" stroke="#1d8531" stroke-width="1.35"/>
<line x1="479.75" y1="588.59" x2="483.15" y2="588.59" stroke="#1d8531" stroke-width="1.35"/>
<line x1="519.15" y1="614.05" x2="519.15" y2="607.31" stroke="#1d8531" stroke-width="1.35"/>
<line x1="517.45" y1="614.05" x2="520.85" y2="614.05" stroke="#1d8531" stroke-width="1.35"/>
<line x1="517.45" y1="607.31" x2="520.85" y2="607.31" stroke="#1d8531" stroke-width="1.35"/>
<line x1="556.9" y1="615.55" x2="556.9" y2="611.06" stroke="#1d8531" stroke-width="1.35"/>
<line x1="555.2" y1="615.55" x2="558.6" y2="615.55" stroke="#1d8531" stroke-width="1.35"/>
<line x1="555.2" y1="611.06" x2="558.6" y2="611.06" stroke="#1d8531" stroke-width="1.35"/>
<line x1="594.6" y1="609.31" x2="594.6" y2="603.32" stroke="#1d8531" stroke-width="1.35"/>
<line x1="592.9" y1="609.31" x2="596.3" y2="609.31" stroke="#1d8531" stroke-width="1.35"/>
<line x1="592.9" y1="603.32" x2="596.3" y2="603.32" stroke="#1d8531" stroke-width="1.35"/>
<polyline points="406,549.9 443.7,560.14 481.45,578.36 519.15,592.59 556.9,594.08 594.6,573.62" fill="none" stroke="#23419a" stroke-width="1.5" stroke-linejoin="round" stroke-dasharray="1.3,3.3"/>
<line x1="406" y1="553.15" x2="406" y2="546.16" stroke="#23419a" stroke-width="1.35"/>
<line x1="404.3" y1="553.15" x2="407.7" y2="553.15" stroke="#23419a" stroke-width="1.35"/>
<line x1="404.3" y1="546.16" x2="407.7" y2="546.16" stroke="#23419a" stroke-width="1.35"/>
<line x1="443.7" y1="565.13" x2="443.7" y2="554.9" stroke="#23419a" stroke-width="1.35"/>
<line x1="442" y1="565.13" x2="445.4" y2="565.13" stroke="#23419a" stroke-width="1.35"/>
<line x1="442" y1="554.9" x2="445.4" y2="554.9" stroke="#23419a" stroke-width="1.35"/>
<line x1="481.45" y1="581.6" x2="481.45" y2="575.11" stroke="#23419a" stroke-width="1.35"/>
<line x1="479.75" y1="581.6" x2="483.15" y2="581.6" stroke="#23419a" stroke-width="1.35"/>
<line x1="479.75" y1="575.11" x2="483.15" y2="575.11" stroke="#23419a" stroke-width="1.35"/>
<line x1="519.15" y1="596.58" x2="519.15" y2="588.59" stroke="#23419a" stroke-width="1.35"/>
<line x1="517.45" y1="596.58" x2="520.85" y2="596.58" stroke="#23419a" stroke-width="1.35"/>
<line x1="517.45" y1="588.59" x2="520.85" y2="588.59" stroke="#23419a" stroke-width="1.35"/>
<line x1="556.9" y1="598.08" x2="556.9" y2="590.09" stroke="#23419a" stroke-width="1.35"/>
<line x1="555.2" y1="598.08" x2="558.6" y2="598.08" stroke="#23419a" stroke-width="1.35"/>
<line x1="555.2" y1="590.09" x2="558.6" y2="590.09" stroke="#23419a" stroke-width="1.35"/>
<line x1="594.6" y1="578.61" x2="594.6" y2="568.62" stroke="#23419a" stroke-width="1.35"/>
<line x1="592.9" y1="578.61" x2="596.3" y2="578.61" stroke="#23419a" stroke-width="1.35"/>
<line x1="592.9" y1="568.62" x2="596.3" y2="568.62" stroke="#23419a" stroke-width="1.35"/>
<path d="M383.3,396.4 H633.1 V646.0 H383.3 Z" fill="none" stroke="#000" stroke-width="1.45"/>
<line x1="389.26" y1="646" x2="389.26" y2="643.7" stroke="#111" stroke-width="0.9"/>
<line x1="389.26" y1="396.4" x2="389.26" y2="398.7" stroke="#111" stroke-width="0.9"/>
<line x1="394.31" y1="646" x2="394.31" y2="643.7" stroke="#111" stroke-width="0.9"/>
<line x1="394.31" y1="396.4" x2="394.31" y2="398.7" stroke="#111" stroke-width="0.9"/>
<line x1="398.69" y1="646" x2="398.69" y2="643.7" stroke="#111" stroke-width="0.9"/>
<line x1="398.69" y1="396.4" x2="398.69" y2="398.7" stroke="#111" stroke-width="0.9"/>
<line x1="402.55" y1="646" x2="402.55" y2="643.7" stroke="#111" stroke-width="0.9"/>
<line x1="402.55" y1="396.4" x2="402.55" y2="398.7" stroke="#111" stroke-width="0.9"/>
<line x1="406" y1="646" x2="406" y2="642.7" stroke="#111" stroke-width="0.9"/>
<line x1="406" y1="396.4" x2="406" y2="399.7" stroke="#111" stroke-width="0.9"/>
<line x1="428.71" y1="646" x2="428.71" y2="643.7" stroke="#111" stroke-width="0.9"/>
<line x1="428.71" y1="396.4" x2="428.71" y2="398.7" stroke="#111" stroke-width="0.9"/>
<line x1="442" y1="646" x2="442" y2="643.7" stroke="#111" stroke-width="0.9"/>
<line x1="442" y1="396.4" x2="442" y2="398.7" stroke="#111" stroke-width="0.9"/>
<line x1="451.43" y1="646" x2="451.43" y2="643.7" stroke="#111" stroke-width="0.9"/>
<line x1="451.43" y1="396.4" x2="451.43" y2="398.7" stroke="#111" stroke-width="0.9"/>
<line x1="458.74" y1="646" x2="458.74" y2="643.7" stroke="#111" stroke-width="0.9"/>
<line x1="458.74" y1="396.4" x2="458.74" y2="398.7" stroke="#111" stroke-width="0.9"/>
<line x1="464.71" y1="646" x2="464.71" y2="643.7" stroke="#111" stroke-width="0.9"/>
<line x1="464.71" y1="396.4" x2="464.71" y2="398.7" stroke="#111" stroke-width="0.9"/>
<line x1="469.76" y1="646" x2="469.76" y2="643.7" stroke="#111" stroke-width="0.9"/>
<line x1="469.76" y1="396.4" x2="469.76" y2="398.7" stroke="#111" stroke-width="0.9"/>
<line x1="474.14" y1="646" x2="474.14" y2="643.7" stroke="#111" stroke-width="0.9"/>
<line x1="474.14" y1="396.4" x2="474.14" y2="398.7" stroke="#111" stroke-width="0.9"/>
<line x1="478" y1="646" x2="478" y2="643.7" stroke="#111" stroke-width="0.9"/>
<line x1="478" y1="396.4" x2="478" y2="398.7" stroke="#111" stroke-width="0.9"/>
<line x1="481.45" y1="646" x2="481.45" y2="642.7" stroke="#111" stroke-width="0.9"/>
<line x1="481.45" y1="396.4" x2="481.45" y2="399.7" stroke="#111" stroke-width="0.9"/>
<line x1="504.16" y1="646" x2="504.16" y2="643.7" stroke="#111" stroke-width="0.9"/>
<line x1="504.16" y1="396.4" x2="504.16" y2="398.7" stroke="#111" stroke-width="0.9"/>
<line x1="517.45" y1="646" x2="517.45" y2="643.7" stroke="#111" stroke-width="0.9"/>
<line x1="517.45" y1="396.4" x2="517.45" y2="398.7" stroke="#111" stroke-width="0.9"/>
<line x1="526.88" y1="646" x2="526.88" y2="643.7" stroke="#111" stroke-width="0.9"/>
<line x1="526.88" y1="396.4" x2="526.88" y2="398.7" stroke="#111" stroke-width="0.9"/>
<line x1="534.19" y1="646" x2="534.19" y2="643.7" stroke="#111" stroke-width="0.9"/>
<line x1="534.19" y1="396.4" x2="534.19" y2="398.7" stroke="#111" stroke-width="0.9"/>
<line x1="540.16" y1="646" x2="540.16" y2="643.7" stroke="#111" stroke-width="0.9"/>
<line x1="540.16" y1="396.4" x2="540.16" y2="398.7" stroke="#111" stroke-width="0.9"/>
<line x1="545.21" y1="646" x2="545.21" y2="643.7" stroke="#111" stroke-width="0.9"/>
<line x1="545.21" y1="396.4" x2="545.21" y2="398.7" stroke="#111" stroke-width="0.9"/>
<line x1="549.59" y1="646" x2="549.59" y2="643.7" stroke="#111" stroke-width="0.9"/>
<line x1="549.59" y1="396.4" x2="549.59" y2="398.7" stroke="#111" stroke-width="0.9"/>
<line x1="553.45" y1="646" x2="553.45" y2="643.7" stroke="#111" stroke-width="0.9"/>
<line x1="553.45" y1="396.4" x2="553.45" y2="398.7" stroke="#111" stroke-width="0.9"/>
<line x1="556.9" y1="646" x2="556.9" y2="642.7" stroke="#111" stroke-width="0.9"/>
<line x1="556.9" y1="396.4" x2="556.9" y2="399.7" stroke="#111" stroke-width="0.9"/>
<line x1="579.61" y1="646" x2="579.61" y2="643.7" stroke="#111" stroke-width="0.9"/>
<line x1="579.61" y1="396.4" x2="579.61" y2="398.7" stroke="#111" stroke-width="0.9"/>
<line x1="592.9" y1="646" x2="592.9" y2="643.7" stroke="#111" stroke-width="0.9"/>
<line x1="592.9" y1="396.4" x2="592.9" y2="398.7" stroke="#111" stroke-width="0.9"/>
<line x1="602.33" y1="646" x2="602.33" y2="643.7" stroke="#111" stroke-width="0.9"/>
<line x1="602.33" y1="396.4" x2="602.33" y2="398.7" stroke="#111" stroke-width="0.9"/>
<line x1="609.64" y1="646" x2="609.64" y2="643.7" stroke="#111" stroke-width="0.9"/>
<line x1="609.64" y1="396.4" x2="609.64" y2="398.7" stroke="#111" stroke-width="0.9"/>
<line x1="615.61" y1="646" x2="615.61" y2="643.7" stroke="#111" stroke-width="0.9"/>
<line x1="615.61" y1="396.4" x2="615.61" y2="398.7" stroke="#111" stroke-width="0.9"/>
<line x1="620.66" y1="646" x2="620.66" y2="643.7" stroke="#111" stroke-width="0.9"/>
<line x1="620.66" y1="396.4" x2="620.66" y2="398.7" stroke="#111" stroke-width="0.9"/>
<line x1="625.04" y1="646" x2="625.04" y2="643.7" stroke="#111" stroke-width="0.9"/>
<line x1="625.04" y1="396.4" x2="625.04" y2="398.7" stroke="#111" stroke-width="0.9"/>
<line x1="628.9" y1="646" x2="628.9" y2="643.7" stroke="#111" stroke-width="0.9"/>
<line x1="628.9" y1="396.4" x2="628.9" y2="398.7" stroke="#111" stroke-width="0.9"/>
<line x1="383.3" y1="646" x2="386.6" y2="646" stroke="#111" stroke-width="1"/>
<line x1="633.1" y1="646" x2="629.8" y2="646" stroke="#111" stroke-width="1"/>
<text x="379.7" y="650.2" font-size="10.2" text-anchor="end" fill="#262626" stroke="#262626" stroke-width="0.1">0</text>
<text x="636.4" y="650.3" font-size="10.2" text-anchor="start" fill="#262626" stroke="#262626" stroke-width="0.1">0</text>
<line x1="383.3" y1="521.2" x2="386.6" y2="521.2" stroke="#111" stroke-width="1"/>
<line x1="633.1" y1="521.2" x2="629.8" y2="521.2" stroke="#111" stroke-width="1"/>
<text x="379.7" y="525.4" font-size="10.2" text-anchor="end" fill="#262626" stroke="#262626" stroke-width="0.1">0.5</text>
<text x="636.4" y="525.5" font-size="10.2" text-anchor="start" fill="#262626" stroke="#262626" stroke-width="0.1">0.5</text>
<line x1="383.3" y1="396.4" x2="386.6" y2="396.4" stroke="#111" stroke-width="1"/>
<line x1="633.1" y1="396.4" x2="629.8" y2="396.4" stroke="#111" stroke-width="1"/>
<text x="379.7" y="400.6" font-size="10.2" text-anchor="end" fill="#262626" stroke="#262626" stroke-width="0.1">1</text>
<text x="636.4" y="400.7" font-size="10.2" text-anchor="start" fill="#262626" stroke="#262626" stroke-width="0.1">1</text>
<text x="406" y="660.3" font-size="10.2" text-anchor="middle" fill="#262626" stroke="#262626" stroke-width="0.1">0.001</text>
<text x="480.95" y="660.3" font-size="10.2" text-anchor="middle" fill="#262626" stroke="#262626" stroke-width="0.1">0.01</text>
<text x="556.4" y="660.3" font-size="10.2" text-anchor="middle" fill="#262626" stroke="#262626" stroke-width="0.1">0.1</text>
<text x="626.85" y="660.3" font-size="10.2" text-anchor="middle" fill="#262626" stroke="#262626" stroke-width="0.1">1</text>
<text x="508.5" y="673.6" font-size="11.3" text-anchor="middle" fill="#262626" stroke="#262626" stroke-width="0.1">Mean network correlation</text>
<text x="361.2" y="521.2" font-size="11" text-anchor="middle" fill="#262626" stroke="#262626" stroke-width="0.1" transform="rotate(-90 361.2 521.2)">TPR</text>
<text x="664.2" y="521.2" font-size="11" text-anchor="middle" fill="#262626" stroke="#262626" stroke-width="0.1" transform="rotate(-90 664.2 521.2)">FPR</text>
<line x1="386" y1="403.5" x2="397.5" y2="403.5" stroke="#d7262b" stroke-width="1.5" stroke-dasharray="10.4,8.2"/>
<text x="398.5" y="406.8" font-size="9.4" text-anchor="start" fill="#000" stroke="#000" stroke-width="0.22">Ising TPR</text>
<line x1="386" y1="415.6" x2="397.5" y2="415.6" stroke="#1d8531" stroke-width="1.5" stroke-dasharray="10.4,8.2"/>
<text x="398.5" y="418.9" font-size="9.4" text-anchor="start" fill="#000" stroke="#000" stroke-width="0.22">PC TPR</text>
<line x1="386" y1="427.7" x2="397.5" y2="427.7" stroke="#23419a" stroke-width="1.5" stroke-dasharray="10.4,8.2"/>
<text x="398.5" y="431" font-size="9.4" text-anchor="start" fill="#000" stroke="#000" stroke-width="0.22">CC TPR</text>
<line x1="386" y1="439.8" x2="397.5" y2="439.8" stroke="#d7262b" stroke-width="1.5" stroke-dasharray="1.3,3.3"/>
<text x="398.5" y="443.1" font-size="9.4" text-anchor="start" fill="#000" stroke="#000" stroke-width="0.22">Ising FPR</text>
<line x1="386" y1="451.9" x2="397.5" y2="451.9" stroke="#1d8531" stroke-width="1.5" stroke-dasharray="1.3,3.3"/>
<text x="398.5" y="455.2" font-size="9.4" text-anchor="start" fill="#000" stroke="#000" stroke-width="0.22">PC FPR</text>
<line x1="386" y1="464" x2="397.5" y2="464" stroke="#23419a" stroke-width="1.5" stroke-dasharray="1.3,3.3"/>
<text x="398.5" y="467.3" font-size="9.4" text-anchor="start" fill="#000" stroke="#000" stroke-width="0.22">CC FPR</text>
</svg></body></html>
